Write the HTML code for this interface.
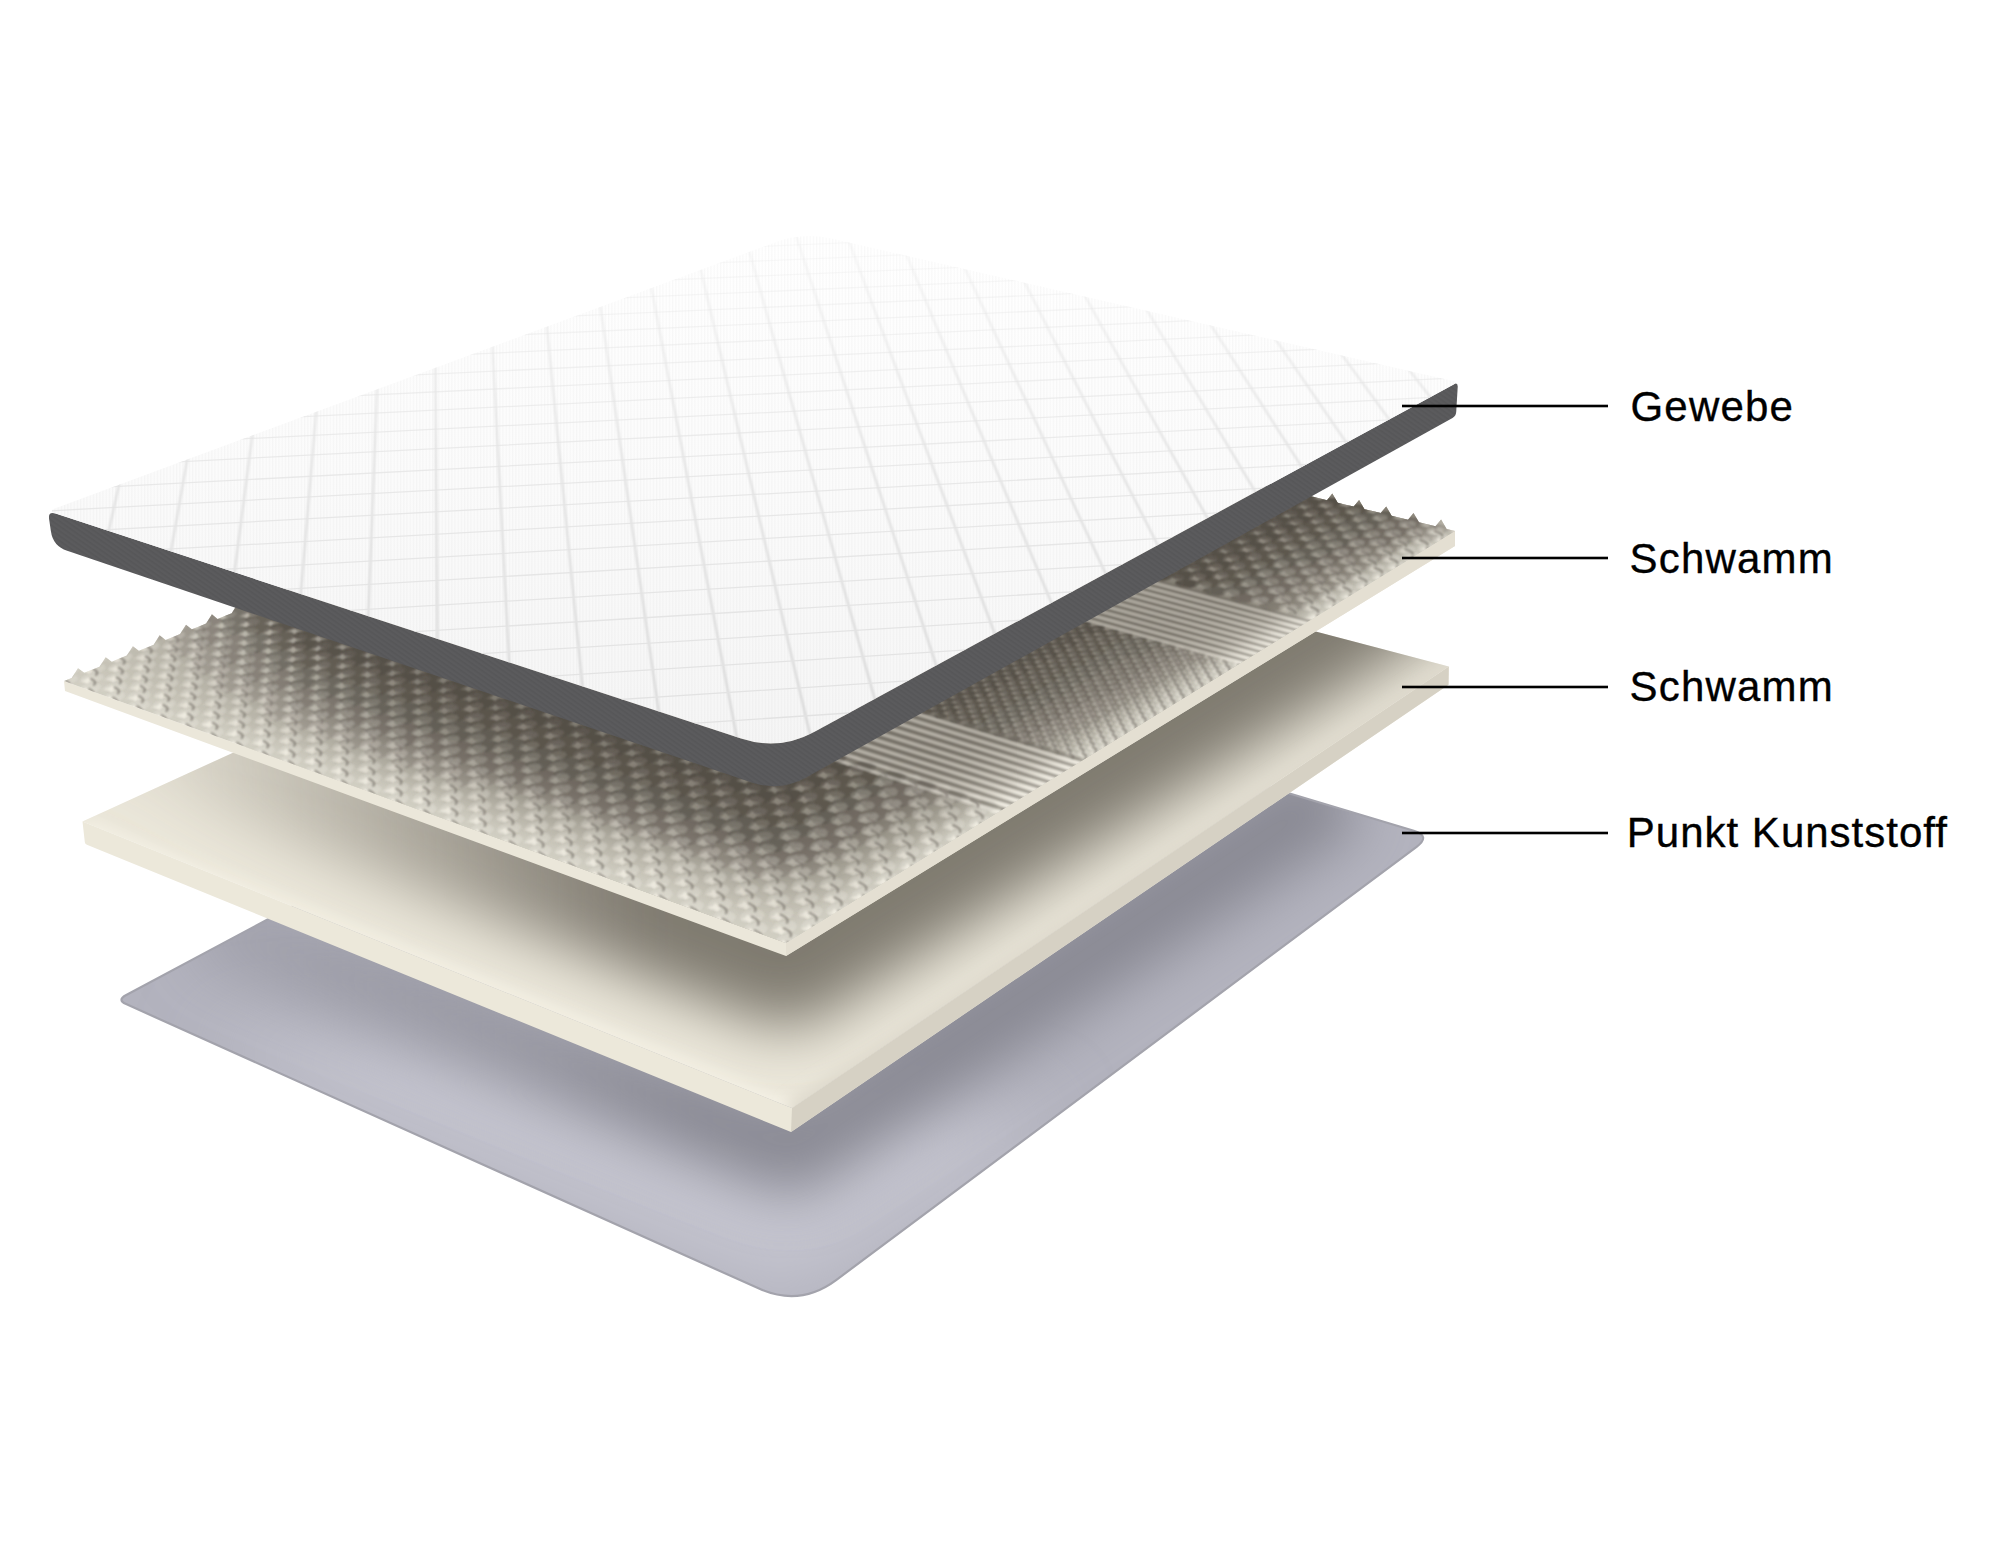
<!DOCTYPE html>
<html><head><meta charset="utf-8"><style>
html,body{margin:0;padding:0;background:#fff;width:2000px;height:1553px;overflow:hidden}
#c{position:absolute;left:0;top:0;width:2000px;height:1553px}
.lb{position:absolute;font-family:"Liberation Sans",sans-serif;font-size:42px;color:#000;white-space:nowrap;line-height:1;letter-spacing:1.2px;-webkit-text-stroke:0.35px #000}
.lb.pk{letter-spacing:1.0px}
</style></head><body>
<svg id="c" width="2000" height="1553" viewBox="0 0 2000 1553" xmlns="http://www.w3.org/2000/svg">
<defs>
<filter id="b1" x="-50%" y="-50%" width="200%" height="200%"><feGaussianBlur stdDeviation="1.1"/></filter>
<filter id="b2" x="-50%" y="-50%" width="200%" height="200%"><feGaussianBlur stdDeviation="2"/></filter>
<filter id="b3" x="-50%" y="-50%" width="200%" height="200%"><feGaussianBlur stdDeviation="3"/></filter>
<filter id="b8" x="-50%" y="-50%" width="200%" height="200%"><feGaussianBlur stdDeviation="8"/></filter>
<filter id="b15" x="-50%" y="-50%" width="200%" height="200%"><feGaussianBlur stdDeviation="15"/></filter>
<filter id="b20" x="-50%" y="-50%" width="200%" height="200%"><feGaussianBlur stdDeviation="20"/></filter>
<filter id="b25" x="-50%" y="-50%" width="200%" height="200%"><feGaussianBlur stdDeviation="25"/></filter>
<filter id="b28" x="-50%" y="-50%" width="200%" height="200%"><feGaussianBlur stdDeviation="28"/></filter>
<filter id="b30" x="-50%" y="-50%" width="200%" height="200%"><feGaussianBlur stdDeviation="30"/></filter>
<filter id="b35" x="-50%" y="-50%" width="200%" height="200%"><feGaussianBlur stdDeviation="35"/></filter>
<filter id="b40" x="-50%" y="-50%" width="200%" height="200%"><feGaussianBlur stdDeviation="40"/></filter>
<filter id="b60" x="-50%" y="-50%" width="200%" height="200%"><feGaussianBlur stdDeviation="60"/></filter>
<clipPath id="c4"><path d="M126.1 1004.1 Q117.0 1000.0 125.8 995.3 L786.0 642.0 L1413.8 830.8 Q1431.0 836.0 1416.6 846.8 L836.1 1280.1 Q800.0 1307.0 759.0 1288.6 Z"/></clipPath>
<linearGradient id="gs4" gradientUnits="userSpaceOnUse" x1="200" y1="0" x2="700" y2="0"><stop offset="0" stop-color="#868690" stop-opacity="0.30"/><stop offset="1" stop-color="#868690" stop-opacity="0.95"/></linearGradient>
<clipPath id="c3"><path d="M82.5 821.5 L797.0 495.0 L1448.8 666.4 L792.0 1108.0 Z"/></clipPath>
<linearGradient id="gs3" gradientUnits="userSpaceOnUse" x1="150" y1="0" x2="650" y2="0"><stop offset="0" stop-color="#7f7a70" stop-opacity="0.10"/><stop offset="1" stop-color="#7f7a70" stop-opacity="1.00"/></linearGradient>
<clipPath id="c2"><path d="M64.0 681.0L71.7 677.9L78.0 668.3L84.3 672.8L91.9 669.7L99.5 666.7L105.7 657.2L111.8 661.7L119.3 658.6L126.8 655.6L132.9 646.2L138.9 650.7L146.3 647.7L153.7 644.8L159.6 635.3L165.6 639.9L172.9 637.0L180.1 634.1L186.0 624.7L191.8 629.3L199.0 626.4L206.1 623.6L211.9 614.2L217.6 618.9L224.7 616.0L231.7 613.2L237.4 603.9L243.0 608.6L250.0 605.8L256.8 603.0L262.4 593.8L268.0 598.5L274.8 595.8L281.6 593.0L287.1 583.8L292.6 588.6L299.3 585.9L306.0 583.2L311.4 574.0L316.9 578.8L323.5 576.1L330.0 573.5L335.4 564.3L340.7 569.1L347.2 566.5L353.7 563.9L358.9 554.8L364.2 559.6L370.6 557.1L377.0 554.5L382.1 545.4L387.3 550.3L393.6 547.8L399.9 545.2L405.0 536.1L410.1 541.1L416.3 538.6L422.5 536.1L427.5 527.0L432.5 532.0L438.6 529.6L444.7 527.1L449.7 518.1L454.6 523.1L460.6 520.7L466.6 518.2L471.5 509.3L476.4 514.3L482.3 511.9L488.2 509.5L493.1 500.6L497.9 505.6L503.7 503.2L509.5 500.9L514.3 492.0L519.0 497.1L524.8 494.7L530.5 492.4L535.2 483.5L539.8 488.6L545.5 486.3L551.2 484.1L555.8 475.2L560.4 480.3L566.0 478.1L571.5 475.8L576.1 467.0L580.6 472.2L586.1 469.9L591.6 467.7L596.1 458.9L600.6 464.1L606.0 461.9L611.4 459.7L615.9 450.9L620.3 456.1L625.6 454.0L631.0 451.8L635.3 443.0L639.7 448.3L644.9 446.1L650.2 444.0L654.5 435.3L658.8 440.6L664.0 438.4L669.2 436.3L673.4 427.6L677.7 432.9L682.8 430.8L687.9 428.8L692.1 420.1L696.3 425.4L701.4 423.3L706.4 421.3L710.5 412.6L714.6 418.0L719.7 415.9L724.6 413.9L728.7 405.3L732.8 410.6L737.7 408.7L742.6 406.7L746.6 398.0L750.6 403.4L755.5 401.5L760.4 399.5L764.3 390.9L768.3 396.3L773.1 394.4L777.9 392.4L781.8 383.8L785.7 389.3L790.4 387.3L795.1 385.4L799.0 376.9L802.8 382.3L807.5 380.4L816.0 377.0L822.5 378.6L826.9 371.6L831.2 380.7L837.8 382.2L844.3 383.8L848.7 376.9L853.1 385.9L859.7 387.5L866.3 389.1L870.8 382.2L875.2 391.3L881.9 392.9L888.6 394.5L893.0 387.6L897.5 396.6L904.2 398.3L911.0 399.9L915.5 393.0L920.0 402.1L926.8 403.7L933.6 405.3L938.2 398.4L942.7 407.5L949.6 409.2L956.5 410.9L961.1 404.0L965.7 413.1L972.6 414.7L979.5 416.4L984.2 409.5L988.8 418.7L995.8 420.3L1002.8 422.0L1007.5 415.2L1012.2 424.3L1019.3 426.0L1026.3 427.7L1031.1 420.8L1035.8 430.0L1042.9 431.7L1050.1 433.4L1054.8 426.6L1059.6 435.7L1066.8 437.4L1074.0 439.2L1078.8 432.3L1083.7 441.5L1090.9 443.3L1098.2 445.0L1103.1 438.2L1108.0 447.4L1115.3 449.1L1122.7 450.9L1127.6 444.1L1132.5 453.3L1139.9 455.1L1147.3 456.8L1152.3 450.0L1157.3 459.2L1164.7 461.0L1172.2 462.9L1177.2 456.1L1182.3 465.3L1189.8 467.1L1197.4 468.9L1202.5 462.1L1207.5 471.4L1215.2 473.2L1222.8 475.0L1227.9 468.3L1233.0 477.5L1240.7 479.4L1248.5 481.2L1253.6 474.5L1258.8 483.7L1266.6 485.6L1274.4 487.5L1279.6 480.7L1284.8 490.0L1292.7 491.9L1300.6 493.8L1305.8 487.1L1311.1 496.3L1319.1 498.2L1327.0 500.2L1332.3 493.4L1337.7 502.7L1345.7 504.7L1353.7 506.6L1359.1 499.9L1364.5 509.2L1372.6 511.1L1380.7 513.1L1386.2 506.4L1391.6 515.7L1399.8 517.7L1408.0 519.7L1413.5 513.0L1419.0 522.3L1427.2 524.3L1435.5 526.3L1441.1 519.6L1446.6 529.0L1455.0 531.0L1455.0 531.0L786.0 943.0Z"/></clipPath>
<linearGradient id="gs2" gradientUnits="userSpaceOnUse" x1="120" y1="0" x2="420" y2="0"><stop offset="0" stop-color="#7a756b" stop-opacity="0.15"/><stop offset="1" stop-color="#7a756b" stop-opacity="1.00"/></linearGradient>
<pattern id="bt" patternUnits="userSpaceOnUse" width="4" height="4" patternTransform="rotate(35)"><rect width="4" height="1.6" fill="#000" fill-opacity="0.05"/></pattern>
<clipPath id="c1"><path d="M55.6 513.5 Q48.0 511.0 55.5 508.2 L774.9 242.4 Q803.0 232.0 832.2 238.7 L1453.1 380.9 Q1458.0 382.0 1453.6 384.4 L814.1 731.9 Q779.0 751.0 741.0 738.5 Z"/></clipPath>
<linearGradient id="g1" gradientUnits="userSpaceOnUse" x1="800" y1="240" x2="780" y2="750"><stop offset="0" stop-color="#ffffff"/><stop offset="0.5" stop-color="#fbfbfb"/><stop offset="1" stop-color="#f5f5f5"/></linearGradient>
<linearGradient id="gq" gradientUnits="userSpaceOnUse" x1="0" y1="250" x2="0" y2="720"><stop offset="0" stop-color="#d8d8d8" stop-opacity="0.25"/><stop offset="0.45" stop-color="#d8d8d8" stop-opacity="0.8"/><stop offset="1" stop-color="#d2d2d2" stop-opacity="1"/></linearGradient>
<linearGradient id="gr" gradientUnits="userSpaceOnUse" x1="0" y1="250" x2="0" y2="720"><stop offset="0" stop-color="#e4e4e4" stop-opacity="0.2"/><stop offset="0.5" stop-color="#e4e4e4" stop-opacity="0.8"/><stop offset="1" stop-color="#e2e2e2" stop-opacity="1"/></linearGradient>
<pattern id="vs" patternUnits="userSpaceOnUse" width="3.2" height="8"><rect width="1.1" height="8" fill="#000" fill-opacity="0.025"/></pattern>
</defs>
<path d="M126.1 1004.1 Q117.0 1000.0 125.8 995.3 L786.0 642.0 L1413.8 830.8 Q1431.0 836.0 1416.6 846.8 L836.1 1280.1 Q800.0 1307.0 759.0 1288.6 Z" fill="#b3b3be"/>
<g clip-path="url(#c4)">
<polygon points="200.0,1040.0 790.0,1290.0 1050.0,1120.0 560.0,1010.0" fill="#c7c7d2" filter="url(#b40)"/>
<polyline points="200.0,920.0 791.0,1150.0 1340.0,786.0" fill="none" stroke="url(#gs4)" stroke-width="90" filter="url(#b28)" stroke-linejoin="round" />
</g>
<path d="M126.1 1004.1 Q117.0 1000.0 125.8 995.3 L786.0 642.0 L1413.8 830.8 Q1431.0 836.0 1416.6 846.8 L836.1 1280.1 Q800.0 1307.0 759.0 1288.6 Z" fill="none" stroke="#a3a3ac" stroke-width="2.2"/>
<path d="M82.5 821.5 L792.0 1108.0 L1448.8 666.4 L1448.5 684.7 L791.0 1132.0 L86.9 844.8 Q85.0 844.0 84.8 842.0 Z" fill="#ece8da"/>
<polygon points="792.0,1108.0 1448.8,666.4 1448.5,684.7 791.0,1132.0" fill="#d6d1c4"/>
<path d="M82.5 821.5 L797.0 495.0 L1448.8 666.4 L792.0 1108.0 Z" fill="#ebe7da"/>
<g clip-path="url(#c3)">
<polyline points="100.0,700.0 786.0,962.0 1460.0,540.0" fill="none" stroke="url(#gs3)" stroke-width="130" filter="url(#b30)" stroke-linejoin="round" />
<polyline points="82.0,828.0 792.0,1112.0" fill="none" stroke="#f6f3e7" stroke-width="16" filter="url(#b8)"/>
<polyline points="792.0,1112.0 1450.0,672.0" fill="none" stroke="#dcd7ca" stroke-width="16" filter="url(#b8)"/>
</g>
<path d="M64.0 681.0 L786.0 943.0 L1455.0 531.0 L1455.0 546.0 L786.0 956.0 L65.0 691.0 Z" fill="#ebe7da"/>
<polygon points="786.0,943.0 1455.0,531.0 1455.0,546.0 786.0,956.0" fill="#e4dfd2"/>
<path d="M64.0 681.0L71.7 677.9L78.0 668.3L84.3 672.8L91.9 669.7L99.5 666.7L105.7 657.2L111.8 661.7L119.3 658.6L126.8 655.6L132.9 646.2L138.9 650.7L146.3 647.7L153.7 644.8L159.6 635.3L165.6 639.9L172.9 637.0L180.1 634.1L186.0 624.7L191.8 629.3L199.0 626.4L206.1 623.6L211.9 614.2L217.6 618.9L224.7 616.0L231.7 613.2L237.4 603.9L243.0 608.6L250.0 605.8L256.8 603.0L262.4 593.8L268.0 598.5L274.8 595.8L281.6 593.0L287.1 583.8L292.6 588.6L299.3 585.9L306.0 583.2L311.4 574.0L316.9 578.8L323.5 576.1L330.0 573.5L335.4 564.3L340.7 569.1L347.2 566.5L353.7 563.9L358.9 554.8L364.2 559.6L370.6 557.1L377.0 554.5L382.1 545.4L387.3 550.3L393.6 547.8L399.9 545.2L405.0 536.1L410.1 541.1L416.3 538.6L422.5 536.1L427.5 527.0L432.5 532.0L438.6 529.6L444.7 527.1L449.7 518.1L454.6 523.1L460.6 520.7L466.6 518.2L471.5 509.3L476.4 514.3L482.3 511.9L488.2 509.5L493.1 500.6L497.9 505.6L503.7 503.2L509.5 500.9L514.3 492.0L519.0 497.1L524.8 494.7L530.5 492.4L535.2 483.5L539.8 488.6L545.5 486.3L551.2 484.1L555.8 475.2L560.4 480.3L566.0 478.1L571.5 475.8L576.1 467.0L580.6 472.2L586.1 469.9L591.6 467.7L596.1 458.9L600.6 464.1L606.0 461.9L611.4 459.7L615.9 450.9L620.3 456.1L625.6 454.0L631.0 451.8L635.3 443.0L639.7 448.3L644.9 446.1L650.2 444.0L654.5 435.3L658.8 440.6L664.0 438.4L669.2 436.3L673.4 427.6L677.7 432.9L682.8 430.8L687.9 428.8L692.1 420.1L696.3 425.4L701.4 423.3L706.4 421.3L710.5 412.6L714.6 418.0L719.7 415.9L724.6 413.9L728.7 405.3L732.8 410.6L737.7 408.7L742.6 406.7L746.6 398.0L750.6 403.4L755.5 401.5L760.4 399.5L764.3 390.9L768.3 396.3L773.1 394.4L777.9 392.4L781.8 383.8L785.7 389.3L790.4 387.3L795.1 385.4L799.0 376.9L802.8 382.3L807.5 380.4L816.0 377.0L822.5 378.6L826.9 371.6L831.2 380.7L837.8 382.2L844.3 383.8L848.7 376.9L853.1 385.9L859.7 387.5L866.3 389.1L870.8 382.2L875.2 391.3L881.9 392.9L888.6 394.5L893.0 387.6L897.5 396.6L904.2 398.3L911.0 399.9L915.5 393.0L920.0 402.1L926.8 403.7L933.6 405.3L938.2 398.4L942.7 407.5L949.6 409.2L956.5 410.9L961.1 404.0L965.7 413.1L972.6 414.7L979.5 416.4L984.2 409.5L988.8 418.7L995.8 420.3L1002.8 422.0L1007.5 415.2L1012.2 424.3L1019.3 426.0L1026.3 427.7L1031.1 420.8L1035.8 430.0L1042.9 431.7L1050.1 433.4L1054.8 426.6L1059.6 435.7L1066.8 437.4L1074.0 439.2L1078.8 432.3L1083.7 441.5L1090.9 443.3L1098.2 445.0L1103.1 438.2L1108.0 447.4L1115.3 449.1L1122.7 450.9L1127.6 444.1L1132.5 453.3L1139.9 455.1L1147.3 456.8L1152.3 450.0L1157.3 459.2L1164.7 461.0L1172.2 462.9L1177.2 456.1L1182.3 465.3L1189.8 467.1L1197.4 468.9L1202.5 462.1L1207.5 471.4L1215.2 473.2L1222.8 475.0L1227.9 468.3L1233.0 477.5L1240.7 479.4L1248.5 481.2L1253.6 474.5L1258.8 483.7L1266.6 485.6L1274.4 487.5L1279.6 480.7L1284.8 490.0L1292.7 491.9L1300.6 493.8L1305.8 487.1L1311.1 496.3L1319.1 498.2L1327.0 500.2L1332.3 493.4L1337.7 502.7L1345.7 504.7L1353.7 506.6L1359.1 499.9L1364.5 509.2L1372.6 511.1L1380.7 513.1L1386.2 506.4L1391.6 515.7L1399.8 517.7L1408.0 519.7L1413.5 513.0L1419.0 522.3L1427.2 524.3L1435.5 526.3L1441.1 519.6L1446.6 529.0L1455.0 531.0L1455.0 531.0L786.0 943.0Z" fill="#ece8dc"/>
<g clip-path="url(#c2)">
<polyline points="40.0,548.0 778.0,791.0 1470.0,410.0" fill="none" stroke="url(#gs2)" stroke-width="170" filter="url(#b28)" stroke-linejoin="round" />
<polyline points="770.0,800.0 1480.0,400.0" fill="none" stroke="#8a857a" stroke-width="190" stroke-opacity="0.55" filter="url(#b35)"/>
<polyline points="64.0,681.0 786.0,946.0 1455.0,534.0" fill="none" stroke="#f2efe4" stroke-width="26" filter="url(#b8)" opacity="0.9"/>
<g filter="url(#b1)">
<path fill="#4d4840" fill-opacity="0.19" d="M60 681L65 677L61 673L52 672L41 674L36 678L39 682L49 683ZM83 690L88 685L85 682L75 680L64 683L59 687L62 691L72 692ZM107 698L112 694L109 690L99 689L88 691L83 696L86 699L96 701ZM131 707L136 703L133 699L123 698L112 700L107 704L110 708L120 709ZM156 716L161 712L157 708L147 707L136 709L131 713L135 717L145 718ZM181 725L185 720L182 717L171 715L161 718L156 722L159 726L170 727ZM206 734L211 730L207 726L196 724L186 727L181 731L184 735L195 736ZM231 743L236 739L232 735L221 734L211 736L206 740L210 745L220 746ZM257 753L262 748L257 744L247 743L236 745L231 750L235 754L246 755ZM283 762L287 757L283 753L273 752L262 755L257 759L261 763L272 765ZM309 772L314 767L310 763L299 761L288 764L283 769L287 773L298 774ZM336 781L340 777L336 772L325 771L314 774L310 778L314 783L325 784ZM363 791L367 786L363 782L352 781L341 783L336 788L341 793L352 794ZM390 801L395 796L390 792L379 791L368 793L364 798L368 802L379 804ZM418 811L422 806L418 802L407 800L396 803L391 808L396 813L407 814ZM446 821L450 816L446 812L434 811L423 813L419 818L424 823L435 824ZM474 832L479 827L474 822L463 821L452 823L447 829L452 833L463 834ZM503 842L508 837L503 832L491 831L480 834L476 839L481 844L492 845ZM532 853L537 848L532 843L520 842L509 844L505 850L510 854L521 856ZM562 864L566 858L561 853L549 852L538 855L534 860L539 865L551 866ZM592 874L596 869L591 864L579 863L568 866L564 871L569 876L581 877ZM622 885L626 880L621 875L609 874L598 877L594 882L599 887L611 888ZM653 897L657 891L651 886L640 885L629 888L625 893L630 898L642 900ZM684 908L688 902L683 897L671 896L659 899L656 905L661 910L673 911ZM716 920L720 914L714 909L702 907L691 910L687 916L693 921L705 923ZM748 931L752 925L746 920L734 919L723 922L719 928L725 933L737 934ZM781 943L784 937L778 932L766 930L755 934L751 939L757 945L770 946ZM814 955L817 949L811 944L799 942L787 945L784 951L790 957L803 958ZM847 967L851 961L844 956L832 954L820 957L817 963L823 969L836 970ZM85 680L90 675L87 672L77 671L67 673L61 677L65 681L75 682ZM109 688L114 684L111 680L101 679L90 681L85 686L88 689L98 690ZM133 697L138 693L135 689L125 688L114 690L109 694L112 698L122 699ZM157 706L162 701L159 697L149 696L138 699L133 703L136 707L147 708ZM182 714L187 710L183 706L173 705L162 707L157 712L161 716L171 717ZM207 723L212 719L208 715L198 714L187 716L182 721L186 725L196 726ZM232 733L237 728L233 724L223 723L212 725L207 730L211 734L221 735ZM258 742L262 737L258 733L248 732L237 734L232 739L236 743L247 744ZM284 751L288 746L284 742L274 741L263 744L258 748L262 752L273 753ZM310 760L314 756L310 752L300 750L289 753L284 758L288 762L299 763ZM336 770L341 765L336 761L326 760L315 762L310 767L315 771L325 773ZM363 780L368 775L363 771L352 769L341 772L337 777L341 781L352 782ZM390 789L395 785L390 780L379 779L368 782L364 787L368 791L379 792ZM418 799L422 794L417 790L407 789L396 791L391 796L396 801L407 802ZM446 809L450 804L445 800L434 799L423 801L419 806L423 811L435 812ZM474 820L478 815L473 810L462 809L451 811L447 817L452 821L463 822ZM502 830L507 825L502 820L490 819L479 822L475 827L480 831L491 833ZM531 840L535 835L530 831L519 829L508 832L504 837L509 842L520 843ZM561 851L565 846L560 841L548 840L537 842L533 848L538 852L550 854ZM590 862L594 856L589 852L578 850L567 853L562 858L568 863L579 865ZM621 873L624 867L619 862L607 861L596 864L592 869L598 874L609 875ZM651 884L655 878L649 873L638 872L627 875L623 880L628 885L640 887ZM682 895L686 889L680 884L668 883L657 886L653 891L659 896L671 898ZM713 906L717 900L711 895L699 894L688 897L684 903L690 908L702 909ZM745 918L749 912L743 907L731 905L720 908L716 914L722 919L734 921ZM777 929L781 923L775 918L763 917L752 920L748 926L754 931L766 932ZM810 941L814 935L807 930L795 928L784 932L780 937L787 943L799 944ZM843 953L847 947L840 942L828 940L817 943L813 949L820 955L832 956ZM877 965L880 959L874 954L861 952L850 955L847 961L853 967L866 968ZM87 670L93 666L89 662L79 661L69 663L64 667L67 671L77 672ZM111 678L116 674L113 670L103 669L92 671L87 676L90 679L100 680ZM135 687L140 682L136 679L126 678L116 680L111 684L114 688L124 689ZM159 695L164 691L160 687L150 686L140 688L135 693L138 697L148 698ZM184 704L188 700L185 696L175 695L164 697L159 701L163 705L173 706ZM208 713L213 709L209 705L199 704L188 706L184 710L187 714L198 715ZM233 722L238 717L234 714L224 712L213 715L208 719L212 723L223 724ZM259 731L263 726L259 723L249 721L238 724L234 728L237 732L248 733ZM284 740L289 736L285 732L274 730L264 733L259 737L263 741L274 743ZM310 749L315 745L311 741L300 740L289 742L285 747L289 751L299 752ZM337 759L341 754L337 750L326 749L315 751L311 756L315 760L326 761ZM363 768L368 764L363 759L353 758L342 761L337 765L342 770L352 771ZM390 778L395 773L390 769L379 768L369 770L364 775L368 779L379 781ZM417 788L422 783L417 779L406 777L396 780L391 785L396 789L407 790ZM445 798L449 793L445 788L434 787L423 790L418 795L423 799L434 800ZM473 808L477 803L473 798L461 797L451 800L446 805L451 809L462 810ZM501 818L506 813L501 808L490 807L479 810L474 815L479 819L490 821ZM530 828L534 823L529 819L518 817L507 820L503 825L508 830L519 831ZM559 839L563 833L558 829L547 828L536 830L532 835L537 840L548 841ZM589 849L593 844L587 839L576 838L565 841L561 846L566 851L578 852ZM619 860L623 855L617 850L606 848L595 851L591 857L596 861L608 863ZM649 871L653 865L647 861L636 859L625 862L621 867L626 872L638 874ZM680 882L683 876L678 871L666 870L655 873L651 878L657 883L669 885ZM711 893L714 887L709 882L697 881L686 884L682 889L688 894L700 896ZM742 904L746 898L740 893L728 892L717 895L713 901L719 906L731 907ZM774 916L778 910L772 905L760 903L749 906L745 912L751 917L763 919ZM807 927L810 921L804 916L792 915L781 918L777 924L783 929L796 930ZM839 939L843 933L836 928L824 926L813 929L810 935L816 941L828 942ZM873 951L876 945L869 940L857 938L846 941L843 947L849 952L862 954ZM113 668L118 664L115 661L105 660L94 662L89 666L93 669L102 671ZM137 677L142 673L138 669L128 668L118 670L113 674L116 678L126 679ZM161 685L166 681L162 677L152 676L141 678L137 683L140 686L150 688ZM185 694L190 690L186 686L176 685L166 687L161 691L164 695L174 696ZM210 703L214 698L211 694L200 693L190 696L185 700L189 704L199 705ZM234 711L239 707L235 703L225 702L214 704L210 709L213 713L224 714ZM260 720L264 716L260 712L250 711L239 713L235 718L239 722L249 723ZM285 729L290 725L286 721L275 720L265 722L260 727L264 731L274 732ZM311 739L315 734L311 730L301 729L290 731L285 736L290 740L300 741ZM337 748L341 743L337 739L327 738L316 740L311 745L316 749L326 750ZM363 757L368 753L363 748L353 747L342 750L338 754L342 759L353 760ZM390 767L395 762L390 758L379 757L369 759L364 764L369 768L379 769ZM417 776L422 772L417 767L406 766L395 769L391 773L396 778L406 779ZM445 786L449 781L444 777L433 776L423 778L418 783L423 787L434 789ZM472 796L477 791L472 787L461 786L450 788L446 793L451 797L462 799ZM501 806L505 801L500 797L489 795L478 798L474 803L479 807L490 809ZM529 816L533 811L528 807L517 805L506 808L502 813L507 818L518 819ZM558 826L562 821L557 817L546 816L535 818L531 823L536 828L547 829ZM587 837L591 832L586 827L575 826L564 828L560 834L565 838L576 840ZM617 847L621 842L615 837L604 836L593 839L589 844L594 849L606 850ZM647 858L651 853L645 848L634 847L623 849L619 855L624 859L636 861ZM677 869L681 863L675 859L664 857L653 860L649 866L655 870L666 872ZM708 880L712 874L706 869L694 868L683 871L680 876L685 881L697 883ZM739 891L743 885L737 880L725 879L714 882L711 887L716 892L728 894ZM771 902L774 897L768 892L757 890L746 893L742 899L748 904L760 905ZM803 914L807 908L800 903L788 901L777 904L774 910L780 915L792 917ZM836 925L839 919L833 914L821 913L810 916L806 922L812 927L825 928ZM869 937L872 931L865 926L853 924L842 927L839 933L845 938L858 940ZM902 949L905 943L899 938L886 936L875 939L872 945L879 950L891 952ZM115 659L120 655L116 651L107 650L96 652L91 656L95 660L104 661ZM138 667L143 663L140 659L130 658L120 660L115 664L118 668L128 669ZM162 675L167 671L164 667L154 666L143 669L138 673L142 676L152 678ZM186 684L191 680L188 676L178 675L167 677L162 681L166 685L176 686ZM211 692L216 688L212 684L202 683L191 686L186 690L190 694L200 695ZM236 701L240 697L236 693L226 692L216 694L211 698L215 702L225 703ZM260 710L265 706L261 702L251 701L240 703L236 707L240 711L250 712ZM500 794L504 789L499 785L488 784L477 786L473 791L478 796L489 797ZM528 804L532 799L527 795L516 794L505 796L501 801L506 806L517 807ZM557 814L561 809L556 805L544 804L534 806L530 811L535 816L546 817ZM586 825L590 820L584 815L573 814L562 816L558 822L563 826L575 827ZM615 835L619 830L614 825L602 824L591 827L587 832L593 836L604 838ZM645 846L649 840L643 836L632 834L621 837L617 842L622 847L634 848ZM675 856L679 851L673 846L662 845L651 848L647 853L652 858L664 859ZM705 867L709 862L703 857L692 855L681 858L677 864L683 868L695 870ZM736 878L740 872L734 868L722 866L712 869L708 875L714 879L726 881ZM768 889L771 883L765 879L754 877L743 880L739 886L745 890L757 892ZM800 900L803 895L797 890L785 888L774 891L771 897L777 902L789 903ZM832 912L835 906L829 901L817 899L806 902L803 908L809 913L821 915ZM865 923L868 917L861 912L849 911L838 914L835 920L841 925L854 926ZM898 935L901 929L894 924L882 922L871 925L868 931L875 936L887 938ZM140 657L145 653L142 650L132 649L122 651L117 655L120 658L130 659ZM164 666L169 661L165 658L155 657L145 659L140 663L144 667L153 668ZM188 674L193 670L189 666L179 665L169 667L164 671L167 675L177 676ZM212 682L217 678L213 675L203 673L193 676L188 680L192 684L202 685ZM796 887L800 882L794 877L782 875L771 878L768 884L774 889L785 890ZM828 898L832 893L825 888L813 886L803 889L799 895L805 900L817 901ZM861 910L864 904L858 899L846 898L835 900L831 906L838 911L850 913ZM894 921L897 915L890 910L878 909L867 912L864 918L870 923L883 924ZM927 933L930 927L923 922L911 920L900 923L897 929L904 934L916 936ZM142 648L147 644L143 640L134 639L123 641L118 645L122 649L132 650ZM165 656L170 652L167 648L157 647L147 649L142 653L145 657L155 658ZM189 664L194 660L190 656L181 655L170 658L165 662L169 665L179 666ZM825 885L828 880L822 875L810 873L799 876L796 882L802 887L814 888ZM857 896L860 891L854 886L842 884L831 887L828 893L834 898L846 899ZM889 908L892 902L886 897L874 896L863 899L860 904L866 909L879 911ZM922 919L925 913L919 908L907 907L896 910L893 916L899 921L912 922ZM167 646L172 642L168 639L159 638L148 640L144 644L147 647L157 648ZM853 883L856 878L850 873L838 872L827 874L824 880L830 885L842 886ZM885 894L888 889L882 884L870 883L859 885L856 891L862 896L875 897ZM918 906L921 900L914 895L902 894L892 897L889 902L895 907L907 909ZM951 917L954 911L947 906L935 905L925 908L922 914L928 919L940 920ZM849 870L852 865L846 860L834 859L824 862L821 867L827 872L839 873ZM881 881L884 876L878 871L866 870L856 873L852 878L859 883L871 884ZM914 892L917 887L910 882L898 881L888 884L885 889L891 894L903 895ZM946 904L949 898L943 893L931 892L920 895L917 900L924 905L936 907ZM877 868L880 863L874 858L862 857L852 860L849 865L855 870L867 871ZM909 879L912 874L906 869L894 868L884 871L881 876L887 881L899 882ZM942 890L945 885L938 880L926 879L916 882L913 887L919 892L931 893ZM975 902L978 896L971 891L959 890L948 893L946 898L952 903L964 905ZM873 856L876 851L870 846L859 845L848 847L845 853L851 857L863 859ZM905 867L908 861L902 857L890 855L880 858L877 863L883 868L895 869ZM937 878L940 872L934 867L922 866L912 869L909 874L915 879L927 880ZM970 889L973 883L966 878L954 877L944 880L941 885L947 890L960 891ZM901 854L904 849L898 844L886 843L876 846L873 851L879 855L891 857ZM933 865L936 859L929 855L918 853L907 856L904 861L911 866L923 868ZM965 876L968 870L962 865L950 864L939 867L937 872L943 877L955 879ZM998 887L1001 881L994 876L982 875L972 878L969 883L976 888L988 890ZM897 842L900 836L894 832L882 831L872 833L869 838L875 843L887 844ZM929 852L931 847L925 842L913 841L903 844L900 849L906 854L918 855ZM961 863L963 858L957 853L945 852L935 854L932 860L938 864L950 866ZM993 874L996 868L989 864L977 862L967 865L964 870L971 875L983 877ZM924 840L927 835L921 830L909 829L899 831L896 837L902 841L914 843ZM956 850L959 845L952 840L941 839L931 842L928 847L934 852L946 853ZM988 861L991 856L984 851L973 850L962 852L960 858L966 863L978 864ZM1021 872L1024 866L1017 862L1005 860L995 863L992 869L999 873L1011 875ZM920 828L923 823L917 818L905 817L895 819L892 825L898 829L910 830ZM952 838L954 833L948 828L936 827L926 830L923 835L930 839L941 841ZM984 849L986 843L980 839L968 837L958 840L955 845L962 850L973 851ZM1016 859L1018 854L1012 849L1000 848L990 851L987 856L994 861L1006 862ZM947 826L950 821L944 816L932 815L922 818L919 823L925 827L937 829ZM979 836L981 831L975 827L964 825L953 828L951 833L957 838L969 839ZM1011 847L1013 842L1007 837L995 836L985 838L983 844L989 848L1001 850ZM1043 857L1046 852L1039 847L1027 846L1017 849L1015 854L1021 859L1033 860ZM943 814L945 809L939 805L928 803L918 806L915 811L921 815L933 817ZM974 824L977 819L971 815L959 813L949 816L946 821L953 826L964 827ZM1006 834L1009 829L1002 825L991 823L981 826L978 831L984 836L996 837ZM1038 845L1041 840L1034 835L1022 834L1012 837L1010 842L1016 846L1028 848ZM970 812L972 807L966 803L955 802L945 804L942 809L948 814L960 815ZM1001 822L1004 817L997 813L986 812L976 814L973 819L980 824L991 825ZM1033 833L1036 828L1029 823L1017 822L1007 824L1005 830L1011 834L1023 835ZM1065 843L1068 838L1061 833L1049 832L1040 835L1037 840L1044 845L1055 846ZM996 810L999 806L993 801L981 800L971 802L969 807L975 812L986 813ZM1028 821L1030 816L1024 811L1013 810L1003 813L1000 818L1007 822L1018 823ZM1060 831L1062 826L1056 821L1044 820L1034 823L1032 828L1038 832L1050 834ZM1052 750L1053 747L1050 745L1044 745L1039 746L1038 748L1041 750L1047 751ZM1067 754L1068 752L1065 750L1059 749L1055 751L1053 753L1057 755L1062 756ZM1082 759L1083 757L1080 755L1075 754L1070 755L1069 758L1072 760L1078 760ZM1098 764L1099 762L1096 759L1090 759L1085 760L1084 762L1087 764L1093 765ZM1113 769L1114 766L1111 764L1106 764L1101 765L1100 767L1103 769L1109 770ZM1064 749L1065 747L1062 745L1057 744L1052 745L1051 748L1054 750L1060 750ZM1080 754L1081 751L1078 749L1072 749L1067 750L1066 752L1069 754L1075 755ZM1095 758L1096 756L1093 754L1087 753L1083 755L1082 757L1085 759L1090 760ZM1111 763L1112 761L1108 759L1103 758L1098 759L1097 762L1100 764L1106 764ZM1126 768L1127 765L1124 763L1118 763L1114 764L1113 766L1116 768L1122 769ZM1062 744L1063 741L1060 739L1054 739L1050 740L1049 742L1052 744L1057 745ZM1077 748L1078 746L1075 744L1070 743L1065 745L1064 747L1067 749L1072 749ZM1092 753L1094 751L1090 749L1085 748L1080 749L1079 751L1082 753L1088 754ZM1108 758L1109 755L1106 753L1100 753L1096 754L1094 756L1098 758L1103 759ZM1123 762L1124 760L1121 758L1116 757L1111 758L1110 761L1113 763L1119 763ZM1075 743L1076 741L1072 739L1067 738L1062 739L1061 741L1064 743L1070 744ZM1090 747L1091 745L1088 743L1082 743L1078 744L1076 746L1080 748L1085 749ZM1105 752L1106 750L1103 748L1098 747L1093 748L1092 751L1095 753L1101 753ZM1121 757L1122 754L1119 752L1113 752L1108 753L1107 755L1110 757L1116 758ZM1136 761L1137 759L1134 757L1128 756L1124 758L1123 760L1126 762L1132 763ZM1072 737L1073 735L1070 733L1064 733L1060 734L1059 736L1062 738L1067 739ZM1087 742L1088 740L1085 738L1080 737L1075 738L1074 741L1077 743L1083 743ZM1103 747L1104 744L1100 742L1095 742L1090 743L1089 745L1092 747L1098 748ZM1118 751L1119 749L1116 747L1110 746L1106 748L1105 750L1108 752L1113 753ZM1133 756L1134 754L1131 752L1126 751L1121 752L1120 755L1123 757L1129 757ZM1085 737L1086 734L1083 732L1077 732L1072 733L1071 735L1075 737L1080 738ZM1100 741L1101 739L1098 737L1092 736L1088 738L1087 740L1090 742L1095 742ZM1115 746L1116 744L1113 742L1108 741L1103 742L1102 744L1105 746L1111 747ZM1131 751L1132 748L1128 746L1123 746L1118 747L1117 749L1121 751L1126 752ZM1146 755L1147 753L1144 751L1138 750L1134 751L1133 754L1136 756L1142 756ZM1097 736L1098 734L1095 732L1090 731L1085 732L1084 735L1087 737L1093 737ZM1113 740L1114 738L1110 736L1105 736L1100 737L1099 739L1102 741L1108 742ZM1128 745L1129 743L1126 741L1120 740L1116 741L1115 744L1118 746L1123 746ZM1143 750L1144 747L1141 745L1136 745L1131 746L1130 748L1133 750L1139 751ZM1095 731L1096 728L1093 726L1087 726L1083 727L1081 729L1085 731L1090 732ZM1110 735L1111 733L1108 731L1102 730L1098 732L1097 734L1100 736L1105 736ZM1125 740L1126 737L1123 735L1118 735L1113 736L1112 738L1115 740L1121 741ZM1141 744L1142 742L1138 740L1133 739L1128 741L1127 743L1130 745L1136 746ZM1156 749L1157 747L1154 745L1148 744L1144 745L1143 748L1146 750L1152 750ZM1107 730L1108 728L1105 726L1100 725L1095 726L1094 728L1097 730L1103 731ZM1122 734L1123 732L1120 730L1115 730L1110 731L1109 733L1112 735L1118 736ZM1138 739L1139 737L1136 735L1130 734L1126 735L1125 738L1128 740L1133 740ZM1153 744L1154 741L1151 739L1145 739L1141 740L1140 742L1143 744L1149 745ZM1105 725L1106 722L1102 720L1097 720L1092 721L1091 723L1095 725L1100 726ZM1120 729L1121 727L1118 725L1112 724L1108 725L1107 728L1110 730L1115 730ZM1135 734L1136 731L1133 729L1127 729L1123 730L1122 732L1125 734L1130 735ZM1150 738L1151 736L1148 734L1143 733L1138 735L1137 737L1140 739L1146 739ZM1166 743L1167 740L1164 738L1158 738L1154 739L1153 741L1156 743L1161 744ZM1117 724L1118 722L1115 720L1110 719L1105 720L1104 722L1107 724L1113 725ZM1132 728L1133 726L1130 724L1125 724L1120 725L1119 727L1122 729L1128 730ZM1148 733L1149 731L1145 729L1140 728L1135 729L1134 731L1138 733L1143 734ZM1163 737L1164 735L1161 733L1155 733L1151 734L1150 736L1153 738L1158 739ZM1114 719L1115 716L1112 714L1107 714L1102 715L1101 717L1104 719L1110 720ZM1130 723L1131 721L1127 719L1122 718L1117 720L1116 722L1120 724L1125 724ZM1145 728L1146 725L1143 723L1137 723L1133 724L1132 726L1135 728L1140 729ZM1160 732L1161 730L1158 728L1152 727L1148 728L1147 731L1150 733L1156 733ZM1176 737L1177 734L1173 732L1168 732L1163 733L1162 735L1166 737L1171 738ZM1127 718L1128 716L1125 714L1119 713L1115 714L1114 717L1117 718L1122 719ZM1142 722L1143 720L1140 718L1134 718L1130 719L1129 721L1132 723L1138 723ZM1157 727L1158 725L1155 723L1150 722L1145 723L1144 725L1147 727L1153 728ZM1173 731L1174 729L1170 727L1165 727L1160 728L1159 730L1163 732L1168 733ZM1124 713L1125 711L1122 709L1117 708L1112 709L1111 711L1114 713L1120 714ZM1139 717L1140 715L1137 713L1132 712L1127 714L1126 716L1129 718L1135 718ZM1155 722L1155 719L1152 717L1147 717L1142 718L1141 720L1145 722L1150 723ZM1170 726L1171 724L1168 722L1162 721L1158 722L1157 725L1160 727L1165 727ZM1185 731L1186 728L1183 726L1177 726L1173 727L1172 729L1175 731L1181 732ZM1137 712L1138 710L1134 708L1129 707L1125 708L1124 711L1127 713L1132 713ZM1152 716L1153 714L1150 712L1144 712L1140 713L1139 715L1142 717L1147 718ZM1167 721L1168 719L1165 717L1159 716L1155 717L1154 719L1157 721L1162 722ZM1182 725L1183 723L1180 721L1175 721L1170 722L1169 724L1172 726L1178 726ZM1134 707L1135 705L1132 703L1126 702L1122 703L1121 705L1124 707L1129 708ZM1149 711L1150 709L1147 707L1141 707L1137 708L1136 710L1139 712L1144 712ZM1164 716L1165 713L1162 712L1156 711L1152 712L1151 714L1154 716L1160 717ZM1179 720L1180 718L1177 716L1172 715L1167 717L1166 719L1169 721L1175 721ZM1195 725L1196 722L1192 720L1187 720L1182 721L1182 723L1185 725L1190 726ZM1146 706L1147 704L1144 702L1139 701L1134 703L1133 705L1136 707L1142 707ZM1161 710L1162 708L1159 706L1154 706L1149 707L1148 709L1151 711L1157 712ZM1177 715L1177 713L1174 711L1169 710L1164 711L1163 714L1167 715L1172 716ZM1192 719L1193 717L1189 715L1184 715L1180 716L1179 718L1182 720L1187 720ZM1143 701L1144 699L1141 697L1136 696L1132 698L1131 700L1134 702L1139 702ZM1159 705L1159 703L1156 701L1151 701L1146 702L1146 704L1149 706L1154 707ZM1174 710L1175 708L1171 706L1166 705L1162 706L1161 708L1164 710L1169 711ZM1189 714L1190 712L1187 710L1181 709L1177 711L1176 713L1179 715L1184 715ZM1204 719L1205 716L1202 714L1196 714L1192 715L1191 717L1194 719L1200 720ZM1156 700L1157 698L1154 696L1148 696L1144 697L1143 699L1146 701L1151 701ZM1171 705L1172 702L1169 701L1163 700L1159 701L1158 703L1161 705L1166 706ZM1186 709L1187 707L1184 705L1178 704L1174 706L1173 708L1176 710L1182 710ZM1201 713L1202 711L1199 709L1193 709L1189 710L1188 712L1191 714L1197 715ZM1153 695L1154 693L1151 691L1145 691L1141 692L1140 694L1143 696L1149 696ZM1168 700L1169 697L1166 696L1160 695L1156 696L1155 698L1158 700L1164 701ZM1183 704L1184 702L1181 700L1175 699L1171 700L1170 703L1173 704L1179 705ZM1198 708L1199 706L1196 704L1191 704L1186 705L1185 707L1188 709L1194 709ZM1214 713L1214 710L1211 709L1206 708L1201 709L1201 711L1204 713L1209 714ZM1165 695L1166 692L1163 691L1158 690L1153 691L1152 693L1155 695L1161 696ZM1180 699L1181 697L1178 695L1173 694L1168 695L1167 698L1170 699L1176 700ZM1195 703L1196 701L1193 699L1188 699L1183 700L1182 702L1186 704L1191 704ZM1211 708L1211 705L1208 703L1203 703L1198 704L1198 706L1201 708L1206 709ZM1162 690L1163 687L1160 686L1155 685L1151 686L1150 688L1153 690L1158 691ZM1177 694L1178 692L1175 690L1170 689L1165 690L1165 692L1168 694L1173 695ZM1192 698L1193 696L1190 694L1185 694L1180 695L1180 697L1183 699L1188 699ZM1208 702L1208 700L1205 698L1200 698L1196 699L1195 701L1198 703L1203 704ZM1223 707L1224 705L1220 703L1215 702L1211 703L1210 705L1213 707L1218 708ZM1175 689L1175 687L1172 685L1167 684L1163 685L1162 687L1165 689L1170 690ZM1190 693L1190 691L1187 689L1182 689L1178 690L1177 692L1180 694L1185 694ZM1205 697L1206 695L1202 693L1197 693L1193 694L1192 696L1195 698L1200 699ZM1220 702L1221 700L1217 698L1212 697L1208 698L1207 700L1210 702L1215 703ZM1172 684L1173 682L1170 680L1164 679L1160 680L1159 683L1162 684L1167 685ZM1187 688L1188 686L1184 684L1179 684L1175 685L1174 687L1177 689L1182 689ZM1202 692L1203 690L1199 688L1194 688L1190 689L1189 691L1192 693L1197 693ZM1217 697L1218 695L1215 693L1209 692L1205 693L1204 695L1207 697L1213 698ZM1232 701L1233 699L1230 697L1224 696L1220 698L1219 700L1222 702L1228 702ZM1184 683L1185 681L1182 679L1176 679L1172 680L1171 682L1174 684L1180 684ZM1199 687L1200 685L1197 683L1191 683L1187 684L1186 686L1189 688L1195 688ZM1214 692L1215 690L1212 688L1206 687L1202 688L1201 690L1204 692L1210 693ZM1229 696L1230 694L1227 692L1221 691L1217 693L1216 695L1219 697L1225 697ZM1181 678L1182 676L1179 674L1174 674L1169 675L1168 677L1171 679L1177 679ZM1196 682L1197 680L1194 678L1188 678L1184 679L1183 681L1186 683L1192 684ZM1211 687L1212 685L1209 683L1203 682L1199 683L1198 685L1201 687L1207 688ZM1226 691L1227 689L1224 687L1218 686L1214 688L1213 690L1216 692L1222 692ZM1241 695L1242 693L1239 691L1233 691L1229 692L1228 694L1232 696L1237 696ZM1193 678L1194 675L1191 674L1186 673L1181 674L1180 676L1184 678L1189 679ZM1208 682L1209 680L1206 678L1200 677L1196 678L1195 680L1198 682L1204 683ZM1223 686L1224 684L1221 682L1215 681L1211 683L1210 685L1213 687L1219 687ZM1238 690L1239 688L1236 686L1230 686L1226 687L1225 689L1229 691L1234 691ZM1190 673L1191 671L1188 669L1183 668L1178 669L1178 671L1181 673L1186 674ZM1205 677L1206 675L1203 673L1198 672L1193 673L1192 676L1196 677L1201 678ZM1220 681L1221 679L1218 677L1212 677L1208 678L1207 680L1210 682L1216 682ZM1235 685L1236 683L1233 681L1227 681L1223 682L1222 684L1226 686L1231 686ZM1250 690L1251 687L1248 686L1243 685L1238 686L1237 688L1241 690L1246 691ZM1202 672L1203 670L1200 668L1195 668L1190 669L1190 671L1193 672L1198 673ZM1217 676L1218 674L1215 672L1210 672L1205 673L1204 675L1208 677L1213 677ZM1232 680L1233 678L1230 676L1224 676L1220 677L1219 679L1223 681L1228 681ZM1247 685L1248 682L1245 681L1239 680L1235 681L1234 683L1238 685L1243 686ZM1199 667L1200 665L1197 663L1192 663L1188 664L1187 666L1190 668L1195 668ZM1214 671L1215 669L1212 667L1207 667L1202 668L1202 670L1205 672L1210 672ZM1229 675L1230 673L1227 672L1222 671L1217 672L1216 674L1220 676L1225 677ZM1244 680L1245 678L1242 676L1236 675L1232 676L1231 678L1235 680L1240 681ZM1259 684L1260 682L1257 680L1252 679L1247 680L1246 683L1250 684L1255 685ZM1211 666L1212 664L1209 663L1204 662L1200 663L1199 665L1202 667L1207 667ZM1226 671L1227 669L1224 667L1219 666L1214 667L1214 669L1217 671L1222 672ZM1241 675L1242 673L1239 671L1234 670L1229 671L1228 673L1232 675L1237 676ZM1256 679L1257 677L1254 675L1248 674L1244 676L1243 678L1247 679L1252 680ZM1223 666L1224 664L1221 662L1216 661L1211 662L1211 664L1214 666L1219 667ZM1238 670L1239 668L1236 666L1231 665L1226 667L1225 669L1229 670L1234 671ZM1253 674L1254 672L1251 670L1245 670L1241 671L1240 673L1244 675L1249 675ZM1268 678L1269 676L1266 674L1260 674L1256 675L1255 677L1259 679L1264 679ZM1220 661L1221 659L1218 657L1213 657L1209 658L1208 660L1211 661L1216 662ZM1235 665L1236 663L1233 661L1228 661L1223 662L1223 664L1226 666L1231 666ZM1250 669L1251 667L1248 665L1242 665L1238 666L1237 668L1241 670L1246 670ZM1265 673L1266 671L1263 669L1257 669L1253 670L1252 672L1256 674L1261 674ZM1312 616L1313 613L1307 609L1297 608L1289 610L1288 614L1294 617L1304 618ZM1341 624L1343 620L1336 617L1326 616L1318 618L1317 622L1323 625L1333 626ZM1371 632L1372 628L1366 625L1355 624L1347 626L1346 630L1353 633L1363 634ZM1335 615L1336 611L1330 608L1320 607L1312 609L1310 613L1317 616L1327 617ZM1364 623L1365 619L1359 616L1349 615L1341 617L1340 620L1346 624L1356 625ZM1394 631L1395 627L1389 623L1378 622L1370 624L1369 628L1376 632L1386 633ZM1329 606L1330 603L1324 599L1314 598L1306 600L1304 604L1310 607L1321 608ZM1358 614L1359 610L1353 607L1342 606L1334 608L1333 612L1340 615L1350 616ZM1387 622L1388 618L1382 614L1372 613L1364 615L1362 619L1369 623L1379 624ZM1351 605L1352 601L1346 598L1336 597L1328 599L1327 603L1333 606L1343 607ZM1380 613L1382 609L1375 606L1365 605L1357 607L1356 610L1362 614L1372 615ZM1410 620L1411 617L1404 613L1394 612L1386 614L1385 618L1392 621L1402 622ZM1345 596L1346 593L1340 589L1330 588L1322 590L1321 594L1327 597L1337 598ZM1374 604L1375 600L1369 597L1358 596L1351 598L1349 602L1356 605L1366 606ZM1403 611L1404 608L1398 604L1388 603L1380 605L1379 609L1385 612L1395 613ZM1367 595L1368 591L1362 588L1352 587L1344 589L1343 593L1349 596L1359 597ZM1396 603L1397 599L1391 596L1381 595L1373 597L1372 600L1378 604L1388 605ZM1426 610L1427 606L1420 603L1410 602L1402 604L1401 608L1408 611L1418 612ZM1361 587L1362 583L1356 580L1346 579L1338 581L1337 584L1343 587L1353 588ZM1390 594L1391 590L1384 587L1374 586L1367 588L1365 592L1372 595L1382 596ZM1419 601L1420 598L1413 594L1403 593L1395 595L1394 599L1401 602L1411 603ZM1383 585L1384 582L1378 579L1368 578L1360 579L1359 583L1365 586L1375 587ZM1412 593L1413 589L1407 586L1397 585L1389 587L1388 590L1394 594L1404 595ZM1441 600L1442 596L1436 593L1426 592L1418 594L1417 598L1423 601L1433 602ZM1376 577L1378 573L1371 570L1362 569L1354 571L1353 575L1359 578L1369 579ZM1405 584L1406 581L1400 577L1390 576L1382 578L1381 582L1387 585L1397 586ZM1434 591L1435 588L1429 585L1419 584L1411 586L1410 589L1416 592L1426 593ZM1399 576L1400 572L1393 569L1383 568L1376 570L1375 573L1381 577L1391 578ZM1427 583L1428 579L1422 576L1412 575L1404 577L1403 581L1410 584L1420 585ZM1456 590L1457 587L1451 583L1441 583L1433 584L1432 588L1439 591L1449 592ZM1392 567L1393 564L1387 561L1377 560L1369 562L1368 565L1374 568L1384 569ZM1421 575L1421 571L1415 568L1405 567L1398 569L1397 572L1403 575L1413 576ZM1449 582L1450 578L1444 575L1434 574L1426 576L1425 580L1432 583L1442 584ZM1414 566L1415 563L1409 560L1399 559L1391 561L1390 564L1396 567L1406 568ZM1442 573L1443 570L1437 567L1427 566L1420 568L1419 571L1425 574L1435 575ZM1471 581L1472 577L1466 574L1456 573L1448 575L1447 578L1454 582L1464 582ZM1407 558L1408 555L1402 552L1392 551L1385 552L1384 556L1390 559L1400 560ZM1436 565L1437 562L1430 558L1420 558L1413 559L1412 563L1418 566L1428 567ZM1464 572L1465 569L1459 566L1449 565L1441 566L1440 570L1447 573L1457 574ZM1429 557L1430 553L1424 550L1414 549L1406 551L1405 555L1412 558L1421 559ZM1457 564L1458 560L1452 557L1442 556L1435 558L1434 562L1440 565L1450 566ZM1486 571L1487 568L1480 564L1471 563L1463 565L1462 569L1469 572L1479 573ZM1422 549L1423 545L1417 542L1407 541L1400 543L1399 547L1405 550L1415 551ZM1450 556L1451 552L1445 549L1435 548L1428 550L1427 554L1433 557L1443 558ZM1479 563L1480 559L1473 556L1464 555L1456 557L1455 561L1462 564L1472 565ZM1444 548L1445 544L1438 541L1429 540L1421 542L1420 546L1427 549L1436 549ZM1472 555L1473 551L1467 548L1457 547L1449 549L1449 552L1455 555L1465 556ZM1501 562L1501 558L1495 555L1485 554L1478 556L1477 559L1483 563L1493 563ZM1465 547L1466 543L1460 540L1450 539L1443 541L1442 544L1448 547L1458 548ZM1494 553L1494 550L1488 547L1478 546L1471 548L1470 551L1476 554L1486 555ZM1458 539L1459 535L1453 532L1443 531L1436 533L1435 536L1441 539L1451 540ZM1487 545L1487 542L1481 539L1471 538L1464 540L1463 543L1469 546L1479 547ZM1515 552L1516 549L1509 546L1500 545L1492 547L1491 550L1498 553L1508 554ZM1480 537L1480 534L1474 531L1464 530L1457 532L1456 535L1463 538L1472 539ZM1508 544L1509 541L1502 538L1493 537L1485 539L1484 542L1491 545L1501 546Z"/>
<path fill="#4d4840" fill-opacity="0.32" d="M286 719L290 714L286 711L276 709L266 712L261 716L265 720L275 721ZM311 728L316 723L312 719L301 718L291 721L286 725L290 729L301 730ZM337 737L342 733L338 729L327 727L317 730L312 734L316 738L327 739ZM364 746L368 742L364 738L353 737L343 739L338 743L342 748L353 749ZM390 756L394 751L390 747L379 746L369 748L364 753L369 757L379 758ZM417 765L421 760L417 756L406 755L395 758L391 762L395 766L406 768ZM444 775L448 770L444 766L433 765L422 767L418 772L423 776L433 777ZM472 784L476 780L471 775L460 774L450 777L445 782L450 786L461 787ZM237 691L241 687L237 683L227 682L217 684L212 688L216 692L226 693ZM261 700L266 695L262 692L252 690L242 693L237 697L241 701L251 702ZM287 708L291 704L287 700L277 699L266 701L262 706L266 710L276 711ZM312 717L316 713L312 709L302 708L292 710L287 715L291 719L301 720ZM338 726L342 722L338 718L328 717L317 719L313 724L317 728L327 729ZM364 736L368 731L364 727L353 726L343 728L338 733L343 737L353 738ZM390 745L394 740L390 736L379 735L369 737L364 742L369 746L379 747ZM417 754L421 749L417 745L406 744L395 747L391 751L395 755L406 757ZM444 764L448 759L443 755L433 754L422 756L418 761L422 765L433 766ZM471 773L475 768L471 764L460 763L449 765L445 770L450 774L460 776ZM499 783L503 778L498 774L487 773L477 775L472 780L477 784L488 785ZM527 793L531 788L526 783L515 782L504 785L500 790L505 794L516 795ZM555 803L559 798L554 793L543 792L533 795L528 800L533 804L545 805ZM584 813L588 808L583 803L572 802L561 805L557 810L562 814L573 815ZM613 823L617 818L612 813L601 812L590 815L586 820L591 824L602 826ZM643 833L646 828L641 824L630 822L619 825L615 830L621 835L632 836ZM673 844L676 838L671 834L659 833L649 835L645 841L650 845L662 846ZM703 854L707 849L701 844L689 843L679 846L675 851L681 856L692 857ZM734 865L737 860L731 855L720 854L709 856L705 862L711 867L723 868ZM765 876L768 871L762 866L751 864L740 867L736 873L742 877L754 879ZM213 673L218 668L214 665L204 664L194 666L189 670L193 674L203 675ZM238 681L242 677L239 673L229 672L218 674L213 678L217 682L227 683ZM262 690L267 685L263 682L253 680L243 683L238 687L242 691L252 692ZM287 698L292 694L288 690L278 689L267 691L263 696L267 699L277 701ZM731 852L734 847L729 843L717 841L706 844L703 849L709 854L720 855ZM762 863L765 858L759 853L748 852L737 855L733 860L739 865L751 866ZM793 874L796 869L790 864L779 863L768 865L765 871L770 876L782 877ZM191 655L195 650L192 647L182 646L172 648L167 652L171 656L180 657ZM215 663L219 659L216 655L206 654L195 656L191 660L194 664L204 665ZM239 671L243 667L240 663L230 662L219 664L215 669L218 672L228 673ZM821 872L824 867L818 862L807 861L796 864L793 869L799 874L810 875ZM169 637L173 633L170 630L160 629L150 631L145 635L149 638L158 639ZM192 645L197 641L193 638L183 637L173 639L168 643L172 646L182 647ZM216 653L220 649L217 646L207 645L197 647L192 651L196 654L206 655ZM193 636L198 632L194 628L185 627L175 629L170 633L174 637L183 638ZM845 858L849 852L843 848L831 846L820 849L817 854L823 859L835 860ZM195 626L199 623L196 619L186 618L176 620L171 624L175 627L185 628ZM869 843L872 838L866 834L855 832L844 835L841 840L847 845L859 846ZM893 829L896 824L890 820L878 819L868 821L865 826L871 831L883 832ZM916 816L919 811L913 806L901 805L891 808L888 813L894 817L906 818ZM938 802L941 797L935 793L924 792L914 794L911 799L917 804L929 805ZM965 800L968 796L962 791L950 790L940 793L938 797L944 802L955 803ZM1036 745L1037 743L1034 741L1029 740L1024 741L1023 744L1026 746L1032 746ZM1034 740L1035 737L1032 735L1027 735L1022 736L1021 738L1024 740L1029 741ZM1049 744L1050 742L1047 740L1042 739L1037 741L1036 743L1039 745L1044 746ZM1047 739L1048 737L1045 735L1039 734L1035 735L1033 738L1036 740L1042 740ZM1044 734L1045 731L1042 729L1037 729L1032 730L1031 732L1034 734L1040 735ZM1059 738L1060 736L1057 734L1052 733L1047 735L1046 737L1049 739L1055 739ZM1057 733L1058 731L1055 729L1049 728L1045 729L1044 732L1047 734L1052 734ZM1054 728L1055 725L1052 723L1047 723L1042 724L1041 726L1044 728L1050 729ZM1069 732L1071 730L1067 728L1062 727L1057 729L1056 731L1059 733L1065 733ZM1067 727L1068 725L1065 723L1060 722L1055 723L1054 725L1057 727L1062 728ZM1082 731L1083 729L1080 727L1075 727L1070 728L1069 730L1072 732L1077 733ZM1064 722L1066 719L1062 717L1057 717L1052 718L1051 720L1054 722L1060 723ZM1080 726L1081 724L1077 722L1072 721L1067 723L1066 725L1069 727L1075 727ZM1077 721L1078 719L1075 717L1070 716L1065 717L1064 720L1067 721L1072 722ZM1092 725L1093 723L1090 721L1085 721L1080 722L1079 724L1082 726L1087 727ZM1074 716L1076 713L1072 712L1067 711L1063 712L1061 714L1064 716L1070 717ZM1089 720L1091 718L1087 716L1082 715L1077 717L1076 719L1079 721L1085 721ZM1087 715L1088 713L1085 711L1080 710L1075 711L1074 714L1077 716L1082 716ZM1102 719L1103 717L1100 715L1094 715L1090 716L1089 718L1092 720L1097 721ZM1084 710L1085 708L1082 706L1077 705L1072 706L1071 708L1074 710L1080 711ZM1099 714L1100 712L1097 710L1092 710L1087 711L1086 713L1089 715L1095 715ZM1097 709L1098 707L1095 705L1089 704L1085 706L1084 708L1087 710L1092 710ZM1112 713L1113 711L1110 709L1104 709L1100 710L1099 712L1102 714L1107 715ZM1094 704L1095 702L1092 700L1087 699L1082 700L1081 703L1084 705L1090 705ZM1109 708L1110 706L1107 704L1102 704L1097 705L1096 707L1099 709L1105 709ZM1107 703L1108 701L1104 699L1099 699L1095 700L1094 702L1097 704L1102 704ZM1122 708L1123 705L1119 703L1114 703L1110 704L1109 706L1112 708L1117 709ZM1119 702L1120 700L1117 698L1111 698L1107 699L1106 701L1109 703L1114 704ZM1116 697L1117 695L1114 693L1109 693L1104 694L1103 696L1106 698L1112 699ZM1131 702L1132 700L1129 698L1124 697L1119 698L1118 700L1121 702L1127 703ZM1129 697L1129 695L1126 693L1121 692L1117 693L1116 695L1119 697L1124 698ZM1126 692L1127 690L1124 688L1118 687L1114 688L1113 690L1116 692L1121 693ZM1141 696L1142 694L1139 692L1133 691L1129 693L1128 695L1131 697L1136 697ZM1138 691L1139 689L1136 687L1131 686L1126 688L1125 690L1128 692L1134 692ZM1135 686L1136 684L1133 682L1128 681L1124 683L1123 685L1126 687L1131 687ZM1150 690L1151 688L1148 686L1143 686L1138 687L1137 689L1141 691L1146 691ZM1148 685L1148 683L1145 681L1140 681L1136 682L1135 684L1138 686L1143 686ZM1145 680L1146 678L1143 676L1137 676L1133 677L1132 679L1135 681L1140 681ZM1160 685L1161 682L1157 681L1152 680L1148 681L1147 683L1150 685L1155 686ZM1157 680L1158 678L1155 676L1150 675L1145 676L1144 678L1147 680L1153 681ZM1154 675L1155 673L1152 671L1147 670L1142 671L1142 673L1145 675L1150 676ZM1169 679L1170 677L1167 675L1162 674L1157 676L1156 678L1159 679L1165 680ZM1166 674L1167 672L1164 670L1159 670L1154 671L1154 673L1157 675L1162 675ZM1164 669L1164 667L1161 665L1156 665L1152 666L1151 668L1154 670L1159 670ZM1178 673L1179 671L1176 669L1171 669L1166 670L1166 672L1169 674L1174 674ZM1176 668L1176 666L1173 665L1168 664L1164 665L1163 667L1166 669L1171 670ZM1173 664L1174 662L1171 660L1165 659L1161 660L1160 662L1163 664L1168 665ZM1187 668L1188 666L1185 664L1180 663L1176 664L1175 667L1178 668L1183 669ZM1185 663L1186 661L1182 659L1177 659L1173 660L1172 662L1175 664L1180 664ZM1182 658L1183 656L1180 654L1174 654L1170 655L1169 657L1172 659L1178 659ZM1197 662L1197 660L1194 658L1189 658L1185 659L1184 661L1187 663L1192 663ZM1194 658L1195 656L1192 654L1186 653L1182 654L1181 656L1184 658L1189 659ZM1208 662L1209 660L1206 658L1201 657L1197 658L1196 660L1199 662L1204 663ZM1191 653L1192 651L1189 649L1184 648L1179 650L1178 652L1182 653L1187 654ZM1206 657L1206 655L1203 653L1198 653L1194 654L1193 656L1196 657L1201 658ZM1283 609L1285 605L1278 602L1268 601L1260 603L1259 606L1265 610L1275 611ZM1306 608L1307 604L1301 601L1291 600L1283 602L1282 605L1288 609L1298 609ZM1300 599L1301 595L1295 592L1285 591L1277 593L1276 596L1282 600L1292 601ZM1322 598L1324 594L1317 591L1307 590L1299 592L1298 595L1304 599L1314 599ZM1316 589L1317 585L1311 582L1301 581L1293 583L1292 587L1298 590L1308 591ZM1338 588L1340 584L1333 581L1324 580L1316 582L1314 585L1321 589L1331 590ZM1332 579L1333 576L1327 573L1317 572L1310 573L1308 577L1315 580L1324 581ZM1354 578L1356 574L1349 571L1340 570L1332 572L1331 576L1337 579L1347 580ZM1348 570L1349 566L1343 563L1333 562L1326 564L1324 567L1331 571L1340 572ZM1370 569L1371 565L1365 562L1355 561L1348 563L1346 566L1352 569L1362 570ZM1364 560L1365 557L1359 554L1349 553L1341 555L1340 558L1346 561L1356 562ZM1385 559L1387 556L1380 553L1371 552L1363 554L1362 557L1368 560L1378 561ZM1379 551L1380 548L1374 545L1364 544L1357 545L1356 549L1362 552L1371 553ZM1401 550L1402 546L1396 543L1386 543L1378 544L1377 548L1383 551L1393 552ZM1416 541L1417 537L1410 534L1401 534L1393 535L1392 539L1399 542L1408 543ZM1437 540L1438 536L1432 533L1422 533L1415 534L1414 538L1420 541L1430 541ZM1430 532L1431 529L1425 526L1416 525L1408 526L1407 530L1413 533L1423 534ZM1452 531L1452 527L1446 525L1437 524L1429 525L1428 529L1435 532L1444 532Z"/>
<path fill="#4d4840" fill-opacity="0.45" d="M312 707L317 703L313 699L303 698L292 700L288 704L292 708L302 709ZM338 716L342 711L338 708L328 706L318 709L313 713L317 717L328 718ZM364 725L368 720L364 716L354 715L343 718L339 722L343 726L353 727ZM390 734L394 729L390 725L380 724L369 727L365 731L369 735L379 736ZM417 743L421 739L416 735L406 733L395 736L391 740L395 744L406 746ZM443 753L448 748L443 744L432 743L422 745L418 750L422 754L433 755ZM470 762L475 757L470 753L459 752L449 754L444 759L449 763L460 764ZM498 772L502 767L497 763L486 761L476 764L472 769L476 773L487 774ZM526 781L530 776L525 772L514 771L503 773L499 778L504 783L515 784ZM554 791L558 786L553 782L542 781L531 783L527 788L532 792L543 794ZM583 801L586 796L581 792L570 790L560 793L556 798L561 802L572 804ZM611 811L615 806L610 802L599 800L588 803L584 808L590 812L601 814ZM641 821L644 816L639 812L628 810L617 813L613 818L619 823L630 824ZM670 831L674 826L669 822L657 821L647 823L643 828L648 833L660 834ZM700 842L704 837L698 832L687 831L676 834L673 839L678 843L690 845ZM263 680L268 675L264 672L254 671L244 673L239 677L243 681L253 682ZM288 688L292 684L289 680L278 679L268 681L264 686L267 689L278 690ZM313 697L317 692L313 689L303 688L293 690L288 694L292 698L303 699ZM338 706L343 701L339 697L328 696L318 699L314 703L318 707L328 708ZM364 714L368 710L364 706L354 705L343 707L339 712L343 716L354 717ZM390 723L394 719L390 715L380 714L369 716L365 721L369 725L380 726ZM416 732L421 728L416 724L406 723L395 725L391 730L395 734L406 735ZM443 742L447 737L443 733L432 732L422 734L417 739L422 743L432 744ZM470 751L474 746L469 742L459 741L448 743L444 748L449 752L459 753ZM497 760L501 756L496 752L486 750L475 753L471 757L476 762L487 763ZM525 770L529 765L524 761L513 760L503 762L499 767L503 771L514 772ZM553 780L557 775L552 770L541 769L530 772L526 777L531 781L542 782ZM581 789L585 784L580 780L569 779L558 781L554 786L559 791L570 792ZM610 799L613 794L608 790L597 789L587 791L583 796L588 801L599 802ZM639 809L642 804L637 800L626 799L615 801L612 806L617 811L628 812ZM668 819L672 814L666 810L655 809L645 811L641 816L646 821L658 822ZM698 830L702 825L696 820L685 819L674 821L670 827L676 831L687 832ZM728 840L732 835L726 830L715 829L704 832L700 837L706 842L717 843ZM759 851L762 845L756 841L745 839L734 842L731 847L736 852L748 853ZM790 861L793 856L787 851L776 850L765 853L761 858L767 863L779 864ZM240 661L244 657L241 654L231 653L221 655L216 659L220 663L230 664ZM264 670L269 666L265 662L255 661L245 663L240 667L244 671L254 672ZM289 678L293 674L289 670L279 669L269 671L264 676L268 679L278 680ZM818 860L821 854L815 850L803 848L793 851L789 856L795 861L807 862ZM217 644L222 640L218 636L208 635L198 637L193 641L197 645L207 646ZM241 652L245 648L242 644L232 643L222 645L217 649L221 653L231 654ZM265 660L269 656L266 652L256 651L246 653L241 658L245 661L255 662ZM814 847L817 842L812 837L800 836L789 839L786 844L792 848L804 850ZM218 634L223 630L219 627L209 626L199 628L195 632L198 635L208 636ZM242 642L246 638L243 635L233 634L223 636L218 640L222 643L232 644ZM842 845L845 840L839 835L827 834L817 837L814 842L820 847L831 848ZM219 625L224 621L220 618L211 617L201 619L196 623L200 626L209 627ZM838 833L841 828L835 823L824 822L814 825L810 830L816 834L828 836ZM220 616L225 612L221 609L212 608L202 610L197 614L201 617L210 618ZM866 831L869 826L863 822L851 820L841 823L838 828L844 833L855 834ZM862 819L865 814L859 810L848 808L837 811L834 816L840 821L852 822ZM889 817L892 812L886 808L874 807L864 809L861 814L867 819L879 820ZM885 806L888 801L882 796L871 795L861 798L858 803L864 807L875 808ZM912 804L915 799L909 795L897 793L887 796L884 801L890 805L902 807ZM908 792L911 787L905 783L893 782L883 784L881 789L886 794L898 795ZM934 791L937 786L931 781L920 780L910 783L907 788L913 792L924 793ZM1006 736L1007 734L1004 732L999 731L994 732L993 735L996 737L1001 737ZM1021 741L1022 738L1019 736L1014 736L1009 737L1008 739L1011 741L1017 742ZM1019 735L1020 733L1017 731L1012 730L1007 732L1006 734L1009 736L1014 736ZM1017 730L1018 728L1015 726L1009 725L1005 726L1003 729L1006 730L1012 731ZM1032 734L1033 732L1030 730L1024 730L1020 731L1018 733L1021 735L1027 736ZM1029 729L1030 727L1027 725L1022 724L1017 726L1016 728L1019 730L1025 730ZM1027 724L1028 722L1025 720L1020 719L1015 720L1014 723L1017 724L1022 725ZM1042 728L1043 726L1040 724L1034 724L1030 725L1029 727L1032 729L1037 730ZM1039 723L1041 721L1037 719L1032 718L1027 720L1026 722L1029 724L1035 724ZM1037 718L1038 716L1035 714L1030 713L1025 714L1024 717L1027 718L1032 719ZM1052 722L1053 720L1050 718L1045 718L1040 719L1039 721L1042 723L1047 724ZM1050 717L1051 715L1048 713L1042 712L1038 714L1036 716L1040 718L1045 718ZM1047 712L1048 710L1045 708L1040 707L1035 708L1034 711L1037 713L1043 713ZM1062 716L1063 714L1060 712L1055 712L1050 713L1049 715L1052 717L1057 718ZM1060 711L1061 709L1058 707L1052 707L1048 708L1047 710L1050 712L1055 712ZM1057 706L1058 704L1055 702L1050 701L1045 703L1044 705L1047 707L1053 707ZM1072 711L1073 708L1070 706L1065 706L1060 707L1059 709L1062 711L1067 712ZM1070 705L1071 703L1068 701L1062 701L1058 702L1057 704L1060 706L1065 707ZM1067 700L1068 698L1065 696L1060 696L1055 697L1054 699L1057 701L1063 701ZM1082 705L1083 702L1080 701L1075 700L1070 701L1069 703L1072 705L1077 706ZM1079 700L1080 697L1077 696L1072 695L1068 696L1066 698L1070 700L1075 701ZM1077 695L1078 692L1075 691L1070 690L1065 691L1064 693L1067 695L1072 696ZM1092 699L1093 697L1090 695L1084 694L1080 695L1079 698L1082 699L1087 700ZM1089 694L1090 692L1087 690L1082 689L1077 690L1076 692L1079 694L1085 695ZM1104 698L1105 696L1102 694L1097 694L1092 695L1091 697L1094 699L1099 699ZM1087 689L1088 687L1085 685L1079 684L1075 685L1074 688L1077 689L1082 690ZM1101 693L1102 691L1099 689L1094 689L1090 690L1089 692L1092 694L1097 694ZM1099 688L1100 686L1097 684L1092 684L1087 685L1086 687L1089 689L1094 689ZM1114 692L1115 690L1112 688L1106 688L1102 689L1101 691L1104 693L1109 693ZM1096 683L1097 681L1094 679L1089 679L1085 680L1084 682L1087 684L1092 684ZM1111 687L1112 685L1109 683L1104 683L1099 684L1098 686L1101 688L1107 688ZM1108 682L1109 680L1106 678L1101 678L1097 679L1096 681L1099 683L1104 684ZM1123 687L1124 685L1121 683L1116 682L1111 683L1110 685L1113 687L1119 688ZM1106 678L1107 675L1104 674L1099 673L1094 674L1093 676L1096 678L1102 679ZM1121 682L1122 680L1119 678L1113 677L1109 678L1108 680L1111 682L1116 683ZM1118 677L1119 675L1116 673L1111 672L1106 673L1105 676L1108 677L1114 678ZM1133 681L1134 679L1131 677L1125 677L1121 678L1120 680L1123 682L1128 682ZM1115 672L1116 670L1113 668L1108 668L1104 669L1103 671L1106 672L1111 673ZM1130 676L1131 674L1128 672L1123 672L1118 673L1117 675L1120 677L1126 677ZM1127 671L1128 669L1125 667L1120 667L1116 668L1115 670L1118 672L1123 672ZM1142 675L1143 673L1140 672L1135 671L1130 672L1129 674L1133 676L1138 677ZM1125 666L1126 664L1123 663L1118 662L1113 663L1112 665L1115 667L1121 667ZM1140 671L1140 668L1137 667L1132 666L1128 667L1127 669L1130 671L1135 672ZM1137 666L1138 664L1135 662L1130 661L1125 662L1124 664L1127 666L1133 667ZM1152 670L1152 668L1149 666L1144 665L1140 667L1139 669L1142 670L1147 671ZM1134 661L1135 659L1132 657L1127 657L1123 658L1122 660L1125 661L1130 662ZM1149 665L1150 663L1147 661L1142 661L1137 662L1136 664L1139 666L1145 666ZM1146 660L1147 658L1144 656L1139 656L1135 657L1134 659L1137 661L1142 661ZM1161 664L1162 662L1159 661L1153 660L1149 661L1148 663L1151 665L1156 665ZM1158 660L1159 658L1156 656L1151 655L1146 656L1146 658L1149 660L1154 661ZM1155 655L1156 653L1153 651L1148 650L1144 652L1143 654L1146 655L1151 656ZM1170 659L1171 657L1168 655L1163 655L1158 656L1157 658L1160 659L1166 660ZM1167 654L1168 652L1165 650L1160 650L1156 651L1155 653L1158 655L1163 655ZM1165 649L1165 647L1162 646L1157 645L1153 646L1152 648L1155 650L1160 650ZM1179 653L1180 651L1177 650L1172 649L1167 650L1167 652L1170 654L1175 654ZM1176 649L1177 647L1174 645L1169 644L1165 646L1164 647L1167 649L1172 650ZM1255 601L1256 598L1250 594L1240 593L1232 595L1230 599L1236 602L1246 603ZM1277 600L1279 596L1273 593L1263 592L1255 594L1253 598L1259 601L1269 602ZM1271 591L1273 588L1267 584L1257 584L1249 585L1247 589L1253 592L1263 593ZM1294 590L1295 587L1289 583L1279 582L1271 584L1270 588L1276 591L1286 592ZM1288 582L1289 578L1283 575L1273 574L1265 576L1264 579L1270 583L1280 583ZM1310 580L1311 577L1305 574L1295 573L1288 575L1286 578L1292 581L1302 582ZM1304 572L1305 568L1299 565L1290 564L1282 566L1280 570L1286 573L1296 574ZM1326 571L1327 567L1321 564L1311 563L1304 565L1302 569L1308 572L1318 573ZM1342 561L1343 558L1337 555L1327 554L1320 556L1318 559L1324 562L1334 563ZM1357 552L1359 549L1352 546L1343 545L1335 547L1334 550L1340 553L1350 554ZM1373 543L1374 540L1368 537L1358 536L1351 538L1350 541L1356 544L1365 545ZM1394 542L1395 539L1389 536L1380 535L1372 536L1371 540L1377 543L1387 544ZM1388 534L1389 531L1383 528L1373 527L1366 529L1365 532L1371 535L1380 536ZM1409 533L1410 530L1404 527L1394 526L1387 528L1386 531L1392 534L1402 535ZM1403 525L1404 522L1398 519L1388 518L1381 520L1380 523L1386 526L1395 527ZM1424 524L1425 521L1419 518L1409 517L1402 519L1401 522L1407 525L1416 526Z"/>
<path fill="#4d4840" fill-opacity="0.59" d="M314 687L318 682L314 679L304 678L294 680L289 684L293 688L303 689ZM339 695L343 691L339 687L329 686L319 688L314 693L318 696L328 698ZM364 704L369 700L364 696L354 695L344 697L339 701L344 705L354 706ZM390 713L394 709L390 705L380 704L369 706L365 710L369 714L380 715ZM416 722L420 717L416 713L406 712L395 715L391 719L395 723L406 724ZM442 731L447 726L442 722L432 721L421 724L417 728L422 732L432 733ZM469 740L473 736L469 731L458 730L448 733L444 737L448 741L459 742ZM496 749L500 745L496 741L485 740L475 742L470 747L475 751L486 752ZM524 759L528 754L523 750L512 749L502 751L498 756L502 760L513 761ZM551 768L555 764L550 759L540 758L529 761L525 765L530 770L541 771ZM580 778L583 773L578 769L567 768L557 770L553 775L558 779L569 780ZM608 788L612 783L607 779L596 777L585 780L581 785L586 789L597 790ZM637 798L640 793L635 788L624 787L614 790L610 794L615 799L626 800ZM666 808L670 803L664 798L653 797L643 800L639 804L644 809L655 810ZM696 818L699 813L694 808L682 807L672 810L668 815L674 819L685 820ZM725 828L729 823L723 818L712 817L701 820L698 825L703 829L715 831ZM756 838L759 833L753 829L742 827L731 830L728 835L734 840L745 841ZM787 849L790 844L784 839L772 838L762 840L758 846L764 850L776 852ZM289 668L294 664L290 661L280 660L270 662L265 666L269 669L279 671ZM314 677L318 673L314 669L304 668L294 670L290 674L294 678L304 679ZM339 685L343 681L339 677L329 676L319 678L315 683L319 686L329 688ZM364 694L369 690L364 686L354 685L344 687L340 691L344 695L354 696ZM390 703L394 698L390 694L380 693L369 696L365 700L369 704L380 705ZM416 711L420 707L416 703L405 702L395 704L391 709L395 713L406 714ZM442 720L446 716L442 712L431 711L421 713L417 718L421 722L432 723ZM469 729L473 725L468 721L458 720L447 722L443 727L448 731L458 732ZM495 739L499 734L495 730L484 729L474 731L470 736L474 740L485 741ZM523 748L527 743L522 739L511 738L501 740L497 745L502 749L512 750ZM550 757L554 752L549 748L538 747L528 750L524 754L529 758L540 760ZM578 767L582 762L577 758L566 757L556 759L552 764L557 768L568 769ZM606 776L610 771L605 767L594 766L584 769L580 773L585 778L596 779ZM635 786L639 781L633 777L622 776L612 778L608 783L613 787L624 789ZM664 796L667 791L662 787L651 785L641 788L637 793L642 797L653 798ZM693 806L697 801L691 796L680 795L670 798L666 803L671 807L683 808ZM723 816L726 811L721 806L709 805L699 808L695 813L701 817L712 819ZM753 826L756 821L751 817L739 815L729 818L725 823L731 828L742 829ZM783 837L787 831L781 827L769 826L759 828L756 833L761 838L773 839ZM266 650L270 646L266 643L257 642L247 644L242 648L246 652L256 653ZM290 659L294 655L291 651L281 650L271 652L266 656L270 660L280 661ZM811 835L814 830L808 825L797 824L786 826L783 832L789 836L800 837ZM243 633L247 629L244 626L234 625L224 627L219 631L223 634L233 635ZM267 641L271 637L267 634L258 633L248 635L243 639L247 642L257 643ZM244 624L248 620L245 617L235 616L225 618L221 621L224 625L234 626ZM835 821L838 816L832 811L821 810L810 813L807 818L813 822L824 824ZM245 615L249 611L246 608L236 607L226 609L222 612L225 616L235 617ZM246 606L250 602L247 599L237 598L227 600L223 603L226 607L236 608ZM858 807L861 802L855 798L844 797L834 799L831 804L837 809L848 810ZM881 794L884 789L878 785L867 784L857 786L854 791L860 795L871 797ZM904 781L907 776L901 772L890 771L880 773L877 778L883 782L894 783ZM976 727L978 725L975 723L969 722L965 723L963 726L966 727L972 728ZM991 731L992 729L989 727L984 727L979 728L978 730L981 732L987 733ZM989 726L990 724L987 722L982 721L977 723L976 725L979 727L984 727ZM1004 731L1005 728L1002 726L997 726L992 727L991 729L994 731L999 732ZM1002 725L1003 723L1000 721L994 721L990 722L989 724L992 726L997 727ZM999 720L1001 718L998 716L992 715L988 717L986 719L989 721L995 721ZM1014 725L1015 722L1012 720L1007 720L1002 721L1001 723L1004 725L1010 726ZM1012 719L1013 717L1010 715L1005 715L1000 716L999 718L1002 720L1007 721ZM1010 714L1011 712L1008 710L1003 710L998 711L997 713L1000 715L1005 715ZM1024 719L1026 716L1023 714L1017 714L1013 715L1011 717L1014 719L1020 720ZM1022 713L1023 711L1020 709L1015 709L1010 710L1009 712L1012 714L1018 715ZM1020 708L1021 706L1018 704L1013 704L1008 705L1007 707L1010 709L1015 709ZM1035 713L1036 711L1033 709L1027 708L1023 709L1022 711L1025 713L1030 714ZM1032 708L1033 705L1030 703L1025 703L1021 704L1019 706L1022 708L1028 709ZM1030 702L1031 700L1028 698L1023 698L1018 699L1017 701L1020 703L1025 704ZM1045 707L1046 705L1043 703L1037 702L1033 703L1032 706L1035 707L1040 708ZM1042 702L1043 700L1040 698L1035 697L1031 698L1029 700L1032 702L1038 703ZM1040 697L1041 695L1038 693L1033 692L1028 693L1027 695L1030 697L1035 698ZM1055 701L1056 699L1053 697L1047 696L1043 698L1042 700L1045 702L1050 702ZM1052 696L1053 694L1050 692L1045 691L1041 693L1039 695L1042 697L1048 697ZM1050 691L1051 689L1048 687L1043 686L1038 688L1037 690L1040 692L1045 692ZM1065 695L1066 693L1063 691L1057 691L1053 692L1052 694L1055 696L1060 696ZM1062 690L1063 688L1060 686L1055 686L1050 687L1049 689L1052 691L1058 691ZM1060 685L1061 683L1058 681L1053 681L1048 682L1047 684L1050 686L1055 686ZM1074 690L1075 687L1072 686L1067 685L1063 686L1062 688L1065 690L1070 691ZM1072 685L1073 682L1070 681L1065 680L1060 681L1059 683L1062 685L1068 686ZM1070 680L1071 678L1068 676L1062 675L1058 676L1057 678L1060 680L1065 681ZM1084 684L1085 682L1082 680L1077 679L1072 680L1071 683L1074 684L1080 685ZM1082 679L1083 677L1080 675L1074 674L1070 676L1069 678L1072 679L1077 680ZM1079 674L1080 672L1077 670L1072 670L1068 671L1067 673L1070 675L1075 675ZM1094 678L1095 676L1092 674L1087 674L1082 675L1081 677L1084 679L1089 679ZM1091 673L1092 671L1089 669L1084 669L1080 670L1079 672L1082 674L1087 674ZM1089 668L1090 666L1087 665L1082 664L1077 665L1076 667L1079 669L1084 670ZM1103 673L1104 671L1101 669L1096 668L1092 669L1091 671L1094 673L1099 674ZM1101 668L1102 666L1099 664L1094 663L1089 664L1088 667L1091 668L1096 669ZM1098 663L1099 661L1096 659L1091 659L1087 660L1086 662L1089 664L1094 664ZM1113 667L1114 665L1111 663L1106 663L1101 664L1100 666L1103 668L1109 668ZM1110 662L1111 660L1108 658L1103 658L1099 659L1098 661L1101 663L1106 663ZM1108 657L1109 655L1106 654L1101 653L1096 654L1095 656L1098 658L1103 659ZM1122 662L1123 660L1120 658L1115 657L1111 658L1110 660L1113 662L1118 663ZM1120 657L1121 655L1118 653L1113 653L1108 654L1107 656L1110 657L1115 658ZM1117 652L1118 650L1115 648L1110 648L1106 649L1105 651L1108 653L1113 653ZM1132 656L1133 654L1130 652L1124 652L1120 653L1119 655L1122 657L1127 657ZM1129 651L1130 649L1127 648L1122 647L1118 648L1117 650L1120 652L1125 652ZM1144 655L1144 653L1141 652L1136 651L1132 652L1131 654L1134 656L1139 657ZM1127 647L1127 645L1124 643L1119 642L1115 643L1114 645L1117 647L1122 648ZM1141 651L1142 649L1139 647L1134 646L1129 648L1128 649L1131 651L1137 652ZM1138 646L1139 644L1136 642L1131 642L1127 643L1126 645L1129 647L1134 647ZM1153 650L1154 648L1151 646L1145 646L1141 647L1140 649L1143 651L1148 651ZM1136 641L1137 639L1134 638L1129 637L1124 638L1123 640L1126 642L1131 642ZM1150 645L1151 643L1148 642L1143 641L1139 642L1138 644L1141 646L1146 646ZM1147 641L1148 639L1145 637L1140 637L1136 638L1135 639L1138 641L1143 642ZM1162 645L1163 643L1160 641L1155 640L1150 642L1149 643L1152 645L1158 646ZM1226 594L1228 590L1222 587L1212 586L1204 588L1202 591L1208 595L1218 596ZM1249 593L1250 589L1244 586L1234 585L1226 587L1225 590L1231 594L1241 594ZM1266 583L1267 579L1261 576L1251 575L1243 577L1242 581L1248 584L1258 585ZM1282 573L1283 570L1277 567L1268 566L1260 567L1258 571L1264 574L1274 575ZM1298 564L1299 560L1293 557L1284 556L1276 558L1275 562L1281 565L1290 566ZM1320 563L1321 559L1315 556L1306 555L1298 557L1296 560L1302 563L1312 564ZM1314 554L1315 551L1309 548L1300 547L1292 549L1291 552L1297 555L1306 556ZM1336 553L1337 550L1331 547L1321 546L1314 548L1312 551L1318 554L1328 555ZM1330 545L1331 542L1325 539L1315 538L1308 540L1306 543L1312 546L1322 547ZM1351 544L1352 541L1346 538L1337 537L1329 539L1328 542L1334 545L1344 546ZM1345 536L1346 533L1340 530L1331 529L1323 531L1322 534L1328 537L1338 538ZM1367 535L1368 532L1362 529L1352 528L1345 530L1343 533L1349 536L1359 537ZM1360 527L1361 524L1355 521L1346 520L1339 522L1337 525L1343 528L1353 529ZM1382 526L1383 523L1377 520L1367 519L1360 521L1359 524L1365 527L1374 528ZM1375 518L1376 515L1370 512L1361 512L1354 513L1353 516L1359 519L1368 520ZM1396 517L1397 514L1391 511L1382 511L1375 512L1374 515L1380 518L1389 519Z"/>
<path fill="#4d4840" fill-opacity="0.72" d="M315 667L319 663L315 659L305 658L295 660L291 664L294 668L304 669ZM339 675L344 671L340 668L330 666L320 669L315 673L319 676L329 678ZM365 684L369 680L365 676L355 675L344 677L340 681L344 685L354 686ZM390 692L394 688L390 684L380 683L370 686L365 690L369 694L380 695ZM416 701L420 697L415 693L405 692L395 694L391 698L395 702L405 703ZM442 710L446 706L441 702L431 701L421 703L417 707L421 711L431 712ZM468 719L472 714L468 711L457 709L447 712L443 716L447 720L458 721ZM495 728L499 723L494 719L484 718L473 721L469 725L474 729L484 730ZM522 737L526 732L521 728L510 727L500 730L496 734L501 738L511 739ZM549 746L553 742L548 738L537 736L527 739L523 743L528 747L539 749ZM577 756L580 751L575 747L565 746L554 748L551 753L555 757L566 758ZM605 765L608 760L603 756L593 755L582 757L578 762L583 766L594 768ZM633 775L637 770L631 766L621 764L610 767L607 772L612 776L623 777ZM662 784L665 779L660 775L649 774L639 777L635 781L640 786L651 787ZM691 794L694 789L689 785L678 784L667 786L664 791L669 795L680 797ZM720 804L724 799L718 795L707 794L697 796L693 801L699 805L710 807ZM750 814L753 809L748 805L737 803L726 806L723 811L728 816L740 817ZM780 824L784 819L778 815L766 814L756 816L753 821L758 826L770 827ZM291 649L295 645L291 642L281 641L271 643L267 647L271 650L281 651ZM315 657L319 653L315 650L306 649L296 651L291 655L295 658L305 659ZM340 666L344 661L340 658L330 657L320 659L316 663L320 667L330 668ZM365 674L369 670L365 666L355 665L345 667L340 671L344 675L355 676ZM390 682L394 678L390 675L380 673L370 676L365 680L370 684L380 685ZM415 691L420 687L415 683L405 682L395 684L391 688L395 692L405 693ZM441 700L445 695L441 692L431 690L421 693L416 697L421 701L431 702ZM467 708L471 704L467 700L457 699L446 701L442 706L447 710L457 711ZM494 717L498 713L493 709L483 708L473 710L469 715L473 719L484 720ZM521 726L525 722L520 718L509 717L499 719L495 724L500 728L510 729ZM548 735L552 731L547 727L536 726L526 728L522 733L527 737L538 738ZM575 745L579 740L574 736L563 735L553 737L549 742L554 746L565 747ZM603 754L607 749L602 745L591 744L581 746L577 751L582 755L593 756ZM631 763L635 759L630 755L619 753L609 756L605 761L610 765L621 766ZM660 773L663 768L658 764L647 763L637 765L633 770L638 774L649 775ZM688 783L692 778L687 774L676 772L665 775L662 780L667 784L678 785ZM718 792L721 788L716 783L705 782L694 785L691 789L696 794L707 795ZM747 802L751 797L745 793L734 792L724 794L720 799L726 804L737 805ZM777 812L780 807L775 803L763 802L753 804L750 809L755 814L767 815ZM808 823L811 818L805 813L794 812L783 814L780 820L786 824L797 825ZM267 632L272 628L268 624L258 623L249 625L244 629L248 633L257 634ZM291 640L296 636L292 632L282 631L272 633L268 637L272 641L281 642ZM804 811L807 806L802 801L790 800L780 803L777 808L783 812L794 813ZM268 623L273 619L269 615L259 614L249 616L245 620L249 624L258 625ZM831 809L834 804L828 800L817 798L807 801L804 806L810 810L821 812ZM269 614L273 610L270 606L260 605L250 607L246 611L250 615L259 616ZM828 797L831 792L825 788L814 787L804 789L801 794L806 799L818 800ZM855 796L857 791L852 786L840 785L830 788L827 793L833 797L844 798ZM851 784L854 779L848 775L837 774L827 776L824 781L830 785L841 787ZM877 782L880 778L874 773L863 772L853 775L850 780L856 784L867 785ZM874 771L877 766L871 762L860 761L850 764L847 768L853 772L864 774ZM962 722L963 720L960 718L955 718L950 719L949 721L952 723L957 724ZM960 717L961 715L958 713L953 712L948 714L947 716L950 718L955 718ZM974 722L975 719L973 717L967 717L962 718L961 720L964 722L970 723ZM972 716L973 714L970 712L965 712L960 713L959 715L962 717L967 718ZM987 721L988 719L985 717L980 716L975 717L974 720L977 721L982 722ZM970 711L971 709L968 707L963 707L958 708L957 710L960 712L965 712ZM985 716L986 713L983 712L978 711L973 712L972 714L975 716L980 717ZM982 711L984 708L981 706L975 706L971 707L970 709L972 711L978 712ZM997 715L998 713L995 711L990 710L985 711L984 714L987 716L993 716ZM980 705L982 703L979 701L973 701L969 702L967 704L970 706L976 707ZM995 710L996 708L993 706L988 705L983 706L982 708L985 710L990 711ZM993 705L994 703L991 701L986 700L981 701L980 703L983 705L988 706ZM1007 709L1009 707L1006 705L1000 704L996 706L995 708L997 710L1003 710ZM991 700L992 697L989 696L984 695L979 696L978 698L981 700L986 701ZM1005 704L1006 702L1003 700L998 699L994 700L992 703L995 705L1001 705ZM1003 699L1004 697L1001 695L996 694L991 695L990 698L993 699L998 700ZM1018 703L1019 701L1016 699L1010 699L1006 700L1005 702L1008 704L1013 704ZM1001 694L1002 692L999 690L994 689L989 690L988 693L991 694L996 695ZM1015 698L1016 696L1014 694L1008 694L1004 695L1003 697L1005 699L1011 699ZM1013 693L1014 691L1011 689L1006 689L1001 690L1000 692L1003 694L1009 694ZM1028 697L1029 695L1026 693L1021 693L1016 694L1015 696L1018 698L1023 699ZM1011 688L1012 686L1009 684L1004 684L999 685L998 687L1001 689L1006 689ZM1025 692L1026 690L1024 688L1018 688L1014 689L1013 691L1016 693L1021 693ZM1023 687L1024 685L1021 683L1016 683L1012 684L1010 686L1013 688L1019 688ZM1038 692L1039 690L1036 688L1031 687L1026 688L1025 690L1028 692L1033 693ZM1021 682L1022 680L1019 678L1014 678L1009 679L1008 681L1011 683L1016 684ZM1035 687L1036 685L1033 683L1028 682L1024 683L1023 685L1026 687L1031 688ZM1033 682L1034 680L1031 678L1026 677L1021 678L1020 680L1023 682L1029 683ZM1048 686L1049 684L1046 682L1040 681L1036 683L1035 685L1038 687L1043 687ZM1031 677L1032 675L1029 673L1024 672L1019 673L1018 676L1021 677L1026 678ZM1045 681L1046 679L1043 677L1038 677L1034 678L1033 680L1035 682L1041 682ZM1043 676L1044 674L1041 672L1036 672L1031 673L1030 675L1033 677L1038 677ZM1057 680L1058 678L1056 676L1050 676L1046 677L1045 679L1048 681L1053 681ZM1041 671L1042 669L1039 667L1034 667L1029 668L1028 670L1031 672L1036 672ZM1055 675L1056 673L1053 672L1048 671L1043 672L1042 674L1045 676L1051 676ZM1053 671L1054 668L1051 667L1046 666L1041 667L1040 669L1043 671L1048 672ZM1067 675L1068 673L1065 671L1060 670L1056 671L1055 673L1057 675L1063 676ZM1050 666L1051 664L1048 662L1043 661L1039 662L1038 664L1041 666L1046 667ZM1065 670L1066 668L1063 666L1058 665L1053 667L1052 669L1055 670L1060 671ZM1062 665L1063 663L1060 661L1055 661L1051 662L1050 664L1053 666L1058 666ZM1077 669L1078 667L1075 665L1070 665L1065 666L1064 668L1067 670L1072 670ZM1060 660L1061 658L1058 656L1053 656L1049 657L1048 659L1050 661L1056 661ZM1074 664L1075 662L1072 660L1067 660L1063 661L1062 663L1065 665L1070 665ZM1072 660L1073 658L1070 656L1065 655L1061 656L1059 658L1062 660L1068 661ZM1086 664L1087 662L1084 660L1079 659L1075 660L1074 662L1077 664L1082 665ZM1070 655L1071 653L1068 651L1063 650L1058 652L1057 654L1060 655L1065 656ZM1084 659L1085 657L1082 655L1077 655L1072 656L1071 658L1074 659L1080 660ZM1082 654L1083 652L1080 650L1074 650L1070 651L1069 653L1072 655L1077 655ZM1096 658L1097 656L1094 654L1089 654L1084 655L1083 657L1086 659L1092 659ZM1079 649L1080 647L1077 646L1072 645L1068 646L1067 648L1070 650L1075 650ZM1093 653L1094 651L1091 650L1086 649L1082 650L1081 652L1084 654L1089 654ZM1091 649L1092 647L1089 645L1084 644L1080 645L1079 647L1081 649L1087 650ZM1105 653L1106 651L1103 649L1098 648L1094 650L1093 652L1096 653L1101 654ZM1089 644L1090 642L1087 640L1082 640L1077 641L1076 643L1079 645L1084 645ZM1103 648L1104 646L1101 644L1096 644L1091 645L1090 647L1093 649L1099 649ZM1100 643L1101 641L1098 640L1093 639L1089 640L1088 642L1091 644L1096 644ZM1115 647L1116 645L1113 644L1108 643L1103 644L1102 646L1105 648L1110 648ZM1098 639L1099 637L1096 635L1091 635L1087 636L1086 637L1088 639L1094 640ZM1112 643L1113 641L1110 639L1105 638L1101 640L1100 641L1103 643L1108 644ZM1110 638L1111 636L1108 634L1103 634L1098 635L1097 637L1100 639L1105 639ZM1124 642L1125 640L1122 638L1117 638L1113 639L1112 641L1115 643L1120 643ZM1121 637L1122 635L1119 634L1114 633L1110 634L1109 636L1112 638L1117 638ZM1119 633L1120 631L1117 629L1112 629L1108 630L1107 632L1110 633L1115 634ZM1133 637L1134 635L1131 633L1126 633L1122 634L1121 636L1124 637L1129 638ZM1221 585L1222 582L1216 578L1207 577L1199 579L1197 583L1203 586L1213 587ZM1243 584L1245 580L1239 577L1229 576L1221 578L1219 582L1225 585L1235 586ZM1238 576L1239 572L1233 569L1223 568L1215 570L1214 573L1220 576L1230 577ZM1260 574L1261 571L1255 568L1245 567L1238 569L1236 572L1242 575L1252 576ZM1254 566L1256 563L1250 559L1240 559L1232 560L1231 564L1236 567L1246 568ZM1276 565L1277 561L1272 558L1262 557L1254 559L1253 563L1259 566L1268 567ZM1270 557L1272 553L1266 550L1256 549L1248 551L1247 555L1253 558L1263 558ZM1292 556L1294 552L1288 549L1278 548L1270 550L1269 553L1275 556L1284 557ZM1286 547L1288 544L1282 541L1272 540L1265 542L1263 545L1269 548L1279 549ZM1308 546L1309 543L1303 540L1294 539L1286 541L1285 544L1291 547L1300 548ZM1302 538L1303 535L1298 532L1288 531L1280 533L1279 536L1285 539L1295 540ZM1324 537L1325 534L1319 531L1309 530L1302 532L1301 535L1307 538L1316 539ZM1318 529L1319 526L1313 523L1304 522L1296 524L1295 527L1301 530L1310 531ZM1339 528L1340 525L1334 522L1325 521L1317 523L1316 526L1322 529L1332 530ZM1333 521L1334 517L1328 514L1319 514L1312 515L1310 519L1316 521L1326 522ZM1354 520L1355 516L1349 513L1340 513L1333 514L1332 518L1337 520L1347 521ZM1348 512L1349 509L1344 506L1334 505L1327 507L1326 510L1331 513L1341 514ZM1369 511L1370 508L1364 505L1355 504L1348 506L1347 509L1352 512L1362 513Z"/>
<path fill="#4d4840" fill-opacity="0.85" d="M316 648L320 644L316 640L306 639L296 641L292 645L296 649L306 650ZM340 656L344 652L340 648L330 647L320 649L316 653L320 657L330 658ZM365 664L369 660L365 656L355 655L345 658L341 662L345 665L355 666ZM390 673L394 668L390 665L380 664L370 666L366 670L370 674L380 675ZM415 681L419 677L415 673L405 672L395 674L391 678L395 682L405 683ZM441 690L445 685L441 682L430 680L420 683L416 687L421 691L431 692ZM467 698L471 694L466 690L456 689L446 691L442 696L446 699L457 700ZM493 707L497 703L492 699L482 698L472 700L468 704L473 708L483 709ZM520 716L524 711L519 708L509 706L498 709L494 713L499 717L510 718ZM547 725L550 720L546 716L535 715L525 718L521 722L526 726L536 727ZM574 734L578 729L573 725L562 724L552 727L548 731L553 735L564 736ZM601 743L605 739L600 734L589 733L579 736L576 740L580 744L591 745ZM629 752L633 748L628 744L617 743L607 745L603 750L608 754L619 755ZM658 762L661 757L656 753L645 752L635 754L631 759L636 763L647 764ZM686 771L690 767L684 762L673 761L663 764L660 768L665 773L676 774ZM715 781L719 776L713 772L702 771L692 773L688 778L694 782L705 784ZM744 791L748 786L742 782L731 780L721 783L718 788L723 792L734 793ZM774 801L777 796L772 791L761 790L750 793L747 798L753 802L764 803ZM292 630L296 627L293 623L283 622L273 624L269 628L272 631L282 632ZM316 638L320 634L316 631L307 630L297 632L293 636L296 639L306 640ZM340 646L345 642L341 639L331 638L321 640L317 644L321 648L330 649ZM365 655L369 651L365 647L355 646L345 648L341 652L345 656L355 657ZM390 663L394 659L390 655L380 654L370 656L366 660L370 664L380 665ZM415 671L419 667L415 663L405 662L395 664L391 669L395 672L405 673ZM440 680L445 675L440 672L430 671L420 673L416 677L420 681L430 682ZM466 688L470 684L466 680L456 679L446 681L442 686L446 689L456 690ZM492 697L496 692L492 689L481 688L471 690L467 694L472 698L482 699ZM519 705L523 701L518 697L508 696L498 698L494 703L498 707L509 708ZM545 714L549 710L544 706L534 705L524 707L520 712L525 716L535 717ZM572 723L576 719L571 715L561 714L551 716L547 721L552 725L562 726ZM600 732L603 728L599 724L588 723L578 725L574 730L579 734L590 735ZM627 742L631 737L626 733L615 732L605 734L602 739L607 743L617 744ZM656 751L659 746L654 742L643 741L633 743L629 748L635 752L645 753ZM684 760L687 756L682 751L671 750L661 753L658 757L663 761L674 763ZM713 770L716 765L711 761L700 760L690 762L686 767L691 771L702 772ZM742 779L745 775L740 770L729 769L718 772L715 776L720 781L732 782ZM771 789L774 784L769 780L758 779L748 781L744 786L750 790L761 792ZM801 799L804 794L798 790L787 789L777 791L774 796L780 800L791 802ZM293 621L297 617L293 614L284 613L274 615L269 619L273 622L283 623ZM317 629L321 625L317 622L307 621L297 623L293 627L297 630L307 631ZM341 637L345 633L341 630L331 629L321 631L317 635L321 638L331 639ZM365 645L369 641L365 638L355 637L346 639L341 643L345 646L355 647ZM390 653L394 649L390 646L380 645L370 647L366 651L370 654L380 655ZM415 661L419 657L415 654L405 653L395 655L391 659L395 663L405 664ZM440 670L444 666L440 662L430 661L420 663L416 667L420 671L430 672ZM466 678L470 674L465 670L455 669L445 671L441 676L446 679L456 680ZM492 687L495 682L491 679L481 678L471 680L467 684L471 688L482 689ZM518 695L522 691L517 687L507 686L497 688L493 693L497 696L508 698ZM544 704L548 700L543 696L533 695L523 697L519 701L524 705L534 706ZM571 713L575 708L570 705L560 703L550 706L546 710L551 714L561 715ZM598 722L602 717L597 713L587 712L576 715L573 719L578 723L588 724ZM626 731L629 726L624 722L614 721L604 724L600 728L605 732L616 733ZM654 740L657 735L652 731L641 730L631 733L628 737L633 741L643 742ZM682 749L685 745L680 741L669 739L659 742L656 746L661 750L672 752ZM710 759L714 754L708 750L697 749L687 751L684 756L689 760L700 761ZM739 768L742 763L737 759L726 758L716 760L713 765L718 769L729 771ZM768 778L771 773L766 769L755 768L745 770L742 775L747 779L758 780ZM798 787L801 783L795 778L784 777L774 780L771 784L777 789L788 790ZM824 786L827 781L822 777L811 775L801 778L797 783L803 787L814 788ZM821 774L824 770L818 765L807 764L798 767L794 772L800 776L811 777ZM847 773L850 768L845 764L834 763L824 765L821 770L826 774L837 775ZM844 762L847 757L841 753L830 752L820 754L817 759L823 763L834 764ZM918 709L919 707L916 705L911 704L906 706L905 708L908 710L913 710ZM932 713L934 711L931 709L925 709L921 710L920 712L922 714L928 715ZM947 718L948 716L945 714L940 713L935 714L934 717L937 719L942 719ZM930 708L932 706L929 704L924 704L919 705L918 707L920 709L926 709ZM945 713L946 711L943 709L938 708L933 709L932 711L935 713L940 714ZM928 703L930 701L927 699L922 699L917 700L916 702L918 704L924 704ZM943 708L944 705L941 704L936 703L931 704L930 706L933 708L938 709ZM957 712L959 710L956 708L950 707L946 708L945 711L947 713L953 713ZM941 702L942 700L939 698L934 698L929 699L928 701L931 703L936 704ZM955 707L957 705L954 703L948 702L944 703L943 706L945 707L951 708ZM939 697L940 695L937 693L932 693L927 694L926 696L929 698L934 699ZM953 702L955 700L952 698L946 697L942 698L941 700L943 702L949 703ZM968 706L969 704L966 702L961 702L956 703L955 705L958 707L963 707ZM951 697L953 695L950 693L944 692L940 693L939 695L941 697L947 698ZM966 701L967 699L964 697L959 696L954 698L953 700L956 702L961 702ZM949 692L951 690L948 688L942 687L938 688L937 690L939 692L945 693ZM964 696L965 694L962 692L957 691L952 693L951 695L954 697L959 697ZM978 700L979 698L976 696L971 696L967 697L965 699L968 701L974 701ZM962 691L963 689L960 687L955 686L950 688L949 690L952 692L957 692ZM976 695L977 693L974 691L969 691L965 692L963 694L966 696L971 696ZM960 686L961 684L958 682L953 681L948 683L947 685L950 687L955 687ZM974 690L975 688L972 686L967 686L962 687L961 689L964 691L969 691ZM988 695L990 692L987 691L981 690L977 691L976 693L979 695L984 696ZM972 685L973 683L970 681L965 681L960 682L959 684L962 686L967 686ZM986 690L987 687L985 686L979 685L975 686L974 688L976 690L982 691ZM970 680L971 678L968 676L963 676L958 677L957 679L960 681L965 681ZM984 685L985 682L982 681L977 680L973 681L971 683L974 685L980 686ZM999 689L1000 687L997 685L992 684L987 685L986 688L989 689L994 690ZM982 680L983 678L980 676L975 675L971 676L969 678L972 680L977 681ZM996 684L998 682L995 680L989 679L985 680L984 683L987 684L992 685ZM980 675L981 673L978 671L973 670L969 671L967 673L970 675L975 676ZM994 679L995 677L993 675L987 674L983 676L982 678L984 679L990 680ZM1009 683L1010 681L1007 679L1002 679L997 680L996 682L999 684L1004 684ZM992 674L993 672L990 670L985 670L981 671L979 673L982 675L988 675ZM1006 678L1008 676L1005 674L999 674L995 675L994 677L997 679L1002 679ZM990 669L991 667L988 665L983 665L979 666L977 668L980 670L985 670ZM1004 673L1005 671L1002 669L997 669L993 670L992 672L995 674L1000 674ZM1019 678L1020 675L1017 674L1012 673L1007 674L1006 676L1009 678L1014 679ZM1002 668L1003 666L1000 665L995 664L991 665L990 667L992 669L998 670ZM1016 673L1017 671L1015 669L1009 668L1005 669L1004 671L1007 673L1012 674ZM1000 664L1001 662L998 660L993 659L989 660L987 662L990 664L995 665ZM1014 668L1015 666L1012 664L1007 663L1003 664L1002 666L1004 668L1010 669ZM1028 672L1030 670L1027 668L1021 668L1017 669L1016 671L1019 672L1024 673ZM1012 663L1013 661L1010 659L1005 659L1001 660L999 662L1002 663L1007 664ZM1026 667L1027 665L1024 663L1019 663L1015 664L1014 666L1017 668L1022 668ZM1010 658L1011 656L1008 654L1003 654L998 655L997 657L1000 659L1005 659ZM1024 662L1025 660L1022 658L1017 658L1013 659L1011 661L1014 663L1020 663ZM1038 666L1039 664L1036 663L1031 662L1027 663L1026 665L1029 667L1034 667ZM1022 657L1023 655L1020 654L1015 653L1010 654L1009 656L1012 658L1017 659ZM1036 662L1037 660L1034 658L1029 657L1025 658L1024 660L1026 662L1032 663ZM1020 653L1021 651L1018 649L1013 648L1008 649L1007 651L1010 653L1015 654ZM1034 657L1035 655L1032 653L1027 652L1022 654L1021 656L1024 657L1029 658ZM1048 661L1049 659L1046 657L1041 657L1037 658L1036 660L1038 661L1044 662ZM1031 652L1033 650L1030 648L1025 648L1020 649L1019 651L1022 653L1027 653ZM1046 656L1047 654L1044 652L1039 652L1034 653L1033 655L1036 657L1041 657ZM1029 647L1030 645L1027 644L1022 643L1018 644L1017 646L1020 648L1025 648ZM1043 651L1044 649L1042 648L1036 647L1032 648L1031 650L1034 652L1039 652ZM1058 655L1059 653L1056 652L1051 651L1046 652L1045 654L1048 656L1053 657ZM1041 647L1042 645L1039 643L1034 642L1030 643L1029 645L1032 647L1037 648ZM1055 651L1056 649L1053 647L1048 646L1044 647L1043 649L1046 651L1051 652ZM1039 642L1040 640L1037 638L1032 638L1028 639L1027 641L1029 643L1035 643ZM1053 646L1054 644L1051 642L1046 642L1042 643L1041 645L1044 647L1049 647ZM1067 650L1068 648L1065 646L1060 646L1056 647L1055 649L1058 651L1063 651ZM1051 641L1052 639L1049 638L1044 637L1039 638L1038 640L1041 642L1046 642ZM1065 645L1066 643L1063 642L1058 641L1054 642L1053 644L1055 646L1061 646ZM1048 637L1049 635L1047 633L1042 633L1037 634L1036 635L1039 637L1044 638ZM1063 641L1064 639L1061 637L1056 636L1051 637L1050 639L1053 641L1058 642ZM1077 645L1078 643L1075 641L1070 640L1065 641L1064 643L1067 645L1072 646ZM1060 636L1061 634L1058 632L1053 632L1049 633L1048 635L1051 637L1056 637ZM1074 640L1075 638L1072 636L1067 636L1063 637L1062 639L1065 641L1070 641ZM1058 631L1059 630L1056 628L1051 627L1047 628L1046 630L1049 632L1054 632ZM1072 635L1073 633L1070 632L1065 631L1061 632L1060 634L1063 636L1068 636ZM1086 639L1087 637L1084 636L1079 635L1075 636L1074 638L1077 640L1082 640ZM1070 631L1071 629L1068 627L1063 627L1058 628L1057 630L1060 631L1065 632ZM1084 635L1085 633L1082 631L1077 631L1072 632L1071 634L1074 635L1079 636ZM1067 626L1068 624L1065 623L1060 622L1056 623L1055 625L1058 627L1063 627ZM1081 630L1082 628L1079 627L1074 626L1070 627L1069 629L1072 631L1077 631ZM1095 634L1096 632L1094 630L1088 630L1084 631L1083 633L1086 635L1091 635ZM1079 626L1080 624L1077 622L1072 621L1068 622L1067 624L1070 626L1075 627ZM1093 630L1094 628L1091 626L1086 625L1082 626L1081 628L1084 630L1089 631ZM1107 633L1108 631L1105 630L1100 629L1096 630L1095 632L1098 634L1103 634ZM1077 621L1078 619L1075 617L1070 617L1065 618L1064 620L1067 622L1072 622ZM1091 625L1092 623L1089 621L1084 621L1079 622L1078 624L1081 625L1086 626ZM1105 629L1106 627L1103 625L1098 625L1093 626L1092 628L1095 629L1100 630ZM1171 579L1172 576L1167 572L1157 571L1149 573L1147 577L1153 580L1163 581ZM1198 586L1200 583L1194 580L1184 579L1176 581L1175 584L1180 587L1190 588ZM1193 578L1195 574L1189 571L1179 570L1171 572L1169 576L1175 579L1185 580ZM1188 570L1189 566L1184 563L1174 562L1166 564L1164 567L1170 570L1180 571ZM1215 577L1217 573L1211 570L1201 569L1193 571L1192 574L1197 578L1207 579ZM1210 568L1211 565L1206 562L1196 561L1188 563L1186 566L1192 569L1202 570ZM1205 560L1206 557L1200 554L1191 553L1183 554L1181 558L1187 561L1197 562ZM1232 567L1234 564L1228 561L1218 560L1210 562L1209 565L1214 568L1224 569ZM1227 559L1228 555L1222 552L1213 552L1205 553L1203 557L1209 560L1219 561ZM1221 551L1223 547L1217 544L1207 544L1200 545L1198 549L1204 552L1213 553ZM1249 558L1250 554L1244 551L1234 550L1227 552L1225 556L1231 559L1241 560ZM1243 550L1244 546L1239 543L1229 542L1221 544L1220 548L1226 551L1235 551ZM1238 542L1239 538L1233 535L1224 534L1216 536L1215 540L1220 543L1230 543ZM1265 549L1266 545L1260 542L1251 541L1243 543L1242 546L1247 549L1257 550ZM1259 541L1261 537L1255 534L1245 533L1238 535L1236 538L1242 541L1251 542ZM1254 533L1255 529L1249 526L1240 526L1232 527L1231 531L1236 534L1246 534ZM1281 539L1282 536L1276 533L1267 532L1259 534L1258 537L1263 540L1273 541ZM1275 532L1276 528L1271 525L1261 525L1254 526L1252 530L1258 532L1267 533ZM1270 524L1271 521L1265 518L1256 517L1248 519L1247 522L1252 525L1262 526ZM1296 531L1298 527L1292 524L1282 523L1275 525L1274 528L1279 531L1289 532ZM1291 523L1292 519L1286 517L1277 516L1269 517L1268 521L1274 524L1283 524ZM1285 515L1286 512L1281 509L1271 508L1264 510L1263 513L1268 516L1278 517ZM1312 522L1313 518L1307 516L1298 515L1290 516L1289 520L1295 523L1304 523ZM1306 514L1307 511L1302 508L1292 507L1285 509L1284 512L1289 515L1299 516ZM1301 506L1302 503L1296 500L1287 500L1279 501L1278 504L1284 507L1293 508ZM1327 513L1328 510L1323 507L1313 506L1306 508L1305 511L1310 514L1320 515ZM1321 505L1323 502L1317 499L1308 499L1300 500L1299 503L1305 506L1314 507ZM1316 498L1317 495L1311 492L1302 491L1295 493L1293 496L1299 499L1308 500ZM1342 504L1343 501L1338 498L1328 498L1321 499L1320 502L1326 505L1335 506Z"/>
<path fill="#f1eee4" fill-opacity="0.29" d="M49 673L53 670L52 668L45 667L37 669L33 672L34 675L41 675ZM72 682L77 679L75 676L68 676L60 677L56 681L58 683L64 684ZM96 691L100 687L99 685L92 684L84 686L79 689L81 692L88 692ZM120 699L124 696L123 693L116 693L108 695L103 698L105 701L112 701ZM144 708L149 705L147 702L140 702L132 703L127 707L129 709L136 710ZM169 717L173 714L171 711L164 710L156 712L152 716L154 718L161 719ZM194 726L198 723L196 720L189 719L181 721L177 725L179 727L186 728ZM219 735L223 732L221 729L214 728L206 730L202 734L204 736L211 737ZM245 744L249 741L246 738L239 737L231 739L227 743L229 746L237 746ZM270 754L274 750L272 747L265 747L257 749L253 752L255 755L262 756ZM297 763L301 760L298 757L291 756L283 758L279 762L281 765L288 765ZM323 773L327 769L325 766L317 766L309 768L305 771L307 774L315 775ZM350 782L354 779L351 776L344 775L336 777L332 781L334 784L342 785ZM377 792L381 789L378 786L371 785L363 787L359 791L361 794L369 794ZM404 802L408 798L406 795L398 795L390 797L386 801L389 804L396 804ZM432 812L436 809L433 805L426 805L418 807L414 811L416 814L424 814ZM460 822L464 819L461 816L454 815L446 817L442 821L445 824L452 825ZM489 833L493 829L490 826L482 825L474 827L470 831L473 834L481 835ZM518 843L522 839L519 836L511 836L503 838L499 842L502 845L510 846ZM547 854L551 850L548 847L540 846L532 848L528 852L531 856L539 856ZM577 865L581 861L577 857L570 857L561 859L558 863L561 866L569 867ZM607 876L611 872L607 868L599 868L591 870L588 874L591 877L599 878ZM638 887L641 883L638 879L630 878L622 881L618 885L621 888L629 889ZM668 898L672 894L669 890L660 890L652 892L649 896L652 900L660 900ZM700 909L703 905L700 902L692 901L683 903L680 908L683 911L692 912ZM732 921L735 916L731 913L723 912L715 915L712 919L715 923L723 923ZM764 932L767 928L763 924L755 924L747 926L744 931L747 934L756 935ZM796 944L800 940L796 936L788 935L779 938L776 942L780 946L788 947ZM830 956L833 952L829 948L821 947L812 950L809 954L813 958L821 959ZM75 672L79 669L77 666L70 666L63 668L58 671L60 673L67 674ZM98 680L103 677L101 675L94 674L86 676L82 679L83 682L90 682ZM122 689L126 686L124 683L118 683L110 685L105 688L107 690L114 691ZM146 698L150 695L148 692L142 691L134 693L129 696L131 699L138 700ZM171 707L175 703L173 701L166 700L158 702L154 705L156 708L163 708ZM195 715L199 712L197 709L190 709L182 711L178 714L180 717L187 717ZM220 724L224 721L222 718L215 718L207 720L203 723L205 726L212 726ZM246 733L250 730L248 727L240 727L232 729L228 732L230 735L238 735ZM271 743L275 739L273 736L266 736L258 738L254 741L256 744L263 745ZM297 752L301 749L299 746L292 745L284 747L280 751L282 753L289 754ZM323 761L327 758L325 755L318 755L310 757L306 760L308 763L315 764ZM350 771L354 767L352 765L344 764L336 766L332 770L335 773L342 773ZM377 781L381 777L378 774L371 774L363 776L359 779L361 782L369 783ZM404 791L408 787L406 784L398 783L390 785L386 789L389 792L396 793ZM432 800L436 797L433 794L425 793L417 795L414 799L416 802L424 803ZM460 811L464 807L461 804L453 803L445 805L441 809L444 812L452 813ZM488 821L492 817L489 814L481 813L473 815L470 819L472 822L480 823ZM517 831L521 827L518 824L510 823L502 826L498 829L501 833L509 833ZM546 841L550 838L547 834L539 834L531 836L527 840L530 843L538 844ZM575 852L579 848L576 845L568 844L560 847L556 851L559 854L567 854ZM605 863L609 859L606 856L598 855L590 857L586 861L589 865L597 865ZM635 874L639 870L636 866L628 866L620 868L616 872L619 875L627 876ZM666 885L670 881L666 877L658 877L650 879L647 883L650 886L658 887ZM697 896L701 892L697 888L689 888L681 890L678 894L681 898L689 898ZM729 907L732 903L729 900L720 899L712 901L709 906L712 909L721 910ZM761 919L764 914L760 911L752 910L744 913L741 917L744 921L753 921ZM793 930L796 926L793 922L784 922L776 924L773 929L777 932L785 933ZM826 942L829 938L825 934L817 933L809 936L806 940L809 944L818 945ZM859 954L862 950L858 946L850 945L842 948L839 952L843 956L851 957ZM77 662L81 659L79 657L73 656L65 658L61 661L62 664L69 664ZM100 671L105 668L103 665L96 664L88 666L84 669L86 672L92 672ZM124 679L128 676L126 673L119 673L112 675L107 678L109 680L116 681ZM148 688L152 684L150 682L143 681L135 683L131 686L133 689L140 689ZM172 696L176 693L174 690L167 690L160 692L155 695L157 698L164 698ZM197 705L201 702L199 699L192 699L184 700L180 704L182 706L189 707ZM222 714L226 711L224 708L216 707L209 709L204 713L207 715L214 716ZM247 723L251 720L249 717L241 716L234 718L229 722L232 724L239 725ZM272 732L276 729L274 726L267 725L259 727L255 731L257 733L264 734ZM298 741L302 738L300 735L292 734L284 736L280 740L283 743L290 743ZM324 750L328 747L326 744L318 744L310 746L306 749L309 752L316 752ZM350 760L354 756L352 754L344 753L337 755L333 758L335 761L342 762ZM377 769L381 766L378 763L371 762L363 764L359 768L362 771L369 772ZM404 779L408 775L405 773L398 772L390 774L386 778L389 781L396 781ZM431 789L435 785L433 782L425 782L417 784L413 787L416 790L423 791ZM459 799L463 795L460 792L453 791L445 794L441 797L444 800L451 801ZM487 809L491 805L488 802L481 801L473 804L469 807L472 810L479 811ZM516 819L519 815L517 812L509 811L501 814L497 817L500 821L508 821ZM545 829L548 825L545 822L538 822L530 824L526 828L529 831L537 832ZM574 840L577 836L574 833L567 832L559 834L555 838L558 841L566 842ZM603 850L607 846L604 843L596 842L588 845L585 849L588 852L595 853ZM633 861L637 857L634 854L626 853L618 855L614 859L617 863L625 863ZM664 872L667 868L664 864L656 864L648 866L645 870L648 874L656 874ZM695 883L698 879L695 875L687 875L679 877L675 881L679 885L687 885ZM726 894L729 890L726 886L718 886L710 888L706 892L710 896L718 896ZM758 905L761 901L757 898L749 897L741 899L738 904L741 907L749 908ZM790 917L793 912L789 909L781 908L773 911L770 915L773 919L782 919ZM822 928L825 924L822 920L813 920L805 922L802 927L806 930L814 931ZM855 940L858 936L854 932L846 931L838 934L835 938L839 942L847 943ZM102 661L107 658L105 655L98 655L90 657L86 660L88 662L95 663ZM126 669L130 666L128 664L121 663L114 665L109 668L111 671L118 671ZM150 678L154 675L152 672L145 671L137 673L133 676L135 679L142 679ZM174 686L178 683L176 680L169 680L161 682L157 685L159 688L166 688ZM198 695L202 692L200 689L193 688L185 690L181 694L183 696L190 697ZM223 704L227 700L225 698L218 697L210 699L206 702L208 705L215 705ZM248 712L252 709L250 706L243 706L235 708L231 711L233 714L240 714ZM273 721L277 718L275 715L268 715L260 717L256 720L258 723L265 723ZM299 730L302 727L300 724L293 724L285 726L281 729L283 732L291 732ZM324 740L328 736L326 733L319 733L311 735L307 738L309 741L316 742ZM351 749L354 745L352 743L345 742L337 744L333 747L335 750L343 751ZM377 758L381 755L378 752L371 751L363 753L359 757L362 760L369 760ZM404 768L408 764L405 761L398 761L390 763L386 766L389 769L396 770ZM431 777L435 774L432 771L425 770L417 772L413 776L416 779L423 780ZM459 787L462 784L460 781L452 780L444 782L441 786L443 789L451 789ZM487 797L490 793L487 790L480 790L472 792L468 796L471 799L479 799ZM515 807L518 803L516 800L508 800L500 802L496 806L499 809L507 809ZM543 817L547 813L544 810L536 810L529 812L525 816L528 819L535 819ZM572 827L576 824L573 821L565 820L557 822L554 826L557 829L564 830ZM602 838L605 834L602 831L594 830L586 832L583 836L586 840L594 840ZM632 848L635 845L632 841L624 841L616 843L613 847L616 850L624 851ZM662 859L665 855L662 852L654 851L646 854L643 858L646 861L654 861ZM692 870L696 866L692 863L684 862L676 864L673 868L676 872L684 872ZM723 881L726 877L723 873L715 873L707 875L704 879L707 883L715 883ZM755 892L758 888L754 885L746 884L738 886L735 890L738 894L747 894ZM786 903L789 899L786 896L778 895L770 897L767 902L770 905L778 906ZM819 915L822 910L818 907L810 906L802 909L799 913L802 917L811 917ZM851 926L854 922L850 918L842 918L834 920L831 925L835 928L843 929ZM884 938L887 934L883 930L875 929L867 932L864 936L868 940L876 941ZM104 651L108 648L107 646L100 645L92 647L88 650L90 653L97 653ZM128 660L132 656L130 654L123 653L115 655L111 658L113 661L120 661ZM151 668L155 665L154 662L147 662L139 663L135 667L137 669L144 670ZM175 676L179 673L177 671L171 670L163 672L159 675L161 678L167 678ZM199 685L203 682L201 679L195 678L187 680L183 683L185 686L192 687ZM224 693L228 690L226 688L219 687L211 689L207 692L209 695L216 695ZM249 702L253 699L251 696L244 696L236 698L232 701L234 703L241 704ZM486 786L489 782L487 779L479 778L471 780L468 784L470 787L478 788ZM514 795L517 792L515 789L507 788L499 790L496 794L498 797L506 798ZM542 805L546 802L543 799L535 798L527 800L524 804L527 807L534 808ZM571 815L574 812L572 809L564 808L556 810L552 814L555 817L563 818ZM600 826L604 822L601 819L593 818L585 820L581 824L584 827L592 828ZM630 836L633 832L630 829L622 828L614 831L611 835L614 838L622 838ZM659 847L663 843L660 840L652 839L644 841L640 845L644 848L652 849ZM690 857L693 853L690 850L682 849L674 852L671 856L674 859L682 860ZM720 868L724 864L720 861L712 860L704 862L701 866L704 870L712 870ZM752 879L755 875L751 872L743 871L735 873L732 877L736 881L744 881ZM783 890L786 886L783 883L775 882L767 884L763 888L767 892L775 893ZM815 901L818 897L814 894L806 893L798 895L795 900L799 903L807 904ZM847 913L850 909L847 905L838 904L830 907L827 911L831 915L839 915ZM880 924L883 920L879 916L871 916L863 918L860 923L864 926L872 927ZM129 650L134 647L132 644L125 644L117 646L113 649L115 651L122 652ZM153 658L157 655L155 653L148 652L141 654L137 657L138 659L145 660ZM177 666L181 663L179 661L172 660L164 662L160 665L162 668L169 668ZM201 675L205 672L203 669L196 669L188 670L184 674L186 676L193 677ZM780 877L783 873L779 870L771 869L764 871L760 875L764 879L772 880ZM812 888L815 884L811 881L803 880L795 882L792 887L795 890L804 891ZM844 899L847 895L843 892L835 891L827 894L824 898L827 901L836 902ZM876 911L879 907L875 903L867 902L859 905L856 909L860 913L868 913ZM909 922L912 918L908 914L900 914L892 916L889 921L893 924L901 925ZM131 641L135 638L134 635L127 635L119 636L115 639L117 642L124 642ZM155 649L159 646L157 643L150 643L142 644L138 647L140 650L147 650ZM178 657L182 654L180 651L174 651L166 653L162 656L164 658L171 659ZM808 875L811 871L808 868L800 867L792 870L789 874L792 877L800 878ZM840 886L843 882L839 879L831 878L823 881L820 885L824 888L832 889ZM872 897L875 893L871 890L863 889L855 892L852 896L856 899L864 900ZM905 909L908 905L904 901L896 900L888 903L885 907L889 911L897 911ZM156 639L160 636L158 634L152 633L144 635L140 638L142 640L149 641ZM836 873L839 869L836 866L828 865L820 868L817 872L820 875L828 876ZM868 884L871 880L867 877L859 876L851 879L849 883L852 886L860 887ZM901 896L903 891L900 888L891 887L884 890L881 894L885 897L893 898ZM933 907L936 903L932 899L924 898L916 901L913 905L917 909L926 909ZM833 861L836 857L832 853L824 853L816 855L813 859L817 862L825 863ZM864 871L867 867L863 864L855 863L848 866L845 870L848 873L857 874ZM896 882L899 878L895 875L887 874L880 877L877 881L880 884L889 885ZM929 894L932 889L928 886L920 885L912 888L909 892L913 895L921 896ZM860 859L863 855L860 852L852 851L844 853L841 857L845 860L853 861ZM892 870L895 866L891 862L883 862L876 864L873 868L876 871L885 872ZM924 881L927 876L923 873L915 872L908 875L905 879L909 882L917 883ZM957 892L960 888L956 884L948 883L940 886L937 890L941 893L949 894ZM857 846L859 842L856 839L848 839L840 841L838 845L841 848L849 849ZM888 857L891 853L887 850L879 849L872 851L869 855L873 859L881 859ZM920 868L923 864L919 860L911 860L903 862L901 866L904 869L913 870ZM953 879L955 875L951 871L943 871L936 873L933 877L937 880L945 881ZM884 845L887 841L883 837L875 837L868 839L865 843L869 846L877 847ZM916 855L919 851L915 848L907 847L899 850L897 854L900 857L908 857ZM948 866L951 862L947 859L939 858L931 860L929 864L932 868L940 868ZM980 877L983 873L979 869L971 869L964 871L961 875L965 878L973 879ZM880 832L883 828L879 825L872 825L864 827L861 831L865 834L873 835ZM912 843L914 839L911 836L903 835L895 837L893 841L896 844L904 845ZM943 853L946 849L942 846L934 845L927 848L924 852L928 855L936 856ZM976 864L978 860L974 857L966 856L959 858L956 862L960 866L968 866ZM908 831L910 827L907 824L899 823L891 825L889 829L892 832L900 833ZM939 841L942 837L938 834L930 833L923 835L920 839L924 843L932 843ZM971 851L974 848L970 844L962 844L954 846L952 850L956 853L964 854ZM1003 862L1006 858L1002 855L994 854L986 857L984 861L988 864L996 865ZM903 818L906 815L903 812L895 811L887 813L885 817L888 820L896 821ZM935 829L937 825L934 822L926 821L918 823L916 827L919 830L927 831ZM966 839L969 835L965 832L957 831L950 834L947 838L951 841L959 841ZM998 850L1001 846L997 843L989 842L982 844L979 848L983 851L991 852ZM930 817L933 813L929 810L922 809L914 811L912 815L915 818L923 819ZM962 827L964 823L961 820L953 819L945 822L943 825L947 829L954 829ZM994 837L996 833L992 830L984 830L977 832L975 836L978 839L986 840ZM1026 848L1028 844L1024 841L1016 840L1009 842L1007 846L1010 849L1018 850ZM926 805L929 801L925 798L917 798L910 800L908 803L911 806L919 807ZM957 815L960 811L956 808L948 808L941 810L939 813L942 817L950 817ZM989 825L991 821L988 818L980 818L972 820L970 824L974 827L982 827ZM1021 836L1023 832L1019 829L1011 828L1004 830L1002 834L1006 837L1013 838ZM953 803L955 800L952 797L944 796L937 798L934 802L938 805L946 805ZM984 813L987 810L983 806L975 806L968 808L965 812L969 815L977 815ZM1016 823L1018 820L1014 817L1007 816L999 818L997 822L1001 825L1009 826ZM1048 834L1050 830L1046 827L1038 826L1031 828L1029 832L1033 835L1041 836ZM980 802L982 798L978 795L971 794L963 796L961 800L965 803L972 804ZM1011 812L1013 808L1010 805L1002 804L995 806L992 810L996 813L1004 814ZM1043 822L1045 818L1041 815L1033 814L1026 816L1024 820L1028 823L1035 824ZM1043 746L1044 744L1043 743L1039 742L1035 743L1034 745L1036 746L1040 747ZM1059 750L1060 749L1058 747L1054 747L1051 748L1050 750L1051 751L1055 751ZM1074 755L1075 753L1073 752L1069 751L1066 753L1065 754L1067 756L1070 756ZM1089 760L1090 758L1088 756L1085 756L1081 757L1080 759L1082 760L1086 761ZM1105 764L1106 763L1104 761L1100 761L1097 762L1096 764L1098 765L1101 765ZM1056 745L1057 743L1055 742L1052 741L1048 742L1047 744L1049 746L1053 746ZM1071 749L1072 748L1070 746L1067 746L1063 747L1062 749L1064 750L1068 750ZM1087 754L1088 752L1086 751L1082 751L1079 752L1078 753L1080 755L1083 755ZM1102 759L1103 757L1101 756L1097 755L1094 756L1093 758L1095 760L1099 760ZM1118 764L1119 762L1117 760L1113 760L1110 761L1109 763L1110 764L1114 765ZM1054 739L1055 738L1053 736L1049 736L1046 737L1045 739L1046 740L1050 740ZM1069 744L1070 742L1068 741L1064 741L1061 742L1060 743L1062 745L1065 745ZM1084 749L1085 747L1083 746L1079 745L1076 746L1075 748L1077 749L1081 750ZM1099 753L1100 752L1099 750L1095 750L1091 751L1090 753L1092 754L1096 754ZM1115 758L1116 756L1114 755L1110 755L1107 756L1106 757L1108 759L1112 759ZM1066 739L1067 737L1065 736L1062 735L1058 736L1057 738L1059 739L1063 740ZM1081 743L1083 742L1081 740L1077 740L1074 741L1072 743L1074 744L1078 744ZM1097 748L1098 746L1096 745L1092 745L1089 746L1088 747L1090 749L1093 749ZM1112 753L1113 751L1111 749L1108 749L1104 750L1103 752L1105 753L1109 754ZM1128 757L1129 756L1127 754L1123 754L1120 755L1119 757L1121 758L1124 758ZM1064 733L1065 732L1063 730L1059 730L1056 731L1055 733L1057 734L1060 734ZM1079 738L1080 736L1078 735L1074 735L1071 736L1070 737L1072 739L1076 739ZM1094 743L1095 741L1093 739L1090 739L1086 740L1085 742L1087 743L1091 744ZM1110 747L1111 745L1109 744L1105 744L1102 745L1100 746L1102 748L1106 748ZM1125 752L1126 750L1124 749L1120 748L1117 749L1116 751L1118 753L1122 753ZM1076 733L1077 731L1076 730L1072 729L1069 730L1067 732L1069 733L1073 734ZM1092 737L1093 735L1091 734L1087 734L1084 735L1083 736L1084 738L1088 738ZM1107 742L1108 740L1106 739L1102 738L1099 739L1098 741L1100 742L1103 743ZM1122 746L1123 745L1121 743L1118 743L1114 744L1113 746L1115 747L1119 747ZM1138 751L1139 749L1137 748L1133 748L1130 749L1129 750L1131 752L1134 752ZM1089 732L1090 730L1088 729L1084 729L1081 729L1080 731L1082 733L1086 733ZM1104 736L1105 735L1103 733L1100 733L1096 734L1095 736L1097 737L1101 737ZM1120 741L1121 739L1119 738L1115 738L1112 739L1111 740L1112 742L1116 742ZM1135 746L1136 744L1134 742L1130 742L1127 743L1126 745L1128 746L1132 747ZM1086 727L1087 725L1086 724L1082 723L1079 724L1078 726L1079 727L1083 728ZM1102 731L1103 729L1101 728L1097 728L1094 729L1093 730L1095 732L1098 732ZM1117 736L1118 734L1116 733L1112 732L1109 733L1108 735L1110 736L1113 737ZM1132 740L1133 739L1131 737L1128 737L1124 738L1123 740L1125 741L1129 741ZM1148 745L1149 743L1147 742L1143 741L1140 742L1139 744L1141 746L1144 746ZM1099 726L1100 724L1098 723L1094 723L1091 723L1090 725L1092 727L1096 727ZM1114 730L1115 729L1113 727L1110 727L1106 728L1105 730L1107 731L1111 731ZM1129 735L1130 733L1128 732L1125 732L1121 733L1120 734L1122 736L1126 736ZM1145 739L1146 738L1144 736L1140 736L1137 737L1136 739L1138 740L1141 740ZM1096 721L1097 719L1095 718L1092 717L1089 718L1087 720L1089 721L1093 722ZM1111 725L1112 723L1111 722L1107 722L1104 723L1103 724L1104 726L1108 726ZM1127 730L1128 728L1126 727L1122 726L1119 727L1118 729L1120 730L1123 731ZM1142 734L1143 732L1141 731L1137 731L1134 732L1133 733L1135 735L1139 735ZM1157 739L1158 737L1156 736L1153 735L1149 736L1148 738L1150 739L1154 740ZM1109 720L1110 718L1108 717L1104 717L1101 718L1100 719L1102 721L1106 721ZM1124 724L1125 723L1123 721L1119 721L1116 722L1115 724L1117 725L1121 725ZM1139 729L1140 727L1138 726L1135 725L1131 726L1130 728L1132 730L1136 730ZM1155 733L1156 732L1154 730L1150 730L1147 731L1146 733L1148 734L1151 734ZM1106 715L1107 713L1105 712L1102 711L1098 712L1097 714L1099 715L1103 716ZM1121 719L1122 717L1120 716L1117 716L1113 717L1112 718L1114 720L1118 720ZM1136 724L1137 722L1136 721L1132 720L1129 721L1128 723L1129 724L1133 725ZM1152 728L1153 726L1151 725L1147 725L1144 726L1143 727L1145 729L1148 729ZM1167 733L1168 731L1166 730L1162 729L1159 730L1158 732L1160 733L1164 734ZM1119 714L1120 712L1118 711L1114 711L1111 712L1110 713L1112 715L1115 715ZM1134 718L1135 717L1133 715L1129 715L1126 716L1125 718L1127 719L1130 719ZM1149 723L1150 721L1148 720L1144 720L1141 720L1140 722L1142 723L1146 724ZM1164 727L1165 726L1163 724L1160 724L1156 725L1155 727L1157 728L1161 728ZM1116 709L1117 707L1115 706L1111 706L1108 706L1107 708L1109 709L1113 710ZM1131 713L1132 712L1130 710L1126 710L1123 711L1122 712L1124 714L1128 714ZM1146 718L1147 716L1145 715L1142 714L1138 715L1137 717L1139 718L1143 719ZM1161 722L1162 720L1160 719L1157 719L1153 720L1153 721L1154 723L1158 723ZM1177 727L1178 725L1176 724L1172 723L1169 724L1168 726L1170 727L1173 728ZM1128 708L1129 706L1127 705L1124 705L1121 706L1120 707L1121 709L1125 709ZM1143 712L1144 711L1142 709L1139 709L1136 710L1135 712L1136 713L1140 713ZM1159 717L1160 715L1158 714L1154 714L1151 715L1150 716L1152 718L1155 718ZM1174 721L1175 720L1173 718L1169 718L1166 719L1165 721L1167 722L1171 722ZM1126 703L1127 701L1125 700L1121 700L1118 701L1117 702L1119 704L1122 704ZM1141 707L1142 706L1140 704L1136 704L1133 705L1132 707L1134 708L1137 708ZM1156 712L1157 710L1155 709L1151 708L1148 709L1147 711L1149 712L1153 713ZM1171 716L1172 714L1170 713L1166 713L1163 714L1162 715L1164 717L1168 717ZM1186 721L1187 719L1185 718L1182 717L1178 718L1177 720L1179 721L1183 722ZM1138 702L1139 701L1137 699L1133 699L1130 700L1129 702L1131 703L1135 703ZM1153 707L1154 705L1152 704L1148 703L1145 704L1144 706L1146 707L1150 708ZM1168 711L1169 709L1167 708L1164 708L1160 709L1159 710L1161 712L1165 712ZM1183 715L1184 714L1182 712L1179 712L1175 713L1175 715L1176 716L1180 716ZM1135 697L1136 696L1134 694L1131 694L1128 695L1127 696L1128 698L1132 698ZM1150 701L1151 700L1149 699L1146 698L1142 699L1142 701L1143 702L1147 702ZM1165 706L1166 704L1164 703L1161 703L1157 704L1157 705L1158 707L1162 707ZM1180 710L1181 709L1179 707L1176 707L1173 708L1172 710L1174 711L1177 711ZM1196 715L1197 713L1195 712L1191 711L1188 712L1187 714L1189 715L1193 716ZM1148 696L1148 695L1147 694L1143 693L1140 694L1139 696L1141 697L1144 697ZM1163 701L1163 699L1162 698L1158 698L1155 698L1154 700L1156 701L1159 702ZM1178 705L1179 703L1177 702L1173 702L1170 703L1169 704L1171 706L1174 706ZM1193 709L1194 708L1192 707L1188 706L1185 707L1184 709L1186 710L1190 710ZM1145 691L1146 690L1144 689L1140 688L1137 689L1136 691L1138 692L1142 692ZM1160 696L1161 694L1159 693L1155 693L1152 693L1151 695L1153 696L1157 697ZM1175 700L1176 698L1174 697L1170 697L1167 698L1166 699L1168 701L1172 701ZM1190 704L1191 703L1189 701L1185 701L1182 702L1181 704L1183 705L1187 705ZM1205 709L1206 707L1204 706L1200 706L1197 706L1196 708L1198 709L1202 710ZM1157 691L1158 689L1156 688L1152 688L1149 688L1148 690L1150 691L1154 692ZM1172 695L1173 693L1171 692L1167 692L1164 693L1163 694L1165 696L1169 696ZM1187 699L1188 698L1186 696L1182 696L1179 697L1178 699L1180 700L1184 700ZM1202 704L1203 702L1201 701L1197 700L1194 701L1193 703L1195 704L1199 705ZM1154 686L1155 684L1153 683L1150 683L1147 684L1146 685L1147 686L1151 687ZM1169 690L1170 688L1168 687L1165 687L1161 688L1160 689L1162 691L1166 691ZM1184 694L1185 693L1183 691L1180 691L1176 692L1175 694L1177 695L1181 695ZM1199 699L1200 697L1198 696L1195 695L1191 696L1191 698L1192 699L1196 700ZM1214 703L1215 701L1213 700L1210 700L1207 701L1206 702L1208 704L1211 704ZM1166 685L1167 683L1165 682L1162 682L1159 683L1158 684L1160 686L1163 686ZM1181 689L1182 688L1180 686L1177 686L1174 687L1173 689L1175 690L1178 690ZM1196 694L1197 692L1195 691L1192 690L1189 691L1188 693L1190 694L1193 694ZM1211 698L1212 696L1210 695L1207 695L1204 696L1203 697L1205 699L1208 699ZM1164 680L1165 679L1163 677L1159 677L1156 678L1155 679L1157 681L1160 681ZM1179 684L1179 683L1178 681L1174 681L1171 682L1170 684L1172 685L1175 685ZM1193 689L1194 687L1192 686L1189 685L1186 686L1185 688L1187 689L1190 689ZM1209 693L1209 691L1207 690L1204 690L1201 691L1200 692L1202 693L1205 694ZM1224 697L1225 696L1223 694L1219 694L1216 695L1215 696L1217 698L1221 698ZM1176 679L1177 678L1175 677L1171 676L1168 677L1167 679L1169 680L1173 680ZM1191 684L1191 682L1190 681L1186 680L1183 681L1182 683L1184 684L1187 685ZM1206 688L1206 686L1205 685L1201 685L1198 686L1197 687L1199 688L1202 689ZM1221 692L1222 691L1220 689L1216 689L1213 690L1212 691L1214 693L1218 693ZM1173 674L1174 673L1172 672L1168 671L1165 672L1164 674L1166 675L1170 675ZM1188 679L1189 677L1187 676L1183 676L1180 676L1179 678L1181 679L1185 680ZM1203 683L1204 681L1202 680L1198 680L1195 681L1194 682L1196 684L1200 684ZM1218 687L1219 686L1217 684L1213 684L1210 685L1209 686L1211 688L1215 688ZM1233 691L1234 690L1232 689L1228 688L1225 689L1224 691L1226 692L1230 692ZM1185 674L1186 672L1184 671L1180 671L1177 672L1176 673L1178 674L1182 675ZM1200 678L1201 676L1199 675L1195 675L1192 676L1191 677L1193 679L1197 679ZM1215 682L1216 681L1214 679L1210 679L1207 680L1206 682L1208 683L1212 683ZM1230 686L1231 685L1229 684L1225 683L1222 684L1221 686L1223 687L1227 687ZM1182 669L1183 667L1181 666L1178 666L1174 667L1174 668L1175 670L1179 670ZM1197 673L1198 672L1196 670L1192 670L1189 671L1188 672L1190 674L1194 674ZM1212 677L1213 676L1211 674L1207 674L1204 675L1203 677L1205 678L1209 678ZM1227 681L1228 680L1226 679L1222 678L1219 679L1218 681L1220 682L1224 682ZM1242 686L1243 684L1241 683L1237 683L1234 683L1233 685L1235 686L1239 687ZM1194 668L1195 667L1193 665L1190 665L1186 666L1186 668L1187 669L1191 669ZM1209 672L1210 671L1208 670L1204 669L1201 670L1200 672L1202 673L1206 673ZM1224 677L1225 675L1223 674L1219 673L1216 674L1215 676L1217 677L1221 677ZM1239 681L1240 679L1238 678L1234 678L1231 679L1230 680L1232 681L1236 682ZM1191 663L1192 662L1190 661L1187 660L1184 661L1183 663L1185 664L1188 664ZM1206 668L1207 666L1205 665L1201 664L1198 665L1197 667L1199 668L1203 668ZM1221 672L1222 670L1220 669L1216 669L1213 670L1212 671L1214 672L1218 673ZM1236 676L1237 674L1235 673L1231 673L1228 674L1227 675L1229 677L1233 677ZM1251 680L1252 679L1250 677L1246 677L1243 678L1242 679L1244 681L1248 681ZM1203 663L1204 661L1202 660L1199 660L1196 661L1195 662L1197 663L1200 664ZM1218 667L1219 665L1217 664L1213 664L1210 665L1209 666L1211 667L1215 668ZM1233 671L1234 669L1232 668L1228 668L1225 669L1224 670L1226 672L1230 672ZM1248 675L1249 674L1247 672L1243 672L1240 673L1239 675L1241 676L1245 676ZM1215 662L1216 661L1214 659L1211 659L1207 660L1207 661L1208 663L1212 663ZM1230 666L1231 665L1229 663L1225 663L1222 664L1221 666L1223 667L1227 667ZM1245 670L1246 669L1244 668L1240 667L1237 668L1236 670L1238 671L1242 671ZM1260 674L1261 673L1259 672L1255 671L1252 672L1251 674L1253 675L1257 675ZM1212 657L1213 656L1211 655L1208 654L1205 655L1204 657L1206 658L1209 658ZM1227 661L1228 660L1226 659L1222 658L1219 659L1218 661L1220 662L1224 662ZM1242 665L1243 664L1241 663L1237 662L1234 663L1233 665L1235 666L1239 666ZM1257 670L1258 668L1256 667L1252 667L1249 667L1248 669L1250 670L1254 671ZM1296 610L1297 607L1294 605L1287 604L1281 606L1279 608L1283 611L1290 611ZM1325 617L1326 614L1322 612L1316 612L1310 613L1308 616L1312 618L1319 619ZM1354 625L1356 622L1352 620L1345 619L1339 621L1338 624L1342 626L1348 627ZM1319 608L1320 606L1316 603L1309 603L1304 604L1302 607L1306 610L1313 610ZM1348 616L1349 613L1345 611L1338 610L1333 612L1331 615L1335 617L1342 618ZM1377 624L1378 621L1375 618L1368 618L1362 620L1361 623L1364 625L1371 625ZM1312 600L1314 597L1310 595L1303 594L1298 596L1296 598L1300 601L1307 601ZM1341 607L1343 604L1339 602L1332 602L1326 603L1325 606L1329 608L1336 609ZM1371 615L1372 612L1368 610L1361 609L1355 611L1354 614L1358 616L1365 616ZM1335 598L1336 596L1333 593L1326 593L1320 594L1319 597L1322 599L1329 600ZM1364 606L1365 603L1361 601L1355 600L1349 602L1347 605L1351 607L1358 607ZM1393 613L1394 611L1391 608L1384 608L1378 610L1377 612L1381 615L1387 615ZM1329 590L1330 587L1326 585L1320 584L1314 586L1312 589L1316 591L1323 591ZM1357 597L1359 594L1355 592L1348 592L1342 593L1341 596L1345 598L1352 599ZM1386 605L1388 602L1384 600L1377 599L1371 601L1370 603L1374 606L1381 606ZM1351 589L1352 586L1349 584L1342 583L1336 585L1335 587L1339 590L1345 590ZM1380 596L1381 593L1377 591L1370 590L1365 592L1364 595L1367 597L1374 598ZM1409 603L1410 601L1406 598L1399 598L1394 599L1393 602L1397 605L1403 605ZM1345 580L1346 577L1342 575L1336 575L1330 576L1329 579L1332 581L1339 582ZM1373 587L1375 585L1371 582L1364 582L1358 584L1357 586L1361 588L1368 589ZM1402 595L1403 592L1400 590L1393 589L1387 591L1386 594L1390 596L1397 596ZM1367 579L1368 576L1364 574L1358 574L1352 575L1351 578L1355 580L1361 580ZM1396 586L1397 583L1393 581L1386 581L1381 582L1379 585L1383 587L1390 588ZM1425 593L1426 591L1422 589L1415 588L1409 590L1408 592L1412 595L1419 595ZM1360 570L1362 568L1358 566L1351 565L1346 567L1344 569L1348 572L1355 572ZM1389 578L1390 575L1386 573L1380 572L1374 574L1373 577L1377 579L1383 579ZM1418 585L1419 582L1415 580L1408 580L1403 581L1402 584L1405 586L1412 586ZM1382 569L1384 567L1380 565L1373 564L1368 566L1366 568L1370 570L1377 571ZM1411 576L1412 574L1408 572L1402 571L1396 573L1395 575L1399 578L1405 578ZM1440 584L1441 581L1437 579L1430 578L1425 580L1424 583L1428 585L1434 585ZM1376 561L1377 558L1373 556L1367 556L1361 557L1360 560L1364 562L1370 563ZM1404 568L1405 566L1402 563L1395 563L1390 564L1388 567L1392 569L1399 570ZM1433 575L1434 573L1430 570L1424 570L1418 572L1417 574L1421 576L1427 577ZM1398 560L1399 557L1395 555L1389 555L1383 556L1382 559L1386 561L1392 561ZM1426 567L1427 564L1423 562L1417 562L1411 563L1410 566L1414 568L1421 568ZM1455 574L1456 571L1452 569L1445 569L1440 570L1439 573L1443 575L1449 576ZM1391 552L1392 549L1389 547L1382 547L1377 548L1376 551L1379 553L1386 553ZM1419 559L1421 556L1417 554L1410 554L1405 555L1404 558L1407 560L1414 560ZM1448 566L1449 563L1445 561L1439 561L1433 562L1432 565L1436 567L1443 567ZM1413 551L1414 548L1410 546L1404 546L1398 547L1397 550L1401 552L1407 552ZM1441 558L1442 555L1438 553L1432 552L1426 554L1425 557L1429 559L1436 559ZM1470 565L1471 562L1467 560L1460 559L1455 561L1454 564L1458 566L1464 566ZM1406 543L1407 540L1404 538L1397 538L1392 539L1391 542L1394 544L1401 544ZM1434 550L1435 547L1432 545L1425 544L1420 546L1419 548L1422 551L1429 551ZM1463 556L1464 554L1460 552L1453 551L1448 553L1447 555L1451 558L1457 558ZM1428 542L1429 539L1425 537L1419 537L1413 538L1412 540L1416 543L1422 543ZM1456 548L1457 546L1453 544L1447 543L1441 545L1440 547L1444 549L1451 550ZM1484 555L1485 553L1481 551L1475 550L1469 552L1468 554L1472 556L1479 557ZM1449 540L1450 538L1446 536L1440 535L1435 537L1433 539L1437 541L1444 542ZM1477 547L1478 545L1474 543L1468 542L1463 544L1462 546L1465 548L1472 549ZM1442 533L1443 530L1440 528L1433 528L1428 529L1427 532L1431 534L1437 534ZM1470 539L1471 537L1468 535L1461 534L1456 536L1455 538L1459 540L1465 541ZM1499 546L1500 544L1496 542L1489 541L1484 543L1483 545L1487 547L1493 548ZM1464 531L1465 529L1461 527L1454 527L1449 528L1448 530L1452 532L1458 533ZM1492 538L1493 536L1489 534L1482 533L1477 535L1476 537L1480 539L1486 540Z"/>
<path fill="#f1eee4" fill-opacity="0.24" d="M274 711L278 708L276 705L268 704L261 706L257 710L259 712L266 713ZM299 720L303 717L301 714L294 713L286 715L282 718L284 721L291 722ZM325 729L329 726L326 723L319 722L311 724L308 728L310 730L317 731ZM351 738L355 735L352 732L345 731L337 733L333 737L336 739L343 740ZM377 747L381 744L379 741L371 740L363 742L360 746L362 749L369 749ZM404 757L408 753L405 750L398 750L390 752L386 755L389 758L396 759ZM431 766L435 763L432 760L425 759L417 761L413 765L416 768L423 768ZM458 776L462 772L459 769L452 769L444 771L440 774L443 777L450 778ZM225 683L229 680L227 678L220 677L212 679L208 682L210 685L217 685ZM250 692L254 689L252 686L245 686L237 687L233 691L235 693L242 694ZM275 701L279 697L276 695L269 694L262 696L258 699L260 702L267 703ZM300 709L304 706L301 703L294 703L287 705L283 708L285 711L292 711ZM325 718L329 715L327 712L320 712L312 714L308 717L310 720L318 720ZM351 727L355 724L353 721L345 721L338 723L334 726L336 729L343 729ZM377 736L381 733L379 730L371 730L364 732L360 735L362 738L369 738ZM404 746L407 742L405 739L398 739L390 741L386 744L389 747L396 748ZM430 755L434 752L432 749L424 748L417 750L413 754L415 757L423 757ZM458 765L461 761L459 758L451 758L443 760L440 763L442 766L450 767ZM485 774L489 771L486 768L479 767L471 769L467 773L470 776L477 776ZM513 784L516 780L514 777L506 777L498 779L495 782L497 785L505 786ZM541 794L545 790L542 787L534 786L526 789L523 792L526 795L533 796ZM570 804L573 800L570 797L562 796L555 798L551 802L554 805L562 806ZM598 814L602 810L599 807L591 806L583 808L580 812L583 815L591 816ZM628 824L631 820L628 817L620 816L612 819L609 822L612 826L620 826ZM657 834L661 830L657 827L650 827L642 829L638 833L642 836L649 837ZM687 845L691 841L687 838L680 837L672 839L668 843L672 846L679 847ZM718 855L721 851L718 848L710 848L702 850L699 854L702 857L710 858ZM749 866L752 862L748 859L740 858L733 861L729 865L733 868L741 869ZM202 665L206 662L204 659L197 659L190 661L186 664L188 666L194 667ZM226 673L230 670L228 668L221 667L214 669L210 672L212 675L219 675ZM251 682L255 679L252 676L246 676L238 677L234 681L236 683L243 684ZM275 690L279 687L277 685L270 684L263 686L259 689L261 692L268 692ZM715 843L718 839L715 836L707 835L699 838L696 841L699 845L707 845ZM746 854L749 850L745 846L738 846L730 848L727 852L730 855L738 856ZM777 864L780 860L776 857L768 856L761 859L757 863L761 866L769 867ZM180 647L184 644L182 642L175 641L167 643L163 646L165 648L172 649ZM203 655L207 652L205 650L199 649L191 651L187 654L189 657L196 657ZM227 664L231 661L229 658L222 658L215 659L211 662L213 665L220 665ZM805 862L808 859L804 855L796 855L788 857L785 861L789 864L797 865ZM158 630L162 627L160 625L153 624L146 626L142 629L144 631L150 632ZM181 638L185 635L183 632L176 632L169 634L165 637L167 639L174 640ZM205 646L209 643L207 640L200 640L192 642L188 645L190 647L197 648ZM183 629L186 626L185 623L178 623L170 624L166 627L168 630L175 630ZM829 848L832 844L828 841L821 840L813 843L810 847L813 850L821 850ZM184 619L188 617L186 614L179 614L172 615L168 618L170 621L176 621ZM853 834L856 830L852 827L844 826L837 829L834 832L838 836L845 836ZM876 820L879 816L876 813L868 813L860 815L858 819L861 822L869 822ZM899 807L902 803L899 800L891 799L884 801L881 805L884 808L892 809ZM922 793L925 790L921 787L913 786L906 788L904 792L907 795L915 795ZM949 792L951 788L947 785L940 784L933 787L930 790L934 793L941 794ZM1028 741L1029 739L1027 738L1024 738L1020 739L1019 740L1021 742L1025 742ZM1026 736L1027 734L1025 733L1021 732L1018 733L1017 735L1019 736L1022 737ZM1041 740L1042 739L1040 737L1036 737L1033 738L1032 740L1034 741L1037 741ZM1038 735L1040 733L1038 732L1034 732L1031 733L1030 734L1031 736L1035 736ZM1036 730L1037 728L1035 727L1032 726L1028 727L1027 729L1029 730L1033 731ZM1051 734L1052 732L1050 731L1047 731L1043 732L1042 733L1044 735L1048 735ZM1049 729L1050 727L1048 726L1044 726L1041 727L1040 728L1042 730L1045 730ZM1046 724L1047 722L1046 721L1042 720L1038 721L1037 723L1039 724L1043 725ZM1061 728L1062 726L1060 725L1057 725L1053 726L1052 727L1054 729L1058 729ZM1059 723L1060 721L1058 720L1054 720L1051 721L1050 722L1052 724L1055 724ZM1074 727L1075 726L1073 724L1069 724L1066 725L1065 727L1067 728L1070 728ZM1056 718L1057 716L1056 715L1052 714L1049 715L1048 717L1049 718L1053 719ZM1071 722L1072 720L1071 719L1067 719L1064 720L1062 721L1064 723L1068 723ZM1069 717L1070 715L1068 714L1064 714L1061 715L1060 716L1062 718L1066 718ZM1084 721L1085 720L1083 718L1079 718L1076 719L1075 721L1077 722L1081 722ZM1066 712L1067 710L1066 709L1062 708L1059 709L1058 711L1059 712L1063 713ZM1081 716L1082 715L1080 713L1077 713L1074 714L1072 715L1074 717L1078 717ZM1079 711L1080 709L1078 708L1074 708L1071 709L1070 710L1072 712L1075 712ZM1094 715L1095 714L1093 712L1089 712L1086 713L1085 715L1087 716L1090 716ZM1076 706L1077 704L1075 703L1072 703L1069 704L1068 705L1069 707L1073 707ZM1091 710L1092 709L1090 707L1087 707L1083 708L1082 710L1084 711L1088 711ZM1089 705L1090 704L1088 702L1084 702L1081 703L1080 704L1082 706L1085 706ZM1104 709L1105 708L1103 707L1099 706L1096 707L1095 709L1097 710L1100 710ZM1086 700L1087 698L1085 697L1082 697L1078 698L1077 699L1079 701L1083 701ZM1101 704L1102 703L1100 701L1097 701L1093 702L1092 704L1094 705L1098 705ZM1098 699L1099 698L1098 696L1094 696L1091 697L1090 699L1092 700L1095 700ZM1113 704L1114 702L1112 701L1109 700L1106 701L1105 703L1106 704L1110 705ZM1111 699L1112 697L1110 696L1106 695L1103 696L1102 698L1104 699L1107 700ZM1108 694L1109 692L1107 691L1104 690L1100 691L1099 693L1101 694L1105 694ZM1123 698L1124 696L1122 695L1119 695L1115 696L1114 697L1116 699L1120 699ZM1120 693L1121 691L1119 690L1116 690L1113 691L1112 692L1114 693L1117 694ZM1118 688L1119 686L1117 685L1113 685L1110 686L1109 687L1111 688L1115 689ZM1133 692L1134 691L1132 689L1128 689L1125 690L1124 691L1126 693L1129 693ZM1130 687L1131 686L1129 684L1125 684L1122 685L1121 686L1123 688L1127 688ZM1127 682L1128 681L1126 679L1123 679L1120 680L1119 682L1121 683L1124 683ZM1142 686L1143 685L1141 684L1138 683L1134 684L1133 686L1135 687L1139 687ZM1139 681L1140 680L1139 679L1135 678L1132 679L1131 681L1133 682L1136 682ZM1137 677L1138 675L1136 674L1132 673L1129 674L1128 676L1130 677L1134 677ZM1152 681L1152 679L1151 678L1147 678L1144 679L1143 680L1145 681L1148 682ZM1149 676L1150 674L1148 673L1144 673L1141 674L1140 675L1142 677L1146 677ZM1146 671L1147 669L1145 668L1142 668L1139 669L1138 670L1139 672L1143 672ZM1161 675L1162 674L1160 672L1156 672L1153 673L1152 675L1154 676L1158 676ZM1158 670L1159 669L1157 668L1154 667L1151 668L1150 670L1151 671L1155 671ZM1155 665L1156 664L1155 663L1151 662L1148 663L1147 665L1149 666L1152 666ZM1170 670L1171 668L1169 667L1166 667L1163 667L1162 669L1163 670L1167 671ZM1167 665L1168 663L1166 662L1163 662L1160 663L1159 664L1161 665L1164 666ZM1165 660L1166 658L1164 657L1160 657L1157 658L1156 659L1158 661L1162 661ZM1179 664L1180 663L1178 661L1175 661L1172 662L1171 663L1173 665L1176 665ZM1177 659L1177 658L1176 657L1172 656L1169 657L1168 659L1170 660L1173 660ZM1174 655L1175 653L1173 652L1169 652L1166 652L1165 654L1167 655L1171 655ZM1188 659L1189 657L1187 656L1184 656L1181 657L1180 658L1182 659L1185 660ZM1186 654L1187 652L1185 651L1181 651L1178 652L1177 653L1179 654L1183 655ZM1200 658L1201 656L1199 655L1196 655L1193 656L1192 657L1194 659L1197 659ZM1183 649L1184 648L1182 646L1178 646L1175 647L1174 649L1176 650L1180 650ZM1198 653L1198 652L1197 650L1193 650L1190 651L1189 653L1191 654L1194 654ZM1267 602L1269 599L1265 597L1258 597L1252 598L1251 601L1255 603L1261 604ZM1290 601L1291 598L1288 596L1281 595L1275 597L1274 600L1277 602L1284 602ZM1284 592L1285 589L1282 587L1275 587L1269 588L1268 591L1271 593L1278 594ZM1306 591L1308 588L1304 586L1297 586L1292 587L1290 590L1294 592L1301 593ZM1300 582L1302 580L1298 578L1291 577L1286 579L1284 581L1288 583L1295 584ZM1323 581L1324 579L1320 576L1313 576L1308 577L1306 580L1310 582L1317 583ZM1316 573L1318 570L1314 568L1307 568L1302 569L1300 572L1304 574L1311 574ZM1338 572L1340 569L1336 567L1329 566L1324 568L1322 571L1326 573L1333 573ZM1332 563L1334 561L1330 559L1323 558L1318 560L1316 562L1320 564L1327 565ZM1354 562L1355 560L1352 557L1345 557L1340 559L1338 561L1342 563L1349 564ZM1348 554L1349 551L1346 549L1339 549L1333 550L1332 553L1336 555L1342 556ZM1370 553L1371 550L1367 548L1361 548L1355 549L1354 552L1358 554L1364 554ZM1363 545L1365 542L1361 540L1354 540L1349 541L1348 544L1351 546L1358 546ZM1385 544L1386 541L1382 539L1376 539L1370 540L1369 543L1373 545L1379 545ZM1400 535L1401 532L1397 530L1391 530L1386 531L1384 534L1388 536L1394 536ZM1421 534L1422 531L1419 529L1412 529L1407 530L1406 533L1409 535L1416 535ZM1415 526L1416 523L1412 521L1406 521L1400 522L1399 525L1403 527L1409 527ZM1436 525L1437 522L1433 520L1427 520L1421 521L1420 524L1424 526L1430 526Z"/>
<path fill="#f1eee4" fill-opacity="0.20" d="M300 699L304 696L302 693L295 693L287 695L283 698L286 701L293 701ZM326 708L330 705L327 702L320 701L313 703L309 707L311 709L318 710ZM351 717L355 714L353 711L346 710L338 712L334 715L337 718L344 719ZM377 726L381 723L379 720L372 719L364 721L360 724L362 727L370 728ZM404 735L407 732L405 729L398 728L390 730L386 734L389 736L396 737ZM430 744L434 741L431 738L424 737L416 739L413 743L415 746L422 746ZM457 753L461 750L458 747L451 747L443 749L439 752L442 755L449 756ZM484 763L488 759L485 757L478 756L470 758L466 762L469 764L477 765ZM512 773L515 769L513 766L505 765L498 768L494 771L497 774L504 775ZM540 782L543 779L541 776L533 775L525 777L522 781L525 784L532 784ZM568 792L572 788L569 785L561 785L553 787L550 791L553 794L560 794ZM597 802L600 798L597 795L590 795L582 797L578 800L581 804L589 804ZM626 812L629 808L626 805L618 805L611 807L607 811L610 814L618 814ZM655 822L658 818L655 815L648 815L640 817L637 821L640 824L647 824ZM685 833L688 829L685 826L677 825L669 827L666 831L669 834L677 835ZM252 672L256 669L253 666L247 666L239 668L235 671L237 673L244 674ZM276 680L280 677L278 675L271 674L263 676L259 679L262 682L269 682ZM301 689L305 686L303 683L296 683L288 685L284 688L286 690L293 691ZM326 698L330 695L328 692L321 691L313 693L309 696L311 699L319 700ZM352 706L355 703L353 701L346 700L338 702L335 705L337 708L344 708ZM377 715L381 712L379 709L372 709L364 711L360 714L363 717L370 717ZM403 724L407 721L405 718L398 718L390 720L386 723L389 726L396 726ZM430 733L433 730L431 727L424 727L416 729L412 732L415 735L422 735ZM457 743L460 739L458 736L450 736L443 738L439 741L442 744L449 745ZM484 752L487 748L484 746L477 745L469 747L466 751L469 753L476 754ZM511 761L514 758L512 755L504 754L497 756L493 760L496 763L503 763ZM539 771L542 767L539 764L532 764L524 766L521 769L523 772L531 773ZM567 781L570 777L567 774L560 773L552 776L549 779L551 782L559 783ZM595 790L599 787L596 784L588 783L580 785L577 789L580 792L587 792ZM624 800L627 797L624 794L617 793L609 795L606 799L609 802L616 802ZM653 810L656 807L653 804L646 803L638 805L635 809L638 812L645 813ZM683 820L686 817L683 814L675 813L667 815L664 819L667 822L675 823ZM713 831L716 827L712 824L705 823L697 825L694 829L697 832L705 833ZM743 841L746 837L743 834L735 833L727 836L724 840L727 843L735 844ZM774 852L777 848L773 845L765 844L758 846L754 850L758 853L766 854ZM228 654L232 651L230 649L224 648L216 650L212 653L214 655L221 656ZM253 662L256 659L254 657L248 656L240 658L236 661L238 664L245 664ZM277 671L281 668L279 665L272 664L264 666L260 669L263 672L269 672ZM801 850L804 846L801 843L793 842L785 844L782 848L786 852L794 852ZM206 637L210 634L208 631L201 631L194 632L190 635L192 638L198 638ZM230 645L233 642L231 639L225 639L217 640L213 643L215 646L222 646ZM254 653L257 650L255 647L249 647L241 648L237 651L239 654L246 654ZM798 838L801 834L798 831L790 830L782 832L779 836L783 839L790 840ZM207 627L211 624L209 622L202 622L195 623L191 626L193 628L200 629ZM231 635L235 632L233 630L226 629L218 631L215 634L217 636L223 637ZM826 836L828 832L825 829L817 828L810 830L807 834L810 837L818 838ZM208 618L212 615L210 613L204 612L196 614L192 617L194 619L201 620ZM822 824L825 820L822 817L814 816L806 818L803 822L807 825L815 826ZM210 609L213 606L211 604L205 604L198 605L194 608L196 610L202 611ZM849 822L852 818L849 815L841 814L833 817L830 820L834 824L842 824ZM846 810L848 806L845 803L837 803L830 805L827 809L830 812L838 812ZM873 808L875 805L872 802L864 801L857 803L854 807L857 810L865 811ZM869 797L872 793L868 790L860 789L853 792L850 795L854 798L862 799ZM896 795L898 791L895 788L887 788L880 790L877 794L881 797L888 797ZM892 784L894 780L891 777L883 776L876 778L873 782L877 785L884 786ZM918 782L921 778L917 775L909 775L902 777L900 780L903 783L911 784ZM998 732L999 730L997 729L994 729L990 730L989 731L991 733L995 733ZM1013 736L1014 735L1012 733L1009 733L1005 734L1004 736L1006 737L1010 737ZM1011 731L1012 729L1010 728L1006 728L1003 729L1002 730L1004 732L1007 732ZM1009 726L1010 724L1008 723L1004 723L1001 724L1000 725L1001 727L1005 727ZM1023 730L1025 729L1023 727L1019 727L1016 728L1015 730L1016 731L1020 731ZM1021 725L1022 723L1020 722L1017 722L1013 723L1012 724L1014 726L1018 726ZM1019 720L1020 718L1018 717L1014 717L1011 718L1010 719L1012 721L1015 721ZM1034 724L1035 723L1033 721L1029 721L1026 722L1025 724L1027 725L1030 725ZM1031 719L1032 717L1031 716L1027 716L1024 717L1022 718L1024 720L1028 720ZM1029 714L1030 712L1028 711L1025 711L1021 712L1020 713L1022 715L1026 715ZM1044 718L1045 717L1043 715L1039 715L1036 716L1035 718L1037 719L1040 719ZM1041 713L1043 712L1041 710L1037 710L1034 711L1033 713L1034 714L1038 714ZM1039 708L1040 706L1038 705L1035 705L1031 706L1030 707L1032 709L1036 709ZM1054 712L1055 711L1053 709L1050 709L1046 710L1045 712L1047 713L1051 713ZM1052 707L1053 706L1051 704L1047 704L1044 705L1043 707L1045 708L1048 708ZM1049 702L1050 701L1048 699L1045 699L1041 700L1040 702L1042 703L1046 703ZM1064 707L1065 705L1063 704L1060 703L1056 704L1055 706L1057 707L1061 708ZM1061 701L1063 700L1061 699L1057 698L1054 699L1053 701L1055 702L1058 702ZM1059 696L1060 695L1058 694L1055 693L1051 694L1050 696L1052 697L1056 697ZM1074 701L1075 699L1073 698L1069 698L1066 699L1065 700L1067 701L1071 702ZM1071 696L1072 694L1071 693L1067 693L1064 693L1063 695L1064 696L1068 697ZM1069 691L1070 689L1068 688L1065 688L1061 688L1060 690L1062 691L1066 692ZM1084 695L1085 693L1083 692L1079 692L1076 693L1075 694L1077 696L1080 696ZM1081 690L1082 688L1080 687L1077 687L1074 688L1072 689L1074 691L1078 691ZM1096 694L1097 693L1095 691L1091 691L1088 692L1087 694L1089 695L1093 695ZM1079 685L1080 683L1078 682L1074 682L1071 683L1070 684L1072 686L1075 686ZM1093 689L1094 688L1093 686L1089 686L1086 687L1085 689L1087 690L1090 690ZM1091 684L1092 683L1090 681L1086 681L1083 682L1082 684L1084 685L1088 685ZM1106 689L1107 687L1105 686L1101 685L1098 686L1097 688L1099 689L1102 689ZM1088 679L1089 678L1088 677L1084 676L1081 677L1080 679L1082 680L1085 680ZM1103 684L1104 682L1102 681L1099 680L1095 681L1094 683L1096 684L1100 685ZM1100 679L1101 677L1100 676L1096 676L1093 676L1092 678L1094 679L1097 680ZM1115 683L1116 681L1114 680L1111 680L1108 681L1107 682L1108 684L1112 684ZM1098 674L1099 672L1097 671L1094 671L1090 672L1089 673L1091 674L1095 675ZM1113 678L1114 676L1112 675L1108 675L1105 676L1104 677L1106 679L1109 679ZM1110 673L1111 672L1109 670L1106 670L1102 671L1101 672L1103 674L1107 674ZM1125 677L1126 676L1124 674L1120 674L1117 675L1116 677L1118 678L1121 678ZM1107 668L1108 667L1107 665L1103 665L1100 666L1099 668L1101 669L1104 669ZM1122 672L1123 671L1121 670L1118 669L1114 670L1114 672L1115 673L1119 673ZM1120 668L1120 666L1119 665L1115 664L1112 665L1111 667L1113 668L1116 668ZM1134 672L1135 670L1133 669L1130 669L1127 670L1126 671L1127 672L1131 673ZM1117 663L1118 661L1116 660L1113 660L1109 661L1108 662L1110 663L1114 664ZM1132 667L1132 665L1131 664L1127 664L1124 665L1123 666L1125 667L1128 668ZM1129 662L1130 661L1128 659L1125 659L1121 660L1120 661L1122 663L1126 663ZM1143 666L1144 665L1143 663L1139 663L1136 664L1135 666L1137 667L1140 667ZM1126 657L1127 656L1125 655L1122 654L1119 655L1118 657L1120 658L1123 658ZM1141 661L1142 660L1140 659L1136 658L1133 659L1132 661L1134 662L1138 662ZM1138 657L1139 655L1137 654L1134 654L1131 654L1130 656L1132 657L1135 657ZM1153 661L1154 659L1152 658L1148 658L1145 659L1144 660L1146 661L1150 662ZM1150 656L1151 654L1149 653L1146 653L1143 654L1142 655L1143 657L1147 657ZM1147 651L1148 650L1147 648L1143 648L1140 649L1139 651L1141 652L1144 652ZM1162 655L1163 654L1161 652L1158 652L1154 653L1154 655L1155 656L1159 656ZM1159 650L1160 649L1158 648L1155 648L1152 648L1151 650L1153 651L1156 651ZM1157 646L1158 644L1156 643L1152 643L1149 644L1148 645L1150 646L1154 647ZM1171 650L1172 648L1170 647L1167 647L1164 648L1163 649L1165 650L1168 651ZM1168 645L1169 644L1167 642L1164 642L1161 643L1160 645L1162 646L1165 646ZM1239 595L1240 592L1237 590L1230 589L1224 591L1223 593L1226 596L1233 596ZM1261 593L1263 591L1259 588L1253 588L1247 590L1245 592L1249 594L1256 595ZM1256 585L1257 582L1254 580L1247 579L1241 581L1240 584L1243 586L1250 586ZM1278 584L1279 581L1276 579L1269 578L1263 580L1262 582L1266 585L1272 585ZM1272 575L1274 572L1270 570L1263 570L1258 571L1256 574L1260 576L1266 577ZM1294 574L1296 571L1292 569L1285 569L1280 570L1278 573L1282 575L1289 576ZM1288 566L1290 563L1286 561L1280 560L1274 562L1273 565L1276 567L1283 567ZM1310 564L1312 562L1308 560L1302 559L1296 561L1295 563L1298 566L1305 566ZM1326 555L1328 553L1324 550L1317 550L1312 552L1310 554L1314 556L1321 557ZM1342 546L1343 543L1339 541L1333 541L1327 542L1326 545L1330 547L1336 547ZM1357 537L1358 534L1355 532L1348 532L1343 533L1342 536L1345 538L1352 538ZM1379 536L1380 533L1376 531L1370 531L1364 532L1363 535L1367 537L1373 537ZM1372 528L1374 526L1370 524L1363 523L1358 525L1357 527L1361 529L1367 529ZM1394 527L1395 524L1391 522L1385 522L1379 523L1378 526L1382 528L1388 528ZM1387 519L1388 517L1385 515L1378 514L1373 516L1372 518L1376 520L1382 521ZM1408 518L1409 516L1406 514L1399 513L1394 515L1393 517L1397 519L1403 520Z"/>
<path fill="#f1eee4" fill-opacity="0.14" d="M302 679L305 676L303 673L296 673L289 675L285 678L287 680L294 681ZM327 688L330 684L328 682L321 681L314 683L310 686L312 689L319 689ZM352 696L356 693L353 690L346 690L339 692L335 695L337 698L344 698ZM377 705L381 702L379 699L372 699L364 700L360 704L363 706L370 707ZM403 714L407 711L405 708L397 707L390 709L386 713L389 715L396 716ZM430 723L433 719L431 717L423 716L416 718L412 721L415 724L422 725ZM456 732L460 729L457 726L450 725L442 727L439 730L441 733L448 734ZM483 741L486 738L484 735L477 734L469 736L465 740L468 742L475 743ZM510 750L514 747L511 744L504 743L496 745L492 749L495 752L502 752ZM538 760L541 756L538 753L531 753L523 755L520 758L522 761L530 762ZM565 769L569 766L566 763L559 762L551 764L547 768L550 771L558 771ZM594 779L597 775L594 772L587 772L579 774L575 777L578 780L586 781ZM622 789L625 785L622 782L615 781L607 784L604 787L607 790L614 791ZM651 799L654 795L651 792L644 791L636 793L633 797L636 800L643 801ZM680 809L684 805L680 802L673 801L665 803L662 807L665 810L673 811ZM710 819L713 815L710 812L702 811L695 813L691 817L695 820L702 821ZM740 829L743 825L740 822L732 821L724 824L721 827L725 831L732 831ZM770 839L774 836L770 832L762 832L755 834L752 838L755 841L763 842ZM278 661L282 658L279 655L273 655L265 657L261 660L263 662L270 663ZM302 669L306 666L304 664L297 663L289 665L286 668L288 671L295 671ZM327 678L331 675L329 672L322 671L314 673L310 676L313 679L319 679ZM352 686L356 683L354 680L347 680L339 682L335 685L338 688L345 688ZM378 695L381 692L379 689L372 688L364 690L361 693L363 696L370 697ZM403 704L407 700L404 698L397 697L390 699L386 702L389 705L396 705ZM429 712L433 709L430 706L423 706L416 708L412 711L414 714L422 714ZM456 721L459 718L457 715L449 715L442 717L438 720L441 723L448 723ZM482 730L486 727L483 724L476 724L468 726L465 729L467 732L475 732ZM509 739L513 736L510 733L503 733L495 735L492 738L494 741L501 741ZM536 749L540 745L537 742L530 742L522 744L519 747L521 750L529 751ZM564 758L567 755L565 752L557 751L550 753L546 757L549 760L556 760ZM592 768L595 764L592 761L585 761L577 763L574 766L577 769L584 770ZM620 777L624 774L621 771L613 770L606 772L602 776L605 779L613 779ZM649 787L652 783L649 780L642 780L634 782L631 786L634 789L641 789ZM678 797L681 793L678 790L671 790L663 792L660 795L663 798L670 799ZM707 807L711 803L707 800L700 799L692 802L689 805L692 808L700 809ZM737 817L740 813L737 810L729 810L722 812L719 815L722 819L730 819ZM767 827L770 823L767 820L759 820L752 822L749 826L752 829L760 829ZM254 643L258 640L256 638L250 637L242 639L238 642L240 644L247 645ZM279 651L282 648L280 646L273 645L266 647L262 650L264 653L271 653ZM795 825L798 822L794 819L787 818L779 820L776 824L779 827L787 828ZM232 626L236 623L234 621L227 620L220 622L216 625L218 627L224 628ZM255 634L259 631L257 629L250 628L243 630L239 633L241 635L248 636ZM233 617L237 614L235 612L228 611L221 613L217 616L219 618L225 619ZM819 812L822 808L818 805L810 804L803 807L800 810L803 813L811 814ZM234 608L238 605L236 603L229 602L222 604L218 607L220 609L227 610ZM235 599L239 596L237 594L230 594L223 595L219 598L221 600L228 601ZM842 798L845 795L841 792L834 791L826 793L824 797L827 800L835 801ZM865 785L868 782L864 779L857 778L850 780L847 784L850 787L858 787ZM888 772L890 769L887 766L879 765L872 767L870 771L873 774L881 774ZM968 723L970 721L968 720L964 720L961 721L960 722L961 724L965 724ZM983 727L984 726L983 724L979 724L976 725L974 727L976 728L980 728ZM981 722L982 720L980 719L977 719L973 720L972 721L974 723L978 723ZM996 727L997 725L995 724L992 723L988 724L987 726L989 727L992 728ZM994 721L995 720L993 718L989 718L986 719L985 721L987 722L990 722ZM991 716L993 715L991 713L987 713L984 714L983 715L984 717L988 717ZM1006 721L1007 719L1006 718L1002 717L999 718L997 720L999 721L1003 722ZM1004 715L1005 714L1003 712L1000 712L996 713L995 715L997 716L1001 716ZM1002 710L1003 709L1001 707L997 707L994 708L993 710L995 711L998 711ZM1016 715L1018 713L1016 712L1012 711L1009 712L1008 714L1009 715L1013 716ZM1014 710L1015 708L1014 707L1010 706L1007 707L1005 709L1007 710L1011 710ZM1012 704L1013 703L1011 701L1008 701L1004 702L1003 704L1005 705L1009 705ZM1027 709L1028 707L1026 706L1022 706L1019 707L1018 708L1020 709L1023 710ZM1024 704L1025 702L1024 701L1020 700L1017 701L1016 703L1017 704L1021 705ZM1022 699L1023 697L1021 696L1018 695L1014 696L1013 698L1015 699L1019 700ZM1037 703L1038 701L1036 700L1032 700L1029 701L1028 702L1030 704L1033 704ZM1034 698L1035 696L1034 695L1030 695L1027 696L1026 697L1027 699L1031 699ZM1032 693L1033 691L1031 690L1028 690L1025 691L1023 692L1025 693L1029 694ZM1047 697L1048 696L1046 694L1042 694L1039 695L1038 696L1040 698L1043 698ZM1044 692L1045 691L1044 689L1040 689L1037 690L1036 691L1037 693L1041 693ZM1042 687L1043 686L1041 684L1038 684L1034 685L1033 686L1035 688L1039 688ZM1057 691L1058 690L1056 689L1052 688L1049 689L1048 691L1050 692L1053 692ZM1054 686L1055 685L1054 684L1050 683L1047 684L1046 686L1047 687L1051 687ZM1052 681L1053 680L1051 679L1048 678L1044 679L1043 681L1045 682L1049 682ZM1066 686L1068 684L1066 683L1062 683L1059 684L1058 685L1060 686L1063 687ZM1064 681L1065 679L1063 678L1060 678L1056 679L1055 680L1057 681L1061 682ZM1062 676L1063 674L1061 673L1057 673L1054 674L1053 675L1055 676L1058 677ZM1076 680L1077 679L1075 677L1072 677L1069 678L1068 679L1069 681L1073 681ZM1074 675L1075 674L1073 672L1069 672L1066 673L1065 675L1067 676L1071 676ZM1071 670L1072 669L1071 667L1067 667L1064 668L1063 670L1065 671L1068 671ZM1086 674L1087 673L1085 672L1082 671L1078 672L1077 674L1079 675L1083 675ZM1083 670L1084 668L1083 667L1079 667L1076 667L1075 669L1077 670L1080 670ZM1081 665L1082 663L1080 662L1077 662L1073 663L1072 664L1074 665L1078 666ZM1095 669L1096 667L1095 666L1091 666L1088 667L1087 668L1089 670L1092 670ZM1093 664L1094 663L1092 661L1089 661L1085 662L1084 663L1086 665L1090 665ZM1091 659L1091 658L1090 657L1086 656L1083 657L1082 659L1084 660L1087 660ZM1105 663L1106 662L1104 661L1101 660L1097 661L1096 663L1098 664L1102 664ZM1102 659L1103 657L1102 656L1098 656L1095 656L1094 658L1096 659L1099 659ZM1100 654L1101 652L1099 651L1096 651L1093 652L1092 653L1093 654L1097 655ZM1114 658L1115 656L1114 655L1110 655L1107 656L1106 657L1108 659L1111 659ZM1112 653L1113 652L1111 650L1108 650L1104 651L1103 653L1105 654L1109 654ZM1109 648L1110 647L1109 646L1105 646L1102 646L1101 648L1103 649L1106 649ZM1124 653L1125 651L1123 650L1119 650L1116 650L1115 652L1117 653L1121 653ZM1121 648L1122 646L1120 645L1117 645L1114 646L1113 647L1115 648L1118 649ZM1136 652L1137 650L1135 649L1131 649L1128 650L1127 651L1129 652L1132 653ZM1119 643L1120 642L1118 640L1114 640L1111 641L1110 643L1112 644L1116 644ZM1133 647L1134 646L1132 644L1129 644L1126 645L1125 647L1126 648L1130 648ZM1130 642L1131 641L1130 640L1126 640L1123 640L1122 642L1124 643L1127 643ZM1145 646L1146 645L1144 644L1140 644L1137 644L1136 646L1138 647L1142 647ZM1128 638L1129 636L1127 635L1124 635L1120 636L1120 637L1121 638L1125 639ZM1142 642L1143 640L1141 639L1138 639L1135 640L1134 641L1136 642L1139 643ZM1140 637L1141 636L1139 635L1135 634L1132 635L1131 637L1133 638L1137 638ZM1154 641L1155 640L1153 638L1150 638L1147 639L1146 641L1147 642L1151 642ZM1211 587L1212 584L1209 582L1202 582L1196 583L1195 586L1198 588L1205 589ZM1233 586L1235 583L1231 581L1225 581L1219 582L1217 585L1221 587L1227 588ZM1250 576L1251 574L1248 571L1241 571L1235 573L1234 575L1238 577L1244 578ZM1266 567L1268 564L1264 562L1258 562L1252 563L1251 566L1254 568L1261 568ZM1283 557L1284 555L1280 553L1274 552L1268 554L1267 556L1270 558L1277 559ZM1304 556L1306 554L1302 552L1296 551L1290 553L1289 555L1292 557L1299 558ZM1299 548L1300 546L1296 544L1290 543L1284 545L1283 547L1286 549L1293 550ZM1320 547L1322 545L1318 542L1311 542L1306 543L1305 546L1308 548L1315 549ZM1314 539L1316 537L1312 535L1306 534L1300 536L1299 538L1302 540L1309 541ZM1336 538L1337 536L1333 533L1327 533L1322 534L1320 537L1324 539L1330 539ZM1330 530L1331 528L1327 526L1321 525L1316 527L1314 529L1318 531L1324 532ZM1351 529L1352 527L1349 525L1342 524L1337 526L1336 528L1339 530L1346 531ZM1345 521L1346 519L1343 517L1336 516L1331 518L1330 520L1333 522L1340 523ZM1366 520L1367 518L1364 516L1357 515L1352 517L1351 519L1354 521L1361 522ZM1360 513L1361 510L1358 508L1351 508L1346 509L1345 512L1348 514L1355 514ZM1381 512L1382 509L1379 507L1372 507L1367 508L1366 511L1369 513L1376 513Z"/>
<path fill="#f1eee4" fill-opacity="0.10" d="M303 660L307 657L304 654L298 654L290 655L286 658L289 661L295 661ZM327 668L331 665L329 662L322 662L315 664L311 667L313 669L320 670ZM352 676L356 673L354 671L347 670L339 672L336 675L338 678L345 678ZM378 685L381 682L379 679L372 678L364 680L361 683L363 686L370 687ZM403 693L407 690L404 688L397 687L390 689L386 692L389 695L396 695ZM429 702L432 699L430 696L423 696L415 698L412 701L414 703L421 704ZM455 711L459 708L456 705L449 704L441 706L438 710L440 712L447 713ZM481 720L485 716L482 714L475 713L468 715L464 718L467 721L474 722ZM508 729L512 725L509 723L502 722L494 724L491 727L493 730L501 731ZM535 738L539 735L536 732L529 731L521 733L518 737L520 739L528 740ZM563 747L566 744L563 741L556 740L548 742L545 746L548 749L555 749ZM590 757L594 753L591 750L584 750L576 752L573 755L575 758L583 759ZM619 766L622 763L619 760L611 759L604 761L601 765L604 768L611 768ZM647 776L650 772L647 769L640 769L632 771L629 774L632 777L639 778ZM676 785L679 782L676 779L668 778L661 780L658 784L661 787L668 787ZM705 795L708 792L705 789L697 788L690 790L687 794L690 797L697 797ZM735 805L738 801L734 798L727 798L719 800L716 804L719 807L727 807ZM764 815L768 811L764 808L756 808L749 810L746 814L749 817L757 817ZM279 642L283 639L281 637L274 636L267 638L263 641L265 643L272 644ZM303 650L307 647L305 645L298 644L291 646L287 649L289 651L296 652ZM328 658L332 655L329 653L323 652L315 654L311 657L314 659L320 660ZM353 666L356 663L354 661L347 660L340 662L336 665L338 668L345 668ZM378 675L381 672L379 669L372 669L365 670L361 674L363 676L370 677ZM403 683L407 680L404 678L397 677L390 679L386 682L389 685L395 685ZM429 692L432 689L430 686L423 686L415 687L412 691L414 693L421 694ZM455 701L458 697L456 695L448 694L441 696L437 699L440 702L447 702ZM481 709L484 706L482 703L475 703L467 705L464 708L466 711L473 711ZM507 718L511 715L508 712L501 712L493 714L490 717L493 720L500 720ZM534 727L538 724L535 721L528 721L520 723L517 726L519 729L527 729ZM561 736L565 733L562 730L555 730L547 732L544 735L547 738L554 738ZM589 746L592 742L589 739L582 739L575 741L571 744L574 747L581 748ZM617 755L620 751L617 749L610 748L602 750L599 754L602 756L609 757ZM645 764L648 761L645 758L638 757L630 759L627 763L630 766L638 766ZM674 774L677 770L674 768L666 767L659 769L656 773L659 775L666 776ZM703 784L706 780L703 777L695 777L687 779L684 782L687 785L695 786ZM732 794L735 790L732 787L724 786L717 788L714 792L717 795L724 796ZM762 803L765 800L761 797L754 796L746 798L743 802L746 805L754 806ZM792 814L795 810L791 807L783 806L776 808L773 812L776 815L784 816ZM256 625L260 622L258 619L251 619L244 621L240 623L242 626L249 626ZM280 633L284 630L282 627L275 627L268 628L264 631L266 634L273 634ZM789 802L791 798L788 795L780 794L773 797L770 800L773 803L781 804ZM257 616L261 613L259 610L252 610L245 612L241 614L243 617L250 617ZM815 800L818 796L815 793L807 793L800 795L797 799L800 802L808 802ZM258 607L262 604L260 602L253 601L246 603L242 605L244 608L251 608ZM812 788L815 785L812 782L804 781L797 783L794 787L797 790L805 791ZM839 787L841 783L838 780L830 780L823 782L820 785L824 788L831 789ZM835 775L838 772L835 769L827 768L820 770L817 774L820 777L828 778ZM862 774L864 770L861 767L853 767L846 769L843 772L847 775L854 776ZM858 763L861 759L857 756L850 756L843 758L840 761L843 764L851 765ZM954 718L955 717L953 715L950 715L946 716L945 718L947 719L950 719ZM952 713L953 712L951 710L948 710L944 711L943 713L945 714L948 714ZM966 718L968 716L966 715L962 714L959 715L958 717L959 718L963 719ZM964 712L965 711L964 710L960 709L957 710L956 712L957 713L961 713ZM979 717L980 715L978 714L975 714L971 715L970 716L972 718L976 718ZM962 707L963 706L962 704L958 704L955 705L953 707L955 708L959 708ZM977 712L978 710L976 709L973 708L969 709L968 711L970 712L973 713ZM975 707L976 705L974 704L970 703L967 704L966 706L968 707L971 708ZM989 711L990 709L989 708L985 708L982 709L981 710L982 712L986 712ZM973 702L974 700L972 699L968 698L965 699L964 701L966 702L969 702ZM987 706L988 704L986 703L983 703L980 704L978 705L980 707L984 707ZM985 701L986 699L984 698L981 698L977 699L976 700L978 701L982 702ZM1000 705L1001 704L999 702L995 702L992 703L991 704L993 706L996 706ZM983 696L984 694L982 693L979 693L975 693L974 695L976 696L979 697ZM997 700L998 698L997 697L993 697L990 698L989 699L990 701L994 701ZM995 695L996 693L995 692L991 692L988 693L986 694L988 696L992 696ZM1010 699L1011 698L1009 696L1005 696L1002 697L1001 699L1003 700L1006 700ZM993 690L994 688L992 687L989 687L985 688L984 689L986 691L990 691ZM1007 694L1009 693L1007 691L1003 691L1000 692L999 694L1001 695L1004 695ZM1005 689L1006 688L1005 686L1001 686L998 687L997 689L998 690L1002 690ZM1020 694L1021 692L1019 691L1016 690L1012 691L1011 693L1013 694L1016 694ZM1003 684L1004 683L1002 681L999 681L996 682L994 684L996 685L1000 685ZM1018 689L1019 687L1017 686L1013 685L1010 686L1009 688L1011 689L1014 689ZM1015 684L1016 682L1015 681L1011 680L1008 681L1007 683L1008 684L1012 685ZM1030 688L1031 686L1029 685L1026 685L1022 686L1021 687L1023 688L1026 689ZM1013 679L1014 677L1012 676L1009 676L1006 676L1004 678L1006 679L1010 680ZM1027 683L1029 681L1027 680L1023 680L1020 681L1019 682L1021 684L1024 684ZM1025 678L1026 676L1025 675L1021 675L1018 676L1017 677L1018 679L1022 679ZM1040 682L1041 681L1039 679L1035 679L1032 680L1031 682L1033 683L1036 683ZM1023 673L1024 672L1022 670L1019 670L1016 671L1014 672L1016 674L1020 674ZM1037 677L1038 676L1037 674L1033 674L1030 675L1029 677L1031 678L1034 678ZM1035 672L1036 671L1034 670L1031 669L1028 670L1027 672L1028 673L1032 673ZM1050 677L1051 675L1049 674L1045 673L1042 674L1041 676L1043 677L1046 677ZM1033 668L1034 666L1032 665L1029 664L1025 665L1024 667L1026 668L1030 668ZM1047 672L1048 670L1046 669L1043 669L1040 670L1039 671L1040 672L1044 673ZM1045 667L1046 665L1044 664L1041 664L1037 665L1036 666L1038 667L1042 668ZM1059 671L1060 669L1059 668L1055 668L1052 669L1051 670L1053 672L1056 672ZM1043 662L1044 660L1042 659L1038 659L1035 660L1034 661L1036 663L1039 663ZM1057 666L1058 665L1056 663L1053 663L1049 664L1048 666L1050 667L1054 667ZM1055 661L1056 660L1054 659L1050 658L1047 659L1046 661L1048 662L1051 662ZM1069 665L1070 664L1068 663L1065 662L1061 663L1060 665L1062 666L1066 666ZM1052 657L1053 655L1052 654L1048 654L1045 654L1044 656L1046 657L1049 657ZM1067 661L1068 659L1066 658L1062 658L1059 659L1058 660L1060 661L1063 662ZM1064 656L1065 654L1063 653L1060 653L1057 654L1056 655L1058 657L1061 657ZM1079 660L1080 658L1078 657L1074 657L1071 658L1070 659L1072 661L1075 661ZM1062 651L1063 650L1061 648L1058 648L1054 649L1053 651L1055 652L1059 652ZM1076 655L1077 654L1075 652L1072 652L1069 653L1068 655L1069 656L1073 656ZM1074 650L1075 649L1073 648L1070 648L1066 648L1065 650L1067 651L1071 651ZM1088 655L1089 653L1087 652L1084 652L1081 652L1080 654L1081 655L1085 655ZM1071 646L1072 644L1071 643L1067 643L1064 644L1063 645L1065 646L1068 647ZM1086 650L1087 648L1085 647L1081 647L1078 648L1077 649L1079 650L1082 651ZM1083 645L1084 644L1082 642L1079 642L1076 643L1075 645L1077 646L1080 646ZM1098 649L1098 648L1097 646L1093 646L1090 647L1089 649L1091 650L1094 650ZM1081 640L1082 639L1080 638L1077 638L1073 638L1072 640L1074 641L1078 641ZM1095 644L1096 643L1094 642L1091 642L1088 642L1087 644L1088 645L1092 645ZM1093 640L1094 638L1092 637L1088 637L1085 638L1084 639L1086 640L1089 641ZM1107 644L1108 642L1106 641L1103 641L1099 642L1098 643L1100 644L1104 645ZM1090 635L1091 634L1089 633L1086 632L1083 633L1082 635L1084 636L1087 636ZM1104 639L1105 638L1104 636L1100 636L1097 637L1096 639L1098 640L1101 640ZM1102 635L1103 633L1101 632L1098 632L1095 632L1094 634L1095 635L1099 635ZM1116 638L1117 637L1115 636L1112 636L1109 636L1108 638L1110 639L1113 639ZM1114 634L1115 632L1113 631L1109 631L1106 632L1105 633L1107 634L1111 635ZM1111 629L1112 628L1110 627L1107 626L1104 627L1103 629L1105 630L1108 630ZM1125 633L1126 632L1124 631L1121 630L1118 631L1117 633L1119 634L1122 634ZM1205 579L1207 576L1203 574L1197 573L1191 575L1189 578L1193 580L1200 580ZM1228 577L1229 575L1226 573L1219 572L1213 574L1212 576L1215 579L1222 579ZM1222 569L1224 567L1220 564L1214 564L1208 565L1206 568L1210 570L1216 571ZM1244 568L1246 565L1242 563L1236 563L1230 564L1228 567L1232 569L1239 569ZM1239 560L1240 557L1237 555L1230 555L1225 556L1223 559L1227 561L1233 561ZM1261 559L1262 556L1259 554L1252 553L1246 555L1245 557L1249 560L1255 560ZM1255 550L1257 548L1253 546L1247 545L1241 547L1239 549L1243 551L1249 552ZM1277 549L1278 547L1275 545L1268 544L1263 546L1261 548L1265 550L1271 551ZM1271 541L1273 539L1269 537L1263 536L1257 538L1256 540L1259 542L1266 543ZM1293 540L1294 538L1291 536L1284 535L1279 537L1277 539L1281 541L1287 542ZM1287 532L1288 530L1285 528L1278 527L1273 529L1272 531L1275 533L1282 534ZM1308 531L1310 529L1306 527L1300 526L1294 528L1293 530L1297 532L1303 533ZM1303 523L1304 521L1300 519L1294 519L1289 520L1287 522L1291 524L1297 525ZM1324 522L1325 520L1322 518L1315 518L1310 519L1309 521L1312 523L1318 524ZM1318 515L1319 512L1316 510L1309 510L1304 511L1303 514L1306 516L1313 516ZM1339 514L1340 511L1337 509L1330 509L1325 510L1324 513L1327 515L1334 515ZM1333 506L1334 504L1331 502L1325 501L1319 503L1318 505L1322 507L1328 508ZM1354 505L1355 503L1352 501L1345 500L1340 502L1339 504L1342 506L1349 506Z"/>
<path fill="#f1eee4" fill-opacity="0.05" d="M304 641L308 638L306 635L299 635L292 636L288 639L290 642L297 642ZM328 649L332 646L330 643L323 643L316 644L312 647L314 650L321 650ZM353 657L357 654L354 651L347 651L340 653L336 656L339 658L345 659ZM378 665L381 662L379 660L372 659L365 661L361 664L363 666L370 667ZM403 673L406 670L404 668L397 667L390 669L386 672L389 675L395 675ZM428 682L432 679L429 676L422 676L415 678L411 681L414 683L421 684ZM454 690L458 687L455 685L448 684L441 686L437 689L440 692L447 692ZM480 699L484 696L481 693L474 693L467 695L463 698L466 700L473 701ZM506 708L510 705L507 702L500 701L493 703L489 707L492 709L499 710ZM533 717L536 713L534 711L527 710L519 712L516 715L518 718L526 719ZM560 726L563 722L561 720L553 719L546 721L543 724L545 727L553 728ZM587 735L591 731L588 729L581 728L573 730L570 733L573 736L580 737ZM615 744L618 741L615 738L608 737L601 739L597 743L600 745L608 746ZM643 753L646 750L643 747L636 746L629 749L625 752L628 755L636 755ZM671 763L675 759L672 756L664 756L657 758L654 761L657 764L664 765ZM700 772L703 769L700 766L693 765L685 767L682 771L685 774L693 774ZM729 782L732 778L729 775L722 775L714 777L711 781L714 784L722 784ZM759 792L762 788L758 785L751 785L743 787L740 790L744 793L751 794ZM281 623L284 621L282 618L276 618L268 619L265 622L267 625L273 625ZM305 631L308 628L306 626L299 625L292 627L288 630L291 632L297 633ZM329 639L332 636L330 634L323 633L316 635L312 638L315 640L321 641ZM353 647L357 644L354 642L348 641L340 643L337 646L339 649L346 649ZM378 655L381 652L379 650L372 649L365 651L361 654L364 657L370 657ZM403 664L406 661L404 658L397 658L390 659L386 662L388 665L395 666ZM428 672L432 669L429 666L422 666L415 668L411 671L414 673L421 674ZM454 680L457 677L455 675L448 674L440 676L437 679L439 682L446 682ZM479 689L483 686L480 683L473 683L466 685L462 688L465 690L472 691ZM506 698L509 694L506 692L499 691L492 693L489 696L491 699L498 700ZM532 706L535 703L533 701L526 700L518 702L515 705L518 708L525 708ZM559 715L562 712L559 709L552 709L545 711L542 714L544 717L551 717ZM586 724L589 721L586 718L579 718L572 720L569 723L571 726L579 726ZM613 733L617 730L614 727L607 727L599 729L596 732L599 735L606 735ZM641 743L644 739L641 736L634 736L627 738L624 741L626 744L634 745ZM669 752L672 748L669 746L662 745L655 747L652 750L655 753L662 754ZM698 761L701 758L698 755L690 754L683 756L680 760L683 763L690 763ZM727 771L730 767L727 764L719 764L712 766L709 769L712 772L719 773ZM756 780L759 777L756 774L748 773L741 775L738 779L741 782L748 782ZM785 790L788 787L785 784L777 783L770 785L767 789L770 792L778 792ZM281 614L285 611L283 609L277 609L269 610L266 613L268 616L274 616ZM305 622L309 619L307 617L300 616L293 618L289 621L291 623L298 624ZM329 630L333 627L331 625L324 624L317 626L313 629L315 631L322 632ZM353 638L357 635L355 633L348 632L341 634L337 637L339 639L346 640ZM378 646L381 643L379 641L372 640L365 642L361 645L364 647L371 648ZM403 654L406 651L404 649L397 648L390 650L386 653L388 655L395 656ZM428 662L431 659L429 657L422 656L415 658L411 661L414 664L420 664ZM453 671L457 668L454 665L447 665L440 666L436 669L439 672L446 672ZM479 679L482 676L480 673L473 673L465 675L462 678L464 680L471 681ZM505 688L508 684L506 682L499 681L491 683L488 686L490 689L497 689ZM531 696L534 693L532 690L525 690L517 692L514 695L517 698L524 698ZM558 705L561 702L558 699L551 699L544 700L540 704L543 706L550 707ZM585 714L588 711L585 708L578 707L570 709L567 712L570 715L577 716ZM612 723L615 719L612 717L605 716L598 718L594 721L597 724L604 725ZM639 732L642 728L640 726L632 725L625 727L622 730L625 733L632 734ZM667 741L670 738L667 735L660 734L653 736L650 740L653 742L660 743ZM695 750L699 747L695 744L688 743L681 745L678 749L681 752L688 752ZM724 760L727 756L724 753L717 753L709 755L706 758L709 761L717 762ZM753 769L756 766L753 763L745 762L738 764L735 768L738 771L746 771ZM782 779L785 775L782 772L774 772L767 774L764 777L767 780L775 781ZM809 777L812 774L808 771L801 770L793 772L791 776L794 779L801 779ZM806 766L808 762L805 759L798 759L790 761L788 764L791 767L798 768ZM832 764L835 761L831 758L824 757L817 759L814 763L817 766L825 766ZM829 753L831 750L828 747L821 746L813 748L811 752L814 755L821 755ZM910 705L911 704L910 702L906 702L903 703L902 704L903 706L907 706ZM925 710L926 708L924 707L921 706L917 707L916 709L918 710L921 710ZM939 714L940 712L939 711L935 711L932 712L930 713L932 715L936 715ZM923 704L924 703L922 701L919 701L915 702L914 704L916 705L919 705ZM937 709L938 707L937 706L933 706L930 707L928 708L930 709L934 710ZM921 699L922 698L920 696L917 696L913 697L912 699L914 700L917 700ZM935 704L936 702L935 701L931 700L928 701L927 703L928 704L932 705ZM950 708L951 706L949 705L946 705L942 706L941 707L943 709L946 709ZM933 699L934 697L933 696L929 695L926 696L925 698L926 699L930 700ZM948 703L949 701L947 700L944 700L940 701L939 702L941 704L944 704ZM931 694L932 692L931 691L927 690L924 691L923 693L924 694L928 694ZM946 698L947 696L945 695L942 695L938 696L937 697L939 699L942 699ZM960 702L961 701L960 699L956 699L953 700L951 702L953 703L957 703ZM944 693L945 691L943 690L940 690L936 691L935 692L937 694L940 694ZM958 697L959 696L957 694L954 694L951 695L949 697L951 698L955 698ZM942 688L943 686L941 685L938 685L934 686L933 687L935 689L938 689ZM956 692L957 691L955 689L952 689L949 690L947 691L949 693L953 693ZM970 696L972 695L970 694L966 693L963 694L962 696L963 697L967 697ZM954 687L955 686L953 684L950 684L947 685L945 686L947 688L951 688ZM968 691L969 690L968 689L964 688L961 689L960 691L961 692L965 692ZM952 682L953 681L951 679L948 679L945 680L943 682L945 683L949 683ZM966 686L967 685L966 684L962 683L959 684L958 686L959 687L963 687ZM981 691L982 689L980 688L976 688L973 688L972 690L974 691L977 692ZM964 681L965 680L964 679L960 678L957 679L956 681L957 682L961 682ZM979 686L980 684L978 683L974 683L971 684L970 685L972 686L975 687ZM962 677L963 675L962 674L958 673L955 674L954 676L955 677L959 677ZM976 681L978 679L976 678L972 678L969 679L968 680L970 681L973 682ZM991 685L992 683L990 682L987 682L983 683L982 684L984 686L987 686ZM974 676L975 674L974 673L970 673L967 674L966 675L968 676L971 677ZM989 680L990 679L988 677L985 677L981 678L980 679L982 681L985 681ZM972 671L973 669L972 668L968 668L965 669L964 670L965 672L969 672ZM987 675L988 674L986 672L982 672L979 673L978 675L980 676L983 676ZM1001 679L1002 678L1000 677L997 676L993 677L992 679L994 680L998 680ZM984 670L986 669L984 667L980 667L977 668L976 670L978 671L981 671ZM999 674L1000 673L998 672L995 671L991 672L990 674L992 675L995 675ZM982 665L983 664L982 663L978 662L975 663L974 665L976 666L979 666ZM997 670L998 668L996 667L992 667L989 667L988 669L990 670L993 670ZM1011 674L1012 672L1010 671L1007 671L1003 672L1002 673L1004 674L1008 675ZM994 665L995 663L994 662L990 662L987 663L986 664L988 665L991 666ZM1009 669L1010 667L1008 666L1004 666L1001 667L1000 668L1002 670L1005 670ZM992 660L993 658L992 657L988 657L985 658L984 659L986 661L989 661ZM1006 664L1008 663L1006 661L1002 661L999 662L998 663L1000 665L1003 665ZM1021 668L1022 667L1020 665L1017 665L1013 666L1012 668L1014 669L1017 669ZM1004 659L1005 658L1004 657L1000 656L997 657L996 659L998 660L1001 660ZM1019 663L1020 662L1018 661L1014 660L1011 661L1010 663L1012 664L1015 664ZM1002 655L1003 653L1002 652L998 652L995 652L994 654L995 655L999 655ZM1016 659L1017 657L1016 656L1012 656L1009 656L1008 658L1010 659L1013 659ZM1031 663L1032 661L1030 660L1026 660L1023 661L1022 662L1024 663L1027 664ZM1014 654L1015 652L1013 651L1010 651L1007 652L1006 653L1007 654L1011 655ZM1028 658L1029 656L1028 655L1024 655L1021 656L1020 657L1022 659L1025 659ZM1012 649L1013 648L1011 646L1008 646L1005 647L1004 648L1005 650L1009 650ZM1026 653L1027 652L1025 650L1022 650L1019 651L1018 653L1019 654L1023 654ZM1040 657L1041 656L1040 654L1036 654L1033 655L1032 657L1034 658L1037 658ZM1024 648L1025 647L1023 646L1020 645L1017 646L1015 648L1017 649L1021 649ZM1038 652L1039 651L1037 650L1034 650L1031 650L1030 652L1031 653L1035 653ZM1022 644L1023 642L1021 641L1018 641L1014 642L1013 643L1015 644L1018 645ZM1036 648L1037 646L1035 645L1032 645L1028 646L1027 647L1029 648L1033 649ZM1050 652L1051 650L1049 649L1046 649L1043 650L1042 651L1043 652L1047 653ZM1034 643L1035 642L1033 640L1029 640L1026 641L1025 642L1027 644L1030 644ZM1048 647L1049 646L1047 644L1043 644L1040 645L1039 646L1041 648L1044 648ZM1031 638L1032 637L1031 636L1027 636L1024 636L1023 638L1025 639L1028 639ZM1045 642L1046 641L1045 640L1041 639L1038 640L1037 642L1039 643L1042 643ZM1060 646L1061 645L1059 644L1055 643L1052 644L1051 646L1053 647L1056 647ZM1043 638L1044 636L1042 635L1039 635L1036 636L1035 637L1036 638L1040 639ZM1057 642L1058 640L1056 639L1053 639L1050 640L1049 641L1051 642L1054 643ZM1041 633L1042 632L1040 631L1037 630L1034 631L1033 633L1034 634L1038 634ZM1055 637L1056 636L1054 634L1051 634L1048 635L1047 637L1048 638L1052 638ZM1069 641L1070 640L1068 638L1065 638L1062 639L1061 641L1062 642L1066 642ZM1053 633L1054 631L1052 630L1048 630L1045 630L1044 632L1046 633L1049 633ZM1067 636L1068 635L1066 634L1062 634L1059 634L1058 636L1060 637L1064 637ZM1050 628L1051 627L1050 625L1046 625L1043 626L1042 627L1044 629L1047 629ZM1064 632L1065 630L1064 629L1060 629L1057 630L1056 631L1058 632L1061 633ZM1078 636L1079 634L1078 633L1074 633L1071 634L1070 635L1072 636L1075 637ZM1062 627L1063 626L1061 625L1058 624L1055 625L1054 627L1055 628L1059 628ZM1076 631L1077 630L1075 629L1072 628L1069 629L1068 631L1070 632L1073 632ZM1060 623L1061 621L1059 620L1056 620L1053 621L1052 622L1053 623L1057 624ZM1074 627L1075 625L1073 624L1070 624L1066 625L1065 626L1067 627L1071 628ZM1088 631L1089 629L1087 628L1084 628L1080 629L1079 630L1081 631L1085 631ZM1071 622L1072 621L1071 620L1067 619L1064 620L1063 622L1065 623L1068 623ZM1085 626L1086 625L1085 623L1081 623L1078 624L1077 625L1079 627L1082 627ZM1099 630L1100 628L1099 627L1095 627L1092 628L1091 629L1093 631L1096 631ZM1069 618L1070 616L1068 615L1065 615L1062 616L1061 617L1063 618L1066 618ZM1083 621L1084 620L1082 619L1079 619L1076 619L1075 621L1077 622L1080 622ZM1097 625L1098 624L1096 623L1093 623L1090 623L1089 625L1091 626L1094 626ZM1156 573L1157 570L1154 568L1147 567L1141 569L1140 572L1143 574L1150 574ZM1183 580L1185 577L1181 575L1175 575L1169 576L1167 579L1171 581L1177 581ZM1178 571L1179 569L1176 567L1169 566L1164 568L1162 570L1165 573L1172 573ZM1173 563L1174 561L1171 558L1164 558L1159 559L1157 562L1160 564L1167 565ZM1200 570L1202 568L1198 565L1192 565L1186 567L1184 569L1188 571L1194 572ZM1195 562L1196 559L1193 557L1186 557L1181 558L1179 561L1182 563L1189 564ZM1190 554L1191 551L1188 549L1181 549L1176 550L1174 553L1177 555L1184 555ZM1217 561L1218 558L1215 556L1208 556L1203 557L1201 560L1205 562L1211 562ZM1211 553L1213 550L1210 548L1203 548L1197 549L1196 552L1199 554L1206 554ZM1206 545L1208 542L1204 540L1198 540L1192 541L1191 544L1194 546L1201 546ZM1233 552L1235 549L1231 547L1225 546L1219 548L1218 551L1221 553L1228 553ZM1228 544L1229 541L1226 539L1220 539L1214 540L1212 542L1216 545L1222 545ZM1223 536L1224 533L1221 531L1214 531L1209 532L1207 535L1211 537L1217 537ZM1250 542L1251 540L1248 538L1241 537L1236 539L1234 541L1238 543L1244 544ZM1244 535L1246 532L1242 530L1236 530L1230 531L1229 533L1232 536L1239 536ZM1239 527L1240 524L1237 522L1230 522L1225 523L1223 526L1227 528L1233 528ZM1266 533L1267 531L1264 529L1257 528L1252 530L1250 532L1254 534L1260 535ZM1260 526L1262 523L1258 521L1252 521L1246 522L1245 525L1248 527L1255 527ZM1255 518L1256 515L1253 514L1246 513L1241 514L1239 517L1243 519L1249 519ZM1281 525L1283 522L1279 520L1273 520L1267 521L1266 524L1270 526L1276 526ZM1276 517L1277 514L1274 512L1267 512L1262 513L1261 516L1264 518L1270 518ZM1270 509L1272 507L1268 505L1262 504L1257 506L1255 508L1259 510L1265 511ZM1297 516L1298 513L1295 511L1288 511L1283 512L1282 515L1285 517L1292 517ZM1291 508L1293 506L1289 504L1283 503L1278 505L1276 507L1280 509L1286 510ZM1286 501L1287 498L1284 496L1277 496L1272 497L1271 500L1274 502L1280 502ZM1312 507L1314 505L1310 503L1304 502L1298 504L1297 506L1301 508L1307 509ZM1307 500L1308 497L1304 495L1298 495L1293 496L1292 499L1295 501L1301 501ZM1301 492L1302 490L1299 488L1293 488L1287 489L1286 491L1289 493L1296 494ZM1327 499L1329 496L1325 494L1319 494L1314 495L1312 498L1316 500L1322 500Z"/>
<path fill="#6f6a60" fill-opacity="0.55" d="M269.6 576.3L1042.5 823.6L1047.0 820.8L274.6 574.3ZM279.6 572.3L1051.5 818.0L1056.0 815.2L284.6 570.3ZM289.6 568.3L1060.4 812.3L1064.8 809.5L294.6 566.3ZM299.6 564.3L1069.2 806.8L1073.6 804.0L304.5 562.4ZM309.4 560.4L1078.0 801.2L1082.4 798.5L314.3 558.5ZM319.2 556.5L1086.7 795.7L1091.0 793.0L324.1 554.6ZM329.0 552.7L1095.3 790.3L1099.6 787.5L333.8 550.7ZM338.6 548.8L1103.9 784.8L1108.2 782.1L343.5 546.9ZM348.3 545.0L1112.4 779.5L1116.7 776.8L353.0 543.1ZM357.8 541.2L1120.9 774.1L1125.1 771.5L362.6 539.3ZM542.0 468.0L1281.9 672.3L1285.5 670.0L546.2 466.3ZM550.4 464.7L1289.1 667.8L1292.7 665.5L554.6 463.0ZM558.8 461.3L1296.3 663.2L1299.9 660.9L562.9 459.7ZM567.1 458.1L1303.4 658.7L1307.0 656.4L571.2 456.4ZM575.3 454.8L1310.5 654.2L1314.1 652.0L579.4 453.2ZM583.5 451.5L1317.6 649.7L1321.1 647.5L587.6 449.9ZM591.6 448.3L1324.6 645.3L1328.1 643.1L595.7 446.7ZM599.7 445.1L1331.6 640.9L1335.0 638.7L603.8 443.5ZM607.8 441.9L1338.5 636.6L1341.9 634.4L611.8 440.3ZM615.8 438.7L1345.3 632.2L1348.7 630.1L619.8 437.1Z"/>
<path fill="#f4f1e7" fill-opacity="0.55" d="M265.3 577.9L1038.8 826.0L1041.5 824.3L268.4 576.7ZM275.4 573.9L1047.7 820.3L1050.4 818.6L278.4 572.7ZM285.4 570.0L1056.7 814.7L1059.3 813.0L288.4 568.8ZM295.4 566.0L1065.5 809.1L1068.2 807.4L298.4 564.8ZM305.3 562.1L1074.3 803.5L1077.0 801.9L308.2 560.9ZM315.1 558.2L1083.1 798.0L1085.7 796.4L318.0 557.0ZM324.9 554.3L1091.7 792.5L1094.3 790.9L327.8 553.1ZM334.6 550.4L1100.3 787.1L1102.9 785.5L337.5 549.3ZM344.2 546.6L1108.9 781.7L1111.4 780.1L347.1 545.5ZM353.8 542.8L1117.3 776.4L1119.9 774.8L356.7 541.7ZM538.5 469.4L1278.8 674.3L1281.0 672.9L541.0 468.4ZM546.9 466.1L1286.1 669.7L1288.2 668.3L549.4 465.1ZM555.3 462.7L1293.3 665.1L1295.4 663.8L557.8 461.7ZM563.6 459.4L1300.5 660.6L1302.6 659.2L566.1 458.5ZM571.8 456.2L1307.6 656.1L1309.7 654.7L574.3 455.2ZM580.0 452.9L1314.6 651.6L1316.8 650.3L582.5 451.9ZM588.2 449.6L1321.7 647.2L1323.8 645.8L590.7 448.7ZM596.3 446.4L1328.6 642.8L1330.7 641.4L598.8 445.5ZM604.4 443.2L1335.6 638.4L1337.6 637.1L606.8 442.3ZM612.4 440.0L1342.5 634.0L1344.5 632.7L614.8 439.1Z"/>
</g>
<g filter="url(#b1)" stroke="#77726a" stroke-width="2.0" stroke-linecap="round" fill="none">
<path stroke-opacity="0.79" d="M42.0 672.0Q48.3 674.8 44.5 677.7M65.4 680.4Q71.8 683.3 68.0 686.3M89.1 689.0Q95.5 691.9 91.8 694.9M113.0 697.7Q119.5 700.6 115.8 703.6M137.2 706.5Q143.8 709.4 140.2 712.5M161.7 715.3Q168.4 718.3 164.8 721.5M186.5 724.3Q193.3 727.4 189.7 730.5M211.6 733.4Q218.5 736.5 215.0 739.7M237.0 742.7Q244.0 745.8 240.5 749.0M262.8 752.0Q269.9 755.1 266.4 758.4M288.8 761.4Q296.0 764.6 292.6 767.9M315.2 771.0Q322.5 774.2 319.1 777.6M341.9 780.7Q349.3 784.0 345.9 787.4M369.0 790.5Q376.5 793.8 373.1 797.3M396.4 800.4Q404.0 803.8 400.7 807.3M424.1 810.5Q431.8 813.9 428.6 817.4M452.2 820.7Q460.0 824.1 456.9 827.7M480.7 831.0Q488.6 834.5 485.5 838.1M509.5 841.5Q517.6 845.0 514.5 848.7M538.8 852.1Q546.9 855.6 543.9 859.4M568.4 862.8Q576.7 866.4 573.7 870.2M598.4 873.7Q606.8 877.4 603.9 881.2M628.8 884.7Q637.4 888.5 634.5 892.4M659.7 895.9Q668.3 899.7 665.5 903.6M690.9 907.3Q699.7 911.1 697.0 915.1M722.6 918.7Q731.5 922.6 728.8 926.7M754.7 930.4Q763.8 934.3 761.2 938.4M787.3 942.2Q796.5 946.2 793.9 950.4M820.3 954.2Q829.7 958.2 827.2 962.5M67.7 670.6Q74.0 673.4 70.3 676.3M91.2 679.0Q97.6 681.9 93.9 684.8M114.9 687.6Q121.4 690.4 117.8 693.4M139.0 696.2Q145.6 699.1 142.0 702.2M163.3 705.0Q170.0 707.9 166.4 711.0M188.0 713.9Q194.7 716.8 191.2 719.9M212.9 722.8Q219.8 725.8 216.2 729.0M238.1 731.9Q245.1 735.0 241.6 738.2M263.7 741.1Q270.7 744.2 267.3 747.4M289.6 750.4Q296.7 753.5 293.3 756.8M315.7 759.8Q323.0 763.0 319.6 766.3M342.3 769.4Q349.6 772.6 346.3 775.9M369.1 779.0Q376.5 782.3 373.2 785.7M396.3 788.8Q403.8 792.1 400.6 795.6M423.8 798.7Q431.5 802.1 428.3 805.6M451.7 808.8Q459.5 812.2 456.3 815.7M480.0 818.9Q487.8 822.4 484.7 826.0M508.6 829.2Q516.6 832.7 513.5 836.3M537.6 839.7Q545.7 843.2 542.7 846.9M566.9 850.3Q575.2 853.8 572.2 857.5M596.7 861.0Q605.1 864.6 602.1 868.4M626.9 871.8Q635.3 875.5 632.5 879.3M657.4 882.8Q666.0 886.5 663.2 890.4M688.4 894.0Q697.1 897.7 694.4 901.7M719.8 905.3Q728.7 909.1 726.0 913.1M751.7 916.7Q760.7 920.6 758.0 924.7M783.9 928.4Q793.1 932.3 790.5 936.4M816.7 940.1Q825.9 944.1 823.4 948.3M849.9 952.1Q859.3 956.1 856.8 960.3M69.9 660.8Q76.2 663.6 72.5 666.5M93.3 669.2Q99.6 672.0 96.0 674.9M116.9 677.6Q123.3 680.4 119.7 683.4M140.8 686.1Q147.3 689.0 143.7 692.0M165.0 694.8Q171.6 697.7 168.0 700.7M189.4 703.5Q196.1 706.4 192.6 709.5M214.2 712.4Q221.0 715.3 217.5 718.4M239.2 721.3Q246.1 724.3 242.7 727.5M264.6 730.4Q271.6 733.4 268.2 736.6M290.3 739.5Q297.4 742.6 294.0 745.9M316.3 748.8Q323.5 752.0 320.1 755.2M342.6 758.2Q349.9 761.4 346.6 764.7M369.2 767.8Q376.6 771.0 373.3 774.3M396.2 777.4Q403.7 780.6 400.5 784.0M423.5 787.2Q431.1 790.4 427.9 793.9M451.2 797.0Q458.9 800.4 455.8 803.9M479.2 807.1Q487.0 810.4 484.0 814.0M507.6 817.2Q515.5 820.6 512.5 824.2M536.4 827.5Q544.4 830.9 541.4 834.6M565.5 837.9Q573.7 841.4 570.7 845.1M595.0 848.4Q603.3 852.0 600.4 855.7M624.9 859.1Q633.3 862.7 630.5 866.5M655.3 869.9Q663.8 873.6 661.0 877.4M686.0 880.9Q694.6 884.6 691.9 888.5M717.1 892.0Q725.9 895.8 723.2 899.7M748.7 903.3Q757.6 907.1 755.0 911.1M780.6 914.7Q789.7 918.6 787.1 922.6M813.1 926.3Q822.2 930.2 819.8 934.3M845.9 938.1Q855.3 942.0 852.9 946.2M95.3 659.5Q101.7 662.2 98.0 665.1M118.8 667.8Q125.2 670.6 121.6 673.5M142.5 676.2Q149.0 679.0 145.5 682.0M166.5 684.7Q173.1 687.6 169.6 690.6M190.8 693.3Q197.5 696.2 194.0 699.2M215.4 702.0Q222.2 705.0 218.7 708.0M240.3 710.9Q247.2 713.8 243.7 716.9M265.5 719.8Q272.4 722.8 269.0 725.9M291.0 728.8Q298.0 731.9 294.7 735.1M316.8 738.0Q323.9 741.1 320.6 744.3M342.9 747.3Q350.1 750.4 346.9 753.6M369.4 756.6Q376.7 759.8 373.4 763.1M396.1 766.1Q403.6 769.3 400.4 772.7M423.3 775.8Q430.8 779.0 427.6 782.4M450.7 785.5Q458.4 788.8 455.2 792.2M478.5 795.4Q486.3 798.7 483.2 802.1M506.7 805.3Q514.5 808.7 511.5 812.2M535.2 815.5Q543.2 818.9 540.2 822.4M564.1 825.7Q572.2 829.2 569.3 832.8M593.4 836.1Q601.6 839.6 598.7 843.3M623.0 846.6Q631.4 850.2 628.5 853.9M653.1 857.3Q661.5 860.9 658.8 864.6M683.5 868.1Q692.1 871.7 689.4 875.5M714.4 879.0Q723.1 882.7 720.5 886.6M745.7 890.1Q754.5 893.8 751.9 897.8M777.4 901.4Q786.3 905.1 783.8 909.1M809.5 912.8Q818.6 916.6 816.2 920.6M842.1 924.3Q851.3 928.2 848.9 932.3M875.1 936.0Q884.5 940.0 882.2 944.1M97.4 649.9Q103.7 652.6 100.1 655.4M120.7 658.1Q127.1 660.8 123.5 663.7M144.3 666.4Q150.7 669.2 147.2 672.1M168.1 674.8Q174.6 677.6 171.1 680.5M192.2 683.3Q198.9 686.1 195.4 689.1M216.7 691.9Q223.4 694.8 219.9 697.8M241.4 700.6Q248.2 703.5 244.8 706.6M477.8 783.8Q485.5 787.1 482.5 790.5M505.8 793.7Q513.6 797.0 510.6 800.4M534.1 803.6Q542.0 807.0 539.0 810.5M562.7 813.7Q570.7 817.1 567.8 820.7M591.8 824.0Q599.9 827.4 597.0 831.0M621.2 834.3Q629.4 837.8 626.6 841.4M651.0 844.8Q659.3 848.3 656.6 852.0M681.2 855.4Q689.7 859.0 687.0 862.8M711.8 866.2Q720.4 869.8 717.7 873.6M742.8 877.1Q751.5 880.8 748.9 884.7M774.2 888.2Q783.1 891.9 780.6 895.8M806.0 899.4Q815.1 903.2 812.6 907.1M838.3 910.8Q847.5 914.6 845.1 918.6M871.1 922.3Q880.3 926.2 878.0 930.3M122.6 648.5Q128.9 651.2 125.3 654.1M146.0 656.7Q152.4 659.5 148.9 662.3M169.7 665.0Q176.2 667.8 172.7 670.7M193.6 673.4Q200.2 676.2 196.8 679.1M771.1 875.2Q779.9 878.9 777.3 882.8M802.6 886.3Q811.6 890.0 809.1 893.9M834.6 897.5Q843.7 901.2 841.3 905.2M867.1 908.8Q876.3 912.6 873.9 916.6M899.9 920.3Q909.3 924.2 907.0 928.2M124.4 639.1Q130.7 641.8 127.2 644.6M147.7 647.2Q154.0 649.9 150.5 652.7M171.2 655.4Q177.6 658.1 174.2 661.0M799.3 873.3Q808.1 877.0 805.7 880.8M831.0 884.4Q839.9 888.1 837.6 892.0M863.1 895.5Q872.2 899.3 869.9 903.2M895.7 906.8Q904.9 910.6 902.7 914.6M149.3 637.8Q155.6 640.5 152.2 643.2M827.4 871.5Q836.3 875.1 833.9 878.9M859.2 882.4Q868.3 886.1 866.0 890.0M891.5 893.6Q900.7 897.3 898.4 901.3M924.2 904.9Q933.5 908.7 931.4 912.6M823.8 858.8Q832.7 862.4 830.3 866.1M855.4 869.6Q864.4 873.2 862.1 877.1M887.4 880.5Q896.5 884.2 894.3 888.1M919.8 891.6Q929.1 895.4 926.9 899.3M851.7 856.9Q860.5 860.5 858.2 864.3M883.4 867.7Q892.4 871.4 890.2 875.2M915.5 878.7Q924.6 882.3 922.5 886.2M948.1 889.7Q957.4 893.4 955.3 897.4M848.0 844.5Q856.7 848.0 854.5 851.7M879.4 855.1Q888.3 858.7 886.1 862.4M911.3 865.9Q920.3 869.5 918.2 873.3M943.5 876.8Q952.7 880.4 950.6 884.3M875.5 842.7Q884.3 846.2 882.1 849.9M907.1 853.3Q916.0 856.8 913.9 860.6M939.1 864.0Q948.2 867.6 946.1 871.4M971.5 874.9Q980.7 878.5 978.7 882.4M871.6 830.5Q880.4 833.9 878.2 837.6M902.9 840.9Q911.8 844.4 909.7 848.1M934.6 851.5Q943.7 855.0 941.6 858.7M966.8 862.2Q975.9 865.8 973.9 869.5M898.9 828.7Q907.7 832.2 905.6 835.8M930.3 839.1Q939.2 842.6 937.2 846.3M962.2 849.6Q971.2 853.2 969.2 856.9M994.4 860.3Q1003.6 863.9 1001.7 867.7M894.9 816.7Q903.6 820.1 901.5 823.7M926.0 827.0Q934.9 830.4 932.8 834.0M957.6 837.3Q966.6 840.8 964.6 844.5M989.6 847.8Q998.7 851.4 996.8 855.1M921.8 815.0Q930.6 818.4 928.6 821.9M953.1 825.2Q962.0 828.6 960.0 832.2M984.8 835.5Q993.9 839.0 991.9 842.7M1016.9 846.0Q1026.1 849.5 1024.2 853.2M917.7 803.2Q926.4 806.5 924.3 810.0M948.7 813.3Q957.5 816.6 955.6 820.2M980.1 823.4Q989.1 826.9 987.2 830.5M1012.0 833.8Q1021.0 837.2 1019.2 840.9M944.4 801.5Q953.1 804.8 951.1 808.3M975.5 811.5Q984.4 814.9 982.5 818.4M1007.1 821.7Q1016.1 825.1 1014.2 828.7M1039.0 832.0Q1048.2 835.4 1046.4 839.1M971.0 799.8Q979.8 803.1 977.9 806.6M1002.3 809.8Q1011.2 813.2 1009.3 816.7M1033.9 819.9Q1043.0 823.4 1041.2 826.9M1039.1 744.8Q1043.4 746.4 1042.6 748.0M1054.4 749.5Q1058.7 751.0 1057.9 752.6M1069.7 754.1Q1074.0 755.7 1073.2 757.3M1085.1 758.8Q1089.5 760.4 1088.7 762.0M1100.6 763.5Q1105.0 765.1 1104.2 766.8M1051.9 744.1Q1056.2 745.6 1055.4 747.2M1067.1 748.7Q1071.5 750.2 1070.6 751.8M1082.5 753.3Q1086.8 754.9 1086.0 756.5M1097.9 758.0Q1102.3 759.6 1101.5 761.2M1113.4 762.7Q1117.9 764.3 1117.1 766.0M1049.4 738.7Q1053.7 740.2 1052.9 741.8M1064.6 743.3Q1068.9 744.8 1068.1 746.4M1079.9 747.9Q1084.2 749.4 1083.4 751.1M1095.2 752.6Q1099.6 754.1 1098.8 755.7M1110.7 757.2Q1115.1 758.8 1114.3 760.4M1062.1 737.9Q1066.4 739.4 1065.6 741.0M1077.3 742.5Q1081.6 744.0 1080.8 745.6M1092.6 747.1Q1097.0 748.7 1096.2 750.3M1108.0 751.8Q1112.4 753.3 1111.6 754.9M1123.5 756.4Q1127.9 758.0 1127.2 759.6M1059.6 732.6Q1063.9 734.1 1063.1 735.7M1074.8 737.1Q1079.1 738.7 1078.3 740.3M1090.0 741.7Q1094.3 743.3 1093.6 744.9M1105.3 746.3Q1109.7 747.9 1108.9 749.5M1120.8 751.0Q1125.2 752.5 1124.4 754.2M1072.2 731.8Q1076.5 733.3 1075.7 734.9M1087.4 736.4Q1091.7 737.9 1090.9 739.5M1102.7 741.0Q1107.0 742.5 1106.2 744.1M1118.0 745.6Q1122.4 747.1 1121.7 748.7M1133.5 750.2Q1137.9 751.7 1137.2 753.4M1084.8 731.1Q1089.1 732.6 1088.3 734.2M1100.0 735.6Q1104.4 737.1 1103.6 738.7M1115.3 740.2Q1119.7 741.7 1118.9 743.3M1130.7 744.8Q1135.1 746.3 1134.4 747.9M1082.3 725.8Q1086.6 727.3 1085.8 728.9M1097.4 730.3Q1101.7 731.8 1101.0 733.4M1112.6 734.8Q1117.0 736.4 1116.2 738.0M1128.0 739.4Q1132.3 740.9 1131.6 742.5M1143.4 744.0Q1147.8 745.5 1147.1 747.1M1094.8 725.0Q1099.1 726.5 1098.3 728.1M1110.0 729.5Q1114.3 731.1 1113.5 732.6M1125.2 734.1Q1129.6 735.6 1128.8 737.2M1140.6 738.6Q1145.0 740.2 1144.2 741.8M1092.2 719.8Q1096.5 721.3 1095.7 722.9M1107.3 724.3Q1111.6 725.8 1110.9 727.3M1122.5 728.8Q1126.9 730.3 1126.1 731.9M1137.8 733.3Q1142.2 734.8 1141.4 736.4M1153.2 737.9Q1157.6 739.4 1156.9 741.0M1104.7 719.1Q1109.0 720.6 1108.2 722.1M1119.8 723.5Q1124.2 725.0 1123.4 726.6M1135.1 728.0Q1139.4 729.5 1138.7 731.1M1150.4 732.6Q1154.8 734.1 1154.0 735.6M1102.1 713.9Q1106.4 715.4 1105.6 716.9M1117.2 718.3Q1121.5 719.8 1120.7 721.4M1132.3 722.8Q1136.7 724.3 1135.9 725.8M1147.6 727.3Q1151.9 728.8 1151.2 730.3M1162.9 731.8Q1167.3 733.3 1166.6 734.9M1114.5 713.1Q1118.8 714.6 1118.0 716.2M1129.6 717.6Q1133.9 719.1 1133.2 720.6M1144.8 722.0Q1149.1 723.5 1148.4 725.1M1160.1 726.5Q1164.4 728.0 1163.7 729.6M1111.9 708.0Q1116.1 709.5 1115.4 711.0M1126.9 712.4Q1131.2 713.9 1130.5 715.4M1142.0 716.8Q1146.4 718.3 1145.6 719.9M1157.3 721.3Q1161.6 722.8 1160.9 724.3M1172.6 725.8Q1176.9 727.3 1176.3 728.8M1124.2 707.3Q1128.5 708.7 1127.8 710.3M1139.3 711.7Q1143.6 713.1 1142.9 714.7M1154.5 716.1Q1158.8 717.6 1158.1 719.1M1169.7 720.5Q1174.1 722.0 1173.4 723.6M1121.6 702.2Q1125.8 703.6 1125.1 705.1M1136.6 706.5Q1140.9 708.0 1140.2 709.5M1151.7 710.9Q1156.0 712.4 1155.3 713.9M1166.9 715.3Q1171.2 716.8 1170.5 718.4M1182.1 719.8Q1186.5 721.3 1185.8 722.8M1133.9 701.4Q1138.2 702.9 1137.4 704.4M1148.9 705.8Q1153.2 707.3 1152.5 708.8M1164.0 710.2Q1168.4 711.7 1167.7 713.2M1179.2 714.6Q1183.6 716.1 1182.9 717.6M1131.2 696.4Q1135.5 697.8 1134.7 699.3M1146.2 700.7Q1150.4 702.2 1149.7 703.7M1161.2 705.1Q1165.5 706.5 1164.8 708.0M1176.4 709.5Q1180.7 710.9 1180.0 712.4M1191.6 713.9Q1196.0 715.3 1195.3 716.9M1143.5 695.7Q1147.7 697.1 1147.0 698.6M1158.5 700.0Q1162.7 701.4 1162.0 702.9M1173.5 704.3Q1177.8 705.8 1177.2 707.3M1188.7 708.7Q1193.0 710.2 1192.4 711.7M1140.8 690.7Q1145.0 692.1 1144.3 693.6M1155.7 694.9Q1159.9 696.4 1159.3 697.9M1170.7 699.3Q1175.0 700.7 1174.3 702.2M1185.8 703.6Q1190.1 705.1 1189.5 706.6M1201.0 708.0Q1205.4 709.4 1204.7 711.0M1152.9 689.9Q1157.2 691.4 1156.5 692.9M1167.9 694.2Q1172.2 695.7 1171.5 697.2M1182.9 698.5Q1187.2 700.0 1186.6 701.5M1198.1 702.9Q1202.4 704.3 1201.8 705.8M1150.2 685.0Q1154.4 686.4 1153.7 687.9M1165.1 689.2Q1169.4 690.7 1168.7 692.1M1180.1 693.5Q1184.4 694.9 1183.7 696.4M1195.2 697.8Q1199.5 699.3 1198.8 700.8M1210.3 702.2Q1214.7 703.6 1214.0 705.1M1162.3 684.3Q1166.6 685.7 1165.9 687.2M1177.3 688.5Q1181.5 689.9 1180.9 691.4M1192.3 692.8Q1196.6 694.2 1195.9 695.7M1207.4 697.1Q1211.7 698.5 1211.1 700.0M1159.6 679.3Q1163.8 680.7 1163.1 682.2M1174.5 683.6Q1178.7 685.0 1178.0 686.4M1189.4 687.8Q1193.7 689.2 1193.0 690.7M1204.4 692.1Q1208.7 693.5 1208.1 695.0M1219.6 696.4Q1223.9 697.8 1223.3 699.3M1171.7 678.6Q1175.9 680.0 1175.2 681.5M1186.6 682.9Q1190.8 684.3 1190.2 685.7M1201.5 687.1Q1205.8 688.5 1205.2 690.0M1216.6 691.4Q1220.9 692.8 1220.3 694.3M1168.9 673.7Q1173.1 675.1 1172.4 676.6M1183.7 677.9Q1188.0 679.3 1187.3 680.8M1198.6 682.1Q1202.9 683.6 1202.3 685.0M1213.6 686.4Q1217.9 687.8 1217.3 689.3M1228.7 690.6Q1233.0 692.1 1232.4 693.6M1180.9 673.0Q1185.1 674.4 1184.5 675.9M1195.8 677.2Q1200.0 678.6 1199.4 680.1M1210.7 681.4Q1215.0 682.9 1214.4 684.3M1225.7 685.7Q1230.0 687.1 1229.4 688.6M1178.1 668.2Q1182.3 669.6 1181.7 671.0M1192.9 672.4Q1197.2 673.7 1196.5 675.2M1207.8 676.5Q1212.1 677.9 1211.4 679.4M1222.8 680.7Q1227.0 682.1 1226.4 683.6M1237.8 685.0Q1242.1 686.4 1241.5 687.9M1190.1 667.5Q1194.3 668.9 1193.7 670.3M1204.9 671.7Q1209.1 673.0 1208.5 674.5M1219.8 675.8Q1224.1 677.2 1223.5 678.7M1234.8 680.0Q1239.1 681.4 1238.5 682.9M1187.3 662.7Q1191.5 664.1 1190.8 665.5M1202.0 666.8Q1206.3 668.2 1205.6 669.6M1216.9 671.0Q1221.1 672.4 1220.5 673.8M1231.8 675.1Q1236.1 676.5 1235.5 678.0M1246.8 679.3Q1251.1 680.7 1250.5 682.2M1199.2 662.0Q1203.4 663.4 1202.8 664.8M1214.0 666.1Q1218.2 667.5 1217.6 668.9M1228.8 670.3Q1233.1 671.7 1232.5 673.1M1243.8 674.4Q1248.1 675.8 1247.5 677.3M1211.1 661.3Q1215.3 662.7 1214.7 664.1M1225.9 665.4Q1230.1 666.8 1229.5 668.3M1240.8 669.6Q1245.0 671.0 1244.5 672.4M1255.8 673.7Q1260.1 675.1 1259.5 676.6M1208.2 656.6Q1212.4 657.9 1211.8 659.3M1223.0 660.7Q1227.2 662.0 1226.6 663.4M1237.8 664.8Q1242.0 666.1 1241.5 667.6M1252.7 668.9Q1257.0 670.3 1256.4 671.7M1288.2 608.3Q1296.4 610.8 1295.4 613.5M1317.1 615.9Q1325.5 618.5 1324.5 621.1M1346.4 623.6Q1354.8 626.2 1353.9 628.9M1310.9 607.0Q1319.2 609.6 1318.2 612.2M1339.9 614.6Q1348.3 617.2 1347.4 619.9M1369.3 622.3Q1377.7 624.9 1376.9 627.6M1304.7 598.3Q1312.9 600.8 1312.0 603.4M1333.5 605.8Q1341.8 608.3 1340.9 610.9M1362.7 613.4Q1371.1 615.9 1370.2 618.6M1327.3 597.1Q1335.5 599.6 1334.5 602.1M1356.1 604.6Q1364.5 607.1 1363.6 609.7M1385.4 612.1Q1393.8 614.7 1393.0 617.3M1321.0 588.4Q1329.2 590.9 1328.3 593.5M1349.7 595.8Q1358.0 598.3 1357.1 600.9M1378.7 603.3Q1387.1 605.8 1386.2 608.5M1343.4 587.2Q1351.6 589.7 1350.7 592.2M1372.1 594.6Q1380.4 597.1 1379.6 599.7M1401.2 602.1Q1409.6 604.6 1408.8 607.2M1337.1 578.8Q1345.2 581.2 1344.3 583.7M1365.6 586.0Q1373.8 588.5 1373.0 591.0M1394.5 593.4Q1402.8 595.9 1402.0 598.5M1359.2 577.6Q1367.4 580.0 1366.5 582.5M1387.8 584.8Q1396.1 587.3 1395.3 589.8M1416.8 592.2Q1425.1 594.7 1424.4 597.2M1352.9 569.2Q1361.0 571.6 1360.1 574.1M1381.3 576.4Q1389.5 578.8 1388.7 581.3M1410.0 583.7Q1418.3 586.1 1417.5 588.6M1374.8 568.0Q1383.0 570.4 1382.1 572.9M1403.3 575.2Q1411.5 577.6 1410.8 580.1M1432.1 582.5Q1440.4 584.9 1439.7 587.4M1368.5 559.8Q1376.5 562.2 1375.7 564.6M1396.7 566.9Q1404.9 569.3 1404.1 571.7M1425.3 574.0Q1433.5 576.4 1432.8 578.9M1390.2 558.7Q1398.3 561.0 1397.5 563.5M1418.6 565.7Q1426.7 568.1 1426.0 570.6M1447.2 572.9Q1455.5 575.3 1454.8 577.8M1383.8 550.6Q1391.8 552.9 1391.0 555.3M1411.9 557.5Q1420.0 559.9 1419.3 562.3M1440.4 564.6Q1448.6 566.9 1447.9 569.4M1405.4 549.4Q1413.4 551.7 1412.7 554.1M1433.6 556.4Q1441.7 558.7 1441.0 561.2M1462.1 563.4Q1470.3 565.8 1469.7 568.2M1398.9 541.4Q1406.9 543.7 1406.1 546.1M1426.9 548.3Q1435.0 550.6 1434.3 553.0M1455.2 555.3Q1463.4 557.6 1462.7 560.0M1420.3 540.3Q1428.3 542.6 1427.6 545.0M1448.4 547.2Q1456.5 549.5 1455.8 551.9M1476.7 554.1Q1485.0 556.5 1484.3 558.9M1441.6 539.2Q1449.7 541.5 1449.0 543.9M1469.8 546.1Q1477.9 548.4 1477.3 550.8M1435.0 531.4Q1443.0 533.6 1442.3 535.9M1462.9 538.1Q1471.0 540.4 1470.4 542.8M1491.2 545.0Q1499.3 547.3 1498.8 549.6M1456.2 530.3Q1464.2 532.5 1463.5 534.9M1484.2 537.0Q1492.3 539.3 1491.7 541.7"/>
<path stroke-opacity="0.67" d="M266.4 709.4Q273.3 712.3 269.9 715.4M291.7 718.3Q298.7 721.3 295.3 724.4M317.3 727.3Q324.4 730.3 321.1 733.5M343.2 736.4Q350.4 739.5 347.2 742.7M369.5 745.7Q376.8 748.8 373.5 752.0M396.1 755.0Q403.4 758.2 400.3 761.5M423.0 764.5Q430.5 767.7 427.3 771.0M450.2 774.1Q457.8 777.3 454.7 780.7M217.9 681.9Q224.5 684.7 221.1 687.7M242.4 690.4Q249.2 693.3 245.8 696.3M267.3 699.1Q274.1 702.0 270.8 705.1M292.4 707.9Q299.3 710.9 296.0 713.9M317.8 716.8Q324.8 719.8 321.6 722.9M343.6 725.8Q350.7 728.8 347.5 732.0M369.6 734.9Q376.8 738.0 373.6 741.2M396.0 744.1Q403.3 747.2 400.2 750.5M422.7 753.5Q430.1 756.6 427.0 759.9M449.7 762.9Q457.3 766.1 454.2 769.4M477.1 772.5Q484.8 775.7 481.7 779.1M504.9 782.2Q512.6 785.4 509.6 788.8M532.9 792.0Q540.8 795.3 537.8 798.8M561.4 801.9Q569.3 805.3 566.4 808.8M590.2 812.0Q598.2 815.4 595.4 818.9M619.3 822.2Q627.5 825.6 624.7 829.2M648.9 832.5Q657.2 836.0 654.5 839.7M678.8 843.0Q687.2 846.5 684.6 850.2M709.2 853.6Q717.7 857.2 715.1 860.9M739.9 864.3Q748.6 868.0 746.0 871.8M195.0 663.6Q201.5 666.4 198.1 669.3M219.1 672.0Q225.7 674.8 222.3 677.7M243.5 680.4Q250.2 683.3 246.8 686.2M268.1 689.0Q274.9 691.9 271.6 694.9M706.6 841.2Q715.1 844.7 712.5 848.4M737.1 851.8Q745.7 855.3 743.1 859.1M768.0 862.5Q776.7 866.1 774.2 869.9M172.7 645.8Q179.1 648.5 175.7 651.4M196.3 654.0Q202.8 656.7 199.4 659.6M220.3 662.2Q226.8 665.0 223.5 667.9M795.9 860.6Q804.7 864.2 802.3 868.0M150.9 628.5Q157.2 631.2 153.8 633.9M174.2 636.5Q180.5 639.1 177.1 641.9M197.7 644.5Q204.1 647.2 200.8 650.0M175.6 627.2Q182.0 629.8 178.6 632.6M820.4 846.3Q829.1 849.8 826.8 853.6M177.1 618.1Q183.4 620.7 180.0 623.4M844.3 832.3Q853.0 835.7 850.8 839.4M867.8 818.5Q876.5 821.9 874.3 825.4M890.9 804.9Q899.6 808.3 897.5 811.8M913.6 791.6Q922.2 794.9 920.2 798.3M940.1 789.9Q948.8 793.2 946.8 796.7M1024.0 740.2Q1028.3 741.8 1027.4 743.4M1021.7 734.9Q1025.9 736.4 1025.1 738.0M1036.7 739.5Q1041.0 741.0 1040.2 742.6M1034.3 734.1Q1038.6 735.6 1037.7 737.2M1032.0 728.8Q1036.2 730.3 1035.4 731.9M1047.0 733.4Q1051.3 734.9 1050.4 736.5M1044.6 728.1Q1048.8 729.6 1048.0 731.1M1042.2 722.8Q1046.4 724.3 1045.6 725.9M1057.1 727.3Q1061.4 728.8 1060.6 730.4M1054.7 722.1Q1058.9 723.6 1058.1 725.1M1069.7 726.6Q1074.0 728.1 1073.2 729.6M1052.3 716.9Q1056.5 718.3 1055.7 719.9M1067.2 721.3Q1071.5 722.8 1070.7 724.4M1064.7 716.1Q1069.0 717.6 1068.2 719.1M1079.7 720.6Q1084.0 722.1 1083.2 723.6M1062.3 710.9Q1066.5 712.4 1065.7 714.0M1077.2 715.4Q1081.5 716.8 1080.7 718.4M1074.7 710.2Q1078.9 711.7 1078.2 713.2M1089.7 714.6Q1093.9 716.1 1093.1 717.6M1072.2 705.1Q1076.4 706.5 1075.7 708.1M1087.1 709.5Q1091.4 710.9 1090.6 712.5M1084.6 704.4Q1088.8 705.8 1088.0 707.3M1099.5 708.7Q1103.8 710.2 1103.0 711.7M1082.1 699.3Q1086.3 700.7 1085.5 702.2M1096.9 703.6Q1101.2 705.1 1100.4 706.6M1094.4 698.6Q1098.6 700.0 1097.8 701.5M1109.3 702.9Q1113.5 704.4 1112.8 705.9M1106.7 697.8Q1110.9 699.3 1110.2 700.8M1104.1 692.8Q1108.3 694.2 1107.6 695.7M1119.0 697.1Q1123.2 698.6 1122.5 700.1M1116.3 692.1Q1120.6 693.5 1119.8 695.0M1113.7 687.1Q1117.9 688.5 1117.2 690.0M1128.6 691.4Q1132.8 692.8 1132.1 694.3M1125.9 686.4Q1130.1 687.8 1129.4 689.3M1123.3 681.4Q1127.5 682.9 1126.8 684.3M1138.1 685.7Q1142.3 687.1 1141.6 688.6M1135.4 680.7Q1139.6 682.1 1138.9 683.6M1132.8 675.8Q1136.9 677.2 1136.2 678.7M1147.5 680.0Q1151.7 681.4 1151.0 682.9M1144.8 675.1Q1149.0 676.5 1148.3 678.0M1142.2 670.3Q1146.3 671.7 1145.6 673.1M1156.9 674.4Q1161.1 675.8 1160.4 677.3M1154.2 669.6Q1158.3 671.0 1157.7 672.4M1151.5 664.7Q1155.6 666.1 1155.0 667.6M1166.2 668.9Q1170.3 670.3 1169.7 671.7M1163.4 664.1Q1167.6 665.4 1166.9 666.9M1160.7 659.3Q1164.9 660.6 1164.2 662.1M1175.4 663.4Q1179.5 664.8 1178.9 666.2M1172.6 658.6Q1176.8 660.0 1176.1 661.4M1169.9 653.8Q1174.0 655.2 1173.4 656.6M1184.5 657.9Q1188.7 659.3 1188.0 660.7M1181.7 653.2Q1185.9 654.5 1185.2 655.9M1196.4 657.2Q1200.5 658.6 1199.9 660.0M1179.0 648.5Q1183.1 649.8 1182.5 651.2M1193.6 652.5Q1197.7 653.9 1197.1 655.3M1259.6 600.7Q1267.7 603.2 1266.6 605.8M1282.2 599.5Q1290.3 602.0 1289.3 604.6M1276.3 590.9Q1284.4 593.3 1283.3 595.9M1298.7 589.6Q1306.8 592.1 1305.8 594.7M1292.7 581.1Q1300.8 583.6 1299.8 586.1M1314.9 579.9Q1323.0 582.4 1322.1 584.9M1308.9 571.5Q1316.9 573.9 1315.9 576.4M1330.9 570.4Q1339.0 572.8 1338.1 575.2M1324.8 562.1Q1332.8 564.5 1331.9 566.9M1346.6 561.0Q1354.7 563.3 1353.8 565.8M1340.5 552.8Q1348.5 555.1 1347.6 557.6M1362.2 551.7Q1370.2 554.0 1369.3 556.4M1355.9 543.7Q1363.9 545.9 1363.0 548.3M1377.4 542.5Q1385.4 544.8 1384.6 547.2M1392.5 533.5Q1400.4 535.8 1399.7 538.1M1413.8 532.5Q1421.7 534.7 1421.0 537.0M1407.3 524.7Q1415.2 526.9 1414.5 529.2M1428.4 523.6Q1436.3 525.8 1435.7 528.1"/>
<path stroke-opacity="0.56" d="M293.1 697.7Q300.0 700.6 296.7 703.6M318.3 706.4Q325.3 709.4 322.1 712.4M343.9 715.3Q351.0 718.3 347.7 721.4M369.8 724.3Q376.9 727.3 373.7 730.4M395.9 733.4Q403.2 736.4 400.1 739.6M422.4 742.6Q429.8 745.7 426.7 748.9M449.3 751.9Q456.7 755.0 453.7 758.3M476.4 761.3Q484.0 764.5 481.0 767.8M504.0 770.9Q511.6 774.1 508.7 777.4M531.8 780.5Q539.6 783.8 536.7 787.2M560.0 790.3Q567.9 793.6 565.0 797.1M588.6 800.2Q596.6 803.6 593.8 807.1M617.5 810.3Q625.6 813.7 622.9 817.2M646.8 820.4Q655.1 823.9 652.3 827.5M676.5 830.8Q684.9 834.2 682.2 837.9M244.5 670.6Q251.1 673.4 247.8 676.3M269.0 679.0Q275.7 681.9 272.4 684.8M293.7 687.6Q300.6 690.4 297.3 693.4M318.8 696.2Q325.7 699.1 322.5 702.1M344.2 704.9Q351.2 707.9 348.0 711.0M369.9 713.8Q377.0 716.8 373.8 719.9M395.9 722.8Q403.1 725.8 400.0 728.9M422.2 731.8Q429.5 734.9 426.4 738.1M448.8 741.0Q456.2 744.1 453.2 747.3M475.8 750.3Q483.3 753.4 480.3 756.7M503.1 759.7Q510.7 762.9 507.7 766.2M530.7 769.2Q538.4 772.4 535.5 775.8M558.7 778.9Q566.5 782.1 563.7 785.5M587.0 788.6Q595.0 791.9 592.2 795.4M615.7 798.5Q623.8 801.9 621.0 805.3M644.8 808.6Q653.0 811.9 650.3 815.5M674.3 818.7Q682.5 822.1 679.9 825.7M704.1 829.0Q712.5 832.4 709.9 836.1M734.3 839.4Q742.8 842.9 740.3 846.6M764.9 849.9Q773.6 853.5 771.1 857.2M221.4 652.6Q228.0 655.4 224.6 658.2M245.5 660.9Q252.1 663.6 248.8 666.5M269.8 669.2Q276.5 672.0 273.2 674.9M792.7 848.1Q801.4 851.7 799.0 855.4M199.0 635.1Q205.4 637.8 202.0 640.6M222.6 643.2Q229.1 645.9 225.8 648.7M246.5 651.3Q253.0 654.0 249.8 656.9M789.5 835.8Q798.1 839.3 795.7 843.0M200.3 625.9Q206.6 628.5 203.3 631.3M223.7 633.8Q230.2 636.5 226.9 639.3M816.9 834.0Q825.6 837.5 823.3 841.2M201.5 616.8Q207.9 619.4 204.6 622.1M813.6 821.9Q822.1 825.4 819.8 829.0M202.8 607.8Q209.1 610.4 205.8 613.1M840.7 820.2Q849.4 823.6 847.1 827.2M837.2 808.3Q845.8 811.7 843.5 815.2M864.1 806.6Q872.7 810.0 870.5 813.5M860.4 795.0Q869.0 798.3 866.8 801.7M887.1 793.3Q895.6 796.6 893.5 800.0M883.2 781.8Q891.8 785.1 889.7 788.5M909.6 780.2Q918.2 783.4 916.1 786.8M994.0 731.1Q998.3 732.6 997.4 734.2M1009.0 735.7Q1013.2 737.2 1012.4 738.8M1006.7 730.3Q1010.9 731.9 1010.0 733.4M1004.4 725.1Q1008.6 726.6 1007.8 728.1M1019.3 729.6Q1023.6 731.1 1022.7 732.7M1017.0 724.3Q1021.2 725.8 1020.4 727.4M1014.7 719.1Q1018.9 720.6 1018.1 722.1M1029.6 723.6Q1033.8 725.1 1033.0 726.6M1027.3 718.3Q1031.5 719.8 1030.6 721.4M1024.9 713.2Q1029.1 714.6 1028.3 716.2M1039.8 717.6Q1044.0 719.1 1043.2 720.6M1037.4 712.4Q1041.6 713.9 1040.8 715.4M1035.0 707.3Q1039.2 708.8 1038.4 710.3M1049.9 711.7Q1054.1 713.2 1053.2 714.7M1047.5 706.6Q1051.6 708.0 1050.8 709.5M1045.1 701.5Q1049.2 702.9 1048.4 704.4M1059.9 705.8Q1064.1 707.3 1063.2 708.8M1057.4 700.7Q1061.6 702.2 1060.8 703.7M1055.0 695.7Q1059.2 697.1 1058.4 698.6M1069.8 700.0Q1074.0 701.5 1073.2 703.0M1067.3 695.0Q1071.5 696.4 1070.7 697.9M1064.9 689.9Q1069.0 691.4 1068.3 692.9M1079.6 694.2Q1083.8 695.7 1083.0 697.2M1077.1 689.2Q1081.3 690.7 1080.5 692.1M1091.9 693.5Q1096.1 695.0 1095.3 696.5M1074.7 684.3Q1078.8 685.7 1078.0 687.2M1089.3 688.5Q1093.5 689.9 1092.8 691.4M1086.8 683.6Q1091.0 685.0 1090.2 686.4M1101.5 687.8Q1105.7 689.2 1105.0 690.7M1084.4 678.6Q1088.5 680.0 1087.7 681.5M1099.0 682.9Q1103.2 684.3 1102.4 685.7M1096.5 677.9Q1100.6 679.3 1099.9 680.8M1111.2 682.1Q1115.3 683.6 1114.6 685.0M1094.0 673.0Q1098.1 674.4 1097.4 675.9M1108.6 677.2Q1112.8 678.6 1112.0 680.1M1106.1 672.3Q1110.2 673.7 1109.5 675.2M1120.7 676.5Q1124.9 677.9 1124.1 679.4M1103.5 667.5Q1107.7 668.9 1106.9 670.3M1118.1 671.7Q1122.3 673.0 1121.5 674.5M1115.5 666.8Q1119.7 668.2 1119.0 669.6M1130.1 671.0Q1134.3 672.3 1133.6 673.8M1113.0 662.0Q1117.1 663.4 1116.4 664.8M1127.5 666.1Q1131.7 667.5 1131.0 668.9M1124.9 661.3Q1129.1 662.7 1128.4 664.1M1139.5 665.4Q1143.7 666.8 1143.0 668.2M1122.4 656.5Q1126.5 657.9 1125.8 659.3M1136.9 660.6Q1141.0 662.0 1140.3 663.4M1134.3 655.9Q1138.4 657.2 1137.7 658.6M1148.8 660.0Q1153.0 661.3 1152.3 662.7M1146.2 655.2Q1150.3 656.6 1149.6 658.0M1143.5 650.5Q1147.6 651.8 1147.0 653.2M1158.0 654.5Q1162.2 655.9 1161.5 657.3M1155.4 649.8Q1159.5 651.1 1158.8 652.5M1152.7 645.1Q1156.8 646.4 1156.1 647.8M1167.2 649.1Q1171.3 650.5 1170.6 651.9M1164.5 644.4Q1168.6 645.8 1167.9 647.2M1231.3 593.3Q1239.3 595.8 1238.2 598.3M1253.8 592.1Q1261.8 594.5 1260.8 597.1M1248.1 583.5Q1256.1 585.9 1255.0 588.5M1270.4 582.3Q1278.4 584.7 1277.4 587.3M1264.6 573.9Q1272.6 576.3 1271.6 578.8M1286.8 572.7Q1294.8 575.1 1293.8 577.6M1280.9 564.4Q1288.9 566.8 1287.9 569.2M1302.9 563.3Q1310.9 565.6 1309.9 568.1M1318.8 553.9Q1326.7 556.3 1325.8 558.7M1334.4 544.8Q1342.3 547.1 1341.4 549.4M1349.8 535.7Q1357.7 538.0 1356.8 540.3M1371.2 534.6Q1379.1 536.9 1378.3 539.2M1365.0 526.8Q1372.8 529.1 1372.0 531.4M1386.2 525.8Q1394.0 528.0 1393.3 530.3M1379.9 518.1Q1387.8 520.3 1387.0 522.5M1401.0 517.0Q1408.8 519.2 1408.1 521.5"/>
<path stroke-opacity="0.44" d="M294.4 677.6Q301.2 680.4 298.0 683.4M319.3 686.1Q326.2 689.0 323.0 692.0M344.5 694.8Q351.5 697.6 348.3 700.7M370.0 703.5Q377.1 706.4 373.9 709.5M395.8 712.3Q403.0 715.3 399.9 718.4M421.9 721.2Q429.2 724.2 426.1 727.4M448.4 730.3Q455.7 733.3 452.7 736.5M475.1 739.4Q482.6 742.5 479.6 745.7M502.2 748.7Q509.8 751.8 506.8 755.1M529.6 758.1Q537.3 761.3 534.4 764.6M557.4 767.6Q565.2 770.8 562.3 774.1M585.5 777.2Q593.4 780.5 590.6 783.9M614.0 787.0Q622.0 790.3 619.2 793.7M642.8 796.8Q650.9 800.2 648.2 803.6M672.0 806.8Q680.2 810.2 677.6 813.7M701.6 817.0Q709.9 820.4 707.3 823.9M731.6 827.2Q740.0 830.7 737.5 834.3M761.9 837.6Q770.5 841.1 768.0 844.8M270.6 659.5Q277.3 662.2 274.0 665.1M295.1 667.8Q301.8 670.6 298.6 673.5M319.8 676.2Q326.6 679.0 323.4 682.0M344.8 684.7Q351.7 687.6 348.6 690.5M370.1 693.3Q377.1 696.2 374.0 699.2M395.7 702.0Q402.8 704.9 399.8 708.0M421.7 710.8Q428.9 713.8 425.8 716.9M447.9 719.7Q455.2 722.7 452.2 725.9M474.5 728.8Q481.9 731.8 478.9 735.0M501.3 737.9Q508.8 741.0 505.9 744.2M528.6 747.1Q536.2 750.3 533.3 753.5M556.1 756.5Q563.8 759.7 561.0 763.0M584.0 766.0Q591.8 769.2 589.0 772.5M612.3 775.6Q620.2 778.8 617.5 782.2M640.9 785.3Q648.9 788.6 646.2 792.0M669.8 795.2Q678.0 798.5 675.3 801.9M699.2 805.1Q707.4 808.5 704.8 812.0M728.9 815.2Q737.2 818.6 734.7 822.2M759.0 825.5Q767.5 828.9 765.0 832.5M247.4 641.8Q254.0 644.5 250.7 647.3M271.4 649.9Q278.0 652.7 274.8 655.5M786.3 823.7Q794.8 827.1 792.5 830.7M224.8 624.6Q231.2 627.2 228.0 630.0M248.4 632.5Q254.9 635.2 251.7 637.9M225.9 615.5Q232.3 618.1 229.1 620.8M810.2 810.0Q818.8 813.4 816.4 817.0M227.0 606.6Q233.3 609.1 230.1 611.8M228.1 597.7Q234.4 600.3 231.2 602.9M833.7 796.6Q842.2 800.0 840.0 803.4M856.8 783.5Q865.3 786.7 863.1 790.1M879.5 770.5Q887.9 773.7 885.8 777.1M964.4 722.1Q968.6 723.6 967.7 725.2M979.2 726.6Q983.4 728.1 982.5 729.7M977.0 721.3Q981.2 722.8 980.3 724.4M991.8 725.8Q996.0 727.3 995.1 728.9M989.6 720.6Q993.8 722.1 992.9 723.6M987.4 715.4Q991.6 716.9 990.7 718.4M1002.2 719.8Q1006.4 721.3 1005.5 722.9M999.9 714.7Q1004.1 716.1 1003.2 717.7M997.7 709.5Q1001.9 711.0 1001.0 712.5M1012.4 713.9Q1016.6 715.4 1015.8 716.9M1010.2 708.8Q1014.3 710.2 1013.5 711.8M1007.9 703.6Q1012.1 705.1 1011.2 706.6M1022.6 708.0Q1026.8 709.5 1025.9 711.0M1020.3 702.9Q1024.5 704.4 1023.6 705.9M1018.0 697.8Q1022.2 699.3 1021.3 700.8M1032.7 702.2Q1036.9 703.6 1036.0 705.2M1030.4 697.1Q1034.5 698.6 1033.7 700.1M1028.1 692.1Q1032.2 693.5 1031.4 695.0M1042.7 696.4Q1046.9 697.8 1046.1 699.3M1040.4 691.4Q1044.5 692.8 1043.7 694.3M1038.0 686.4Q1042.2 687.8 1041.3 689.3M1052.6 690.7Q1056.8 692.1 1056.0 693.6M1050.3 685.7Q1054.4 687.1 1053.6 688.6M1047.9 680.7Q1052.0 682.1 1051.2 683.6M1062.5 685.0Q1066.6 686.4 1065.8 687.9M1060.1 680.0Q1064.2 681.4 1063.4 682.9M1057.7 675.1Q1061.8 676.5 1061.0 678.0M1072.2 679.3Q1076.4 680.7 1075.6 682.2M1069.8 674.4Q1073.9 675.8 1073.2 677.3M1067.4 669.6Q1071.5 671.0 1070.7 672.4M1081.9 673.7Q1086.0 675.1 1085.3 676.6M1079.5 668.9Q1083.6 670.3 1082.8 671.7M1077.0 664.0Q1081.1 665.4 1080.4 666.9M1091.5 668.2Q1095.6 669.6 1094.9 671.0M1089.0 663.4Q1093.1 664.7 1092.4 666.2M1086.6 658.6Q1090.7 659.9 1089.9 661.4M1101.0 662.7Q1105.1 664.1 1104.4 665.5M1098.5 657.9Q1102.6 659.3 1101.9 660.7M1096.1 653.2Q1100.1 654.5 1099.4 655.9M1110.5 657.2Q1114.6 658.6 1113.8 660.0M1107.9 652.5Q1112.0 653.8 1111.3 655.2M1105.4 647.8Q1109.5 649.1 1108.8 650.5M1119.8 651.8Q1123.9 653.2 1123.2 654.6M1117.3 647.1Q1121.4 648.4 1120.6 649.8M1131.7 651.1Q1135.8 652.5 1135.1 653.9M1114.8 642.4Q1118.8 643.8 1118.1 645.1M1129.1 646.4Q1133.2 647.8 1132.5 649.2M1126.5 641.8Q1130.6 643.1 1129.9 644.5M1140.9 645.8Q1145.0 647.1 1144.3 648.5M1124.0 637.1Q1128.1 638.5 1127.4 639.8M1138.3 641.1Q1142.4 642.4 1141.7 643.8M1135.7 636.5Q1139.8 637.8 1139.1 639.2M1150.1 640.5Q1154.2 641.8 1153.5 643.2M1203.2 585.9Q1211.2 588.3 1210.0 590.9M1225.7 584.7Q1233.7 587.1 1232.5 589.7M1242.4 575.1Q1250.4 577.5 1249.3 580.0M1258.9 565.6Q1266.8 567.9 1265.8 570.4M1275.2 556.2Q1283.1 558.5 1282.0 561.0M1297.0 555.1Q1304.9 557.4 1303.9 559.8M1291.2 547.0Q1299.0 549.3 1298.1 551.7M1312.8 545.9Q1320.7 548.2 1319.8 550.6M1306.9 537.9Q1314.8 540.2 1313.8 542.6M1328.4 536.8Q1336.2 539.1 1335.4 541.4M1322.5 529.0Q1330.3 531.2 1329.4 533.5M1343.7 527.9Q1351.6 530.1 1350.7 532.5M1337.8 520.2Q1345.5 522.4 1344.7 524.7M1358.9 519.1Q1366.7 521.3 1365.8 523.6M1352.8 511.5Q1360.6 513.7 1359.7 515.9M1373.8 510.5Q1381.5 512.6 1380.8 514.9"/>
<path stroke-opacity="0.32" d="M295.7 658.1Q302.4 660.9 299.2 663.7M320.3 666.4Q327.0 669.2 323.9 672.1M345.1 674.8Q352.0 677.6 348.9 680.6M370.2 683.3Q377.2 686.1 374.1 689.1M395.7 691.9Q402.7 694.7 399.7 697.8M421.4 700.5Q428.6 703.5 425.6 706.5M447.5 709.3Q454.7 712.3 451.7 715.4M473.8 718.2Q481.2 721.2 478.2 724.4M500.5 727.2Q507.9 730.3 505.1 733.4M527.5 736.4Q535.0 739.4 532.2 742.6M554.8 745.6Q562.5 748.7 559.7 751.9M582.5 754.9Q590.3 758.1 587.5 761.4M610.5 764.4Q618.4 767.6 615.7 770.9M638.9 774.0Q646.9 777.2 644.2 780.5M667.7 783.7Q675.7 786.9 673.1 790.3M696.8 793.5Q704.9 796.8 702.4 800.2M726.2 803.4Q734.5 806.8 732.0 810.3M756.1 813.5Q764.5 816.9 762.0 820.4M272.2 640.5Q278.8 643.2 275.6 646.0M296.3 648.6Q303.0 651.3 299.8 654.1M320.7 656.8Q327.5 659.5 324.3 662.4M345.4 665.0Q352.2 667.8 349.1 670.7M370.4 673.4Q377.3 676.2 374.2 679.1M395.6 681.9Q402.6 684.7 399.6 687.7M421.2 690.4Q428.3 693.3 425.3 696.3M447.0 699.1Q454.2 702.0 451.3 705.0M473.2 707.9Q480.5 710.8 477.6 713.9M499.7 716.7Q507.0 719.7 504.2 722.8M526.5 725.7Q534.0 728.7 531.1 731.9M553.6 734.8Q561.2 737.9 558.4 741.1M581.1 744.0Q588.8 747.1 586.0 750.4M608.9 753.3Q616.7 756.5 614.0 759.8M637.0 762.8Q644.9 765.9 642.3 769.3M665.5 772.3Q673.5 775.5 670.9 778.9M694.4 782.0Q702.5 785.3 700.0 788.7M723.6 791.8Q731.8 795.1 729.4 798.5M753.2 801.7Q761.6 805.1 759.1 808.6M783.2 811.8Q791.7 815.1 789.3 818.7M249.4 623.3Q255.8 625.9 252.6 628.7M273.0 631.2Q279.5 633.9 276.4 636.6M780.1 800.0Q788.5 803.3 786.2 806.8M250.3 614.3Q256.7 616.8 253.5 619.5M807.0 798.3Q815.4 801.6 813.1 805.1M251.2 605.3Q257.6 607.9 254.4 610.5M803.8 786.8Q812.1 790.1 809.8 793.5M830.3 785.1Q838.7 788.4 836.5 791.8M827.0 773.8Q835.3 777.0 833.1 780.4M853.3 772.2Q861.6 775.4 859.5 778.7M849.7 761.0Q858.1 764.2 855.9 767.5M949.8 717.6Q953.9 719.1 953.0 720.7M947.7 712.5Q951.8 713.9 950.9 715.5M962.3 716.9Q966.5 718.4 965.6 719.9M960.2 711.7Q964.4 713.2 963.4 714.7M974.9 716.1Q979.0 717.6 978.1 719.2M958.2 706.6Q962.3 708.0 961.4 709.6M972.7 711.0Q976.9 712.4 976.0 714.0M970.6 705.8Q974.7 707.3 973.8 708.8M985.2 710.2Q989.4 711.7 988.5 713.2M968.5 700.7Q972.6 702.2 971.7 703.7M983.1 705.1Q987.2 706.6 986.3 708.1M980.9 700.0Q985.0 701.5 984.2 703.0M995.5 704.4Q999.6 705.8 998.8 707.4M978.8 695.0Q982.9 696.4 982.0 697.9M993.3 699.3Q997.4 700.7 996.6 702.3M991.1 694.2Q995.2 695.7 994.4 697.2M1005.7 698.6Q1009.8 700.0 1009.0 701.5M989.0 689.2Q993.1 690.7 992.2 692.2M1003.5 693.5Q1007.6 695.0 1006.7 696.5M1001.3 688.5Q1005.4 690.0 1004.5 691.4M1015.8 692.8Q1019.9 694.2 1019.1 695.7M999.1 683.6Q1003.2 685.0 1002.3 686.4M1013.5 687.8Q1017.6 689.2 1016.8 690.7M1011.3 682.9Q1015.4 684.3 1014.6 685.7M1025.8 687.1Q1029.9 688.5 1029.1 690.0M1009.1 677.9Q1013.2 679.3 1012.3 680.8M1023.5 682.1Q1027.6 683.6 1026.8 685.0M1021.3 677.2Q1025.4 678.6 1024.5 680.1M1035.7 681.4Q1039.8 682.9 1039.0 684.3M1019.0 672.3Q1023.1 673.7 1022.3 675.2M1033.4 676.5Q1037.5 677.9 1036.7 679.4M1031.2 671.6Q1035.2 673.0 1034.4 674.5M1045.6 675.8Q1049.7 677.2 1048.9 678.7M1028.9 666.8Q1032.9 668.2 1032.1 669.6M1043.3 670.9Q1047.3 672.3 1046.5 673.8M1040.9 666.1Q1045.0 667.5 1044.2 668.9M1055.3 670.3Q1059.4 671.6 1058.6 673.1M1038.7 661.3Q1042.7 662.7 1041.9 664.1M1053.0 665.4Q1057.1 666.8 1056.3 668.2M1050.7 660.6Q1054.7 662.0 1053.9 663.4M1065.0 664.7Q1069.1 666.1 1068.3 667.5M1048.3 655.8Q1052.4 657.2 1051.6 658.6M1062.6 659.9Q1066.7 661.3 1065.9 662.7M1060.3 655.2Q1064.3 656.5 1063.6 657.9M1074.6 659.3Q1078.7 660.6 1077.9 662.0M1058.0 650.4Q1062.0 651.8 1061.2 653.2M1072.2 654.5Q1076.3 655.9 1075.5 657.3M1069.9 649.8Q1073.9 651.1 1073.1 652.5M1084.1 653.8Q1088.2 655.2 1087.5 656.6M1067.5 645.1Q1071.5 646.4 1070.8 647.8M1081.7 649.1Q1085.8 650.4 1085.0 651.9M1079.3 644.4Q1083.4 645.8 1082.6 647.1M1093.6 648.4Q1097.7 649.8 1096.9 651.2M1076.9 639.8Q1081.0 641.1 1080.2 642.5M1091.2 643.8Q1095.2 645.1 1094.5 646.5M1088.7 639.1Q1092.8 640.4 1092.0 641.8M1103.0 643.1Q1107.0 644.4 1106.3 645.8M1086.3 634.5Q1090.3 635.8 1089.6 637.2M1100.5 638.4Q1104.5 639.8 1103.8 641.1M1098.1 633.8Q1102.1 635.1 1101.4 636.5M1112.3 637.8Q1116.3 639.1 1115.6 640.5M1109.8 633.2Q1113.8 634.5 1113.1 635.9M1107.3 628.6Q1111.3 629.9 1110.6 631.3M1121.5 632.5Q1125.5 633.8 1124.8 635.2M1197.9 577.4Q1205.8 579.8 1204.6 582.3M1220.2 576.2Q1228.1 578.6 1227.0 581.2M1214.8 567.9Q1222.6 570.3 1221.5 572.7M1236.9 566.7Q1244.8 569.1 1243.7 571.6M1231.4 558.5Q1239.2 560.8 1238.1 563.3M1253.3 557.3Q1261.2 559.7 1260.1 562.1M1247.8 549.2Q1255.5 551.6 1254.5 554.0M1269.5 548.1Q1277.3 550.4 1276.3 552.8M1263.9 540.1Q1271.6 542.4 1270.6 544.8M1285.4 539.0Q1293.2 541.3 1292.2 543.7M1279.8 531.2Q1287.5 533.4 1286.5 535.7M1301.1 530.1Q1308.9 532.3 1308.0 534.6M1295.4 522.3Q1303.1 524.5 1302.2 526.8M1316.6 521.2Q1324.3 523.5 1323.4 525.7M1310.8 513.6Q1318.5 515.8 1317.6 518.0M1331.9 512.5Q1339.6 514.7 1338.7 517.0M1326.0 505.0Q1333.7 507.2 1332.8 509.4M1346.9 504.0Q1354.6 506.1 1353.7 508.4"/>
<path stroke-opacity="0.21" d="M297.0 639.2Q303.6 641.9 300.4 644.6M321.2 647.2Q327.9 649.9 324.8 652.8M345.7 655.4Q352.5 658.1 349.4 661.0M370.5 663.6Q377.3 666.4 374.3 669.3M395.5 672.0Q402.5 674.8 399.5 677.7M420.9 680.4Q428.0 683.3 425.0 686.2M446.6 689.0Q453.7 691.9 450.8 694.9M472.6 697.6Q479.8 700.5 476.9 703.6M498.8 706.4Q506.2 709.3 503.3 712.4M525.4 715.2Q532.9 718.2 530.1 721.3M552.4 724.2Q559.9 727.2 557.1 730.4M579.6 733.3Q587.3 736.3 584.5 739.5M607.2 742.5Q614.9 745.5 612.3 748.8M635.1 751.8Q643.0 754.9 640.4 758.2M663.4 761.2Q671.4 764.3 668.8 767.6M692.1 770.7Q700.1 773.9 697.6 777.3M721.0 780.3Q729.2 783.6 726.7 787.0M750.4 790.1Q758.7 793.4 756.3 796.9M273.8 622.0Q280.3 624.6 277.1 627.4M297.6 629.9Q304.1 632.5 301.0 635.3M321.6 637.9Q328.3 640.5 325.2 643.3M346.0 645.9Q352.7 648.6 349.7 651.4M370.6 654.0Q377.4 656.8 374.4 659.6M395.5 662.3Q402.4 665.0 399.4 667.9M420.7 670.6Q427.7 673.4 424.7 676.3M446.2 679.0Q453.2 681.9 450.3 684.8M471.9 687.6Q479.1 690.4 476.3 693.4M498.0 696.2Q505.3 699.1 502.5 702.1M524.4 704.9Q531.8 707.8 529.0 710.9M551.2 713.7Q558.6 716.7 555.9 719.8M578.2 722.7Q585.8 725.7 583.1 728.8M605.6 731.7Q613.3 734.8 610.6 738.0M633.3 740.9Q641.1 744.0 638.5 747.2M661.4 750.2Q669.2 753.3 666.7 756.6M689.8 759.6Q697.7 762.7 695.2 766.0M718.5 769.1Q726.6 772.3 724.1 775.6M747.6 778.7Q755.8 781.9 753.4 785.3M777.1 788.5Q785.4 791.7 783.1 795.2M274.6 613.0Q281.0 615.6 277.9 618.3M298.2 620.8Q304.7 623.4 301.6 626.1M322.1 628.6Q328.7 631.2 325.6 634.0M346.3 636.5Q352.9 639.2 349.9 642.0M370.7 644.6Q377.5 647.3 374.5 650.1M395.4 652.7Q402.3 655.4 399.3 658.3M420.4 660.9Q427.4 663.7 424.5 666.5M445.7 669.2Q452.8 672.0 449.9 674.9M471.3 677.6Q478.5 680.4 475.6 683.4M497.2 686.1Q504.5 689.0 501.7 692.0M523.5 694.7Q530.8 697.6 528.0 700.6M550.0 703.4Q557.4 706.4 554.7 709.4M576.8 712.3Q584.3 715.2 581.6 718.3M604.0 721.2Q611.6 724.2 609.0 727.3M631.5 730.2Q639.2 733.2 636.6 736.4M659.3 739.4Q667.1 742.4 664.6 745.6M687.5 748.6Q695.4 751.7 692.9 755.0M716.0 758.0Q724.0 761.1 721.6 764.4M744.9 767.5Q753.0 770.6 750.6 774.0M774.1 777.1Q782.4 780.3 780.1 783.7M800.6 775.4Q808.9 778.7 806.6 782.0M797.5 764.2Q805.7 767.4 803.4 770.7M823.6 762.6Q831.9 765.8 829.7 769.1M820.4 751.6Q828.6 754.8 826.4 758.0M906.3 704.4Q910.3 705.9 909.4 707.4M920.7 708.8Q924.8 710.2 923.8 711.8M935.2 713.2Q939.3 714.7 938.3 716.2M918.8 703.7Q922.8 705.1 921.9 706.6M933.2 708.0Q937.3 709.5 936.3 711.0M916.8 698.6Q920.9 700.0 919.9 701.5M931.2 702.9Q935.3 704.4 934.4 705.9M945.7 707.3Q949.8 708.8 948.9 710.3M929.3 697.9Q933.3 699.3 932.4 700.8M943.7 702.2Q947.8 703.7 946.8 705.2M927.3 692.8Q931.4 694.3 930.4 695.8M941.7 697.1Q945.7 698.6 944.8 700.1M956.1 701.5Q960.2 702.9 959.3 704.4M939.7 692.1Q943.7 693.5 942.8 695.0M954.1 696.4Q958.1 697.9 957.2 699.4M937.7 687.1Q941.7 688.5 940.8 690.0M952.0 691.4Q956.1 692.8 955.2 694.3M966.4 695.7Q970.5 697.1 969.6 698.6M950.0 686.4Q954.1 687.8 953.1 689.3M964.4 690.7Q968.4 692.1 967.5 693.6M948.0 681.4Q952.0 682.9 951.1 684.3M962.3 685.7Q966.4 687.1 965.5 688.6M976.7 690.0Q980.8 691.4 979.9 692.9M960.3 680.7Q964.3 682.1 963.4 683.6M974.6 685.0Q978.6 686.4 977.8 687.9M958.2 675.8Q962.3 677.2 961.4 678.7M972.5 680.0Q976.5 681.4 975.7 682.9M986.8 684.3Q990.9 685.7 990.0 687.2M970.4 675.1Q974.5 676.5 973.6 678.0M984.7 679.3Q988.8 680.7 987.9 682.2M968.4 670.2Q972.4 671.6 971.5 673.1M982.6 674.4Q986.6 675.8 985.8 677.3M996.9 678.6Q1001.0 680.0 1000.1 681.5M980.5 669.6Q984.5 670.9 983.7 672.4M994.8 673.7Q998.8 675.1 997.9 676.6M978.4 664.7Q982.4 666.1 981.6 667.5M992.6 668.9Q996.6 670.2 995.8 671.7M1006.9 673.0Q1011.0 674.4 1010.1 675.9M990.5 664.0Q994.5 665.4 993.7 666.8M1004.7 668.2Q1008.8 669.6 1007.9 671.0M988.4 659.2Q992.4 660.6 991.5 662.0M1002.6 663.3Q1006.6 664.7 1005.7 666.2M1016.8 667.5Q1020.9 668.9 1020.0 670.3M1000.4 658.6Q1004.4 659.9 1003.6 661.3M1014.6 662.7Q1018.6 664.0 1017.8 665.5M998.3 653.8Q1002.3 655.2 1001.4 656.6M1012.4 657.9Q1016.4 659.2 1015.6 660.7M1026.6 662.0Q1030.7 663.4 1029.9 664.8M1010.2 653.1Q1014.2 654.5 1013.4 655.9M1024.4 657.2Q1028.4 658.6 1027.6 660.0M1008.1 648.4Q1012.1 649.8 1011.2 651.2M1022.2 652.5Q1026.2 653.8 1025.4 655.2M1036.4 656.5Q1040.4 657.9 1039.6 659.3M1020.0 647.7Q1024.0 649.1 1023.2 650.5M1034.1 651.8Q1038.1 653.1 1037.3 654.5M1017.8 643.1Q1021.8 644.4 1021.0 645.8M1031.9 647.1Q1035.9 648.4 1035.1 649.8M1046.0 651.1Q1050.1 652.5 1049.3 653.9M1029.7 642.4Q1033.6 643.7 1032.8 645.1M1043.8 646.4Q1047.8 647.7 1047.0 649.1M1027.4 637.8Q1031.4 639.1 1030.6 640.5M1041.5 641.7Q1045.5 643.1 1044.7 644.5M1055.6 645.7Q1059.7 647.1 1058.9 648.5M1039.3 637.1Q1043.2 638.4 1042.4 639.8M1053.3 641.1Q1057.3 642.4 1056.6 643.8M1037.0 632.5Q1041.0 633.8 1040.2 635.2M1051.0 636.4Q1055.0 637.8 1054.3 639.1M1065.1 640.4Q1069.2 641.7 1068.4 643.1M1048.8 631.8Q1052.7 633.2 1052.0 634.5M1062.8 635.8Q1066.8 637.1 1066.1 638.5M1046.5 627.3Q1050.5 628.6 1049.7 629.9M1060.5 631.2Q1064.5 632.5 1063.7 633.9M1074.6 635.1Q1078.6 636.5 1077.8 637.8M1058.2 626.6Q1062.2 627.9 1061.4 629.3M1072.2 630.5Q1076.2 631.9 1075.5 633.2M1055.9 622.1Q1059.9 623.4 1059.1 624.7M1069.9 626.0Q1073.9 627.3 1073.1 628.6M1083.9 629.9Q1087.9 631.2 1087.2 632.6M1067.6 621.5Q1071.5 622.7 1070.8 624.1M1081.6 625.3Q1085.5 626.6 1084.8 628.0M1095.6 629.2Q1099.6 630.6 1098.9 631.9M1065.3 617.0Q1069.2 618.2 1068.5 619.6M1079.2 620.8Q1083.2 622.1 1082.4 623.5M1093.2 624.7Q1097.2 626.0 1096.5 627.3M1148.2 571.4Q1155.9 573.8 1154.6 576.3M1175.6 578.6Q1183.4 581.0 1182.2 583.5M1170.4 570.2Q1178.2 572.6 1177.0 575.1M1165.3 561.9Q1173.1 564.3 1171.8 566.7M1192.6 569.0Q1200.4 571.4 1199.3 573.9M1187.4 560.8Q1195.2 563.1 1194.0 565.6M1182.3 552.6Q1190.0 554.9 1188.8 557.4M1209.4 559.6Q1217.2 562.0 1216.1 564.4M1204.1 551.5Q1211.9 553.8 1210.7 556.2M1198.9 543.5Q1206.6 545.7 1205.4 548.1M1226.0 550.4Q1233.7 552.7 1232.6 555.1M1220.6 542.3Q1228.3 544.6 1227.2 547.0M1215.3 534.4Q1223.0 536.7 1221.9 539.0M1242.3 541.2Q1250.0 543.5 1248.9 545.9M1236.9 533.3Q1244.5 535.6 1243.5 537.9M1231.5 525.5Q1239.1 527.8 1238.1 530.1M1258.3 532.2Q1266.0 534.5 1265.0 536.8M1252.9 524.5Q1260.5 526.7 1259.5 529.0M1247.5 516.8Q1255.0 519.0 1254.0 521.2M1274.2 523.4Q1281.8 525.6 1280.8 527.9M1268.6 515.7Q1276.2 517.9 1275.3 520.2M1263.2 508.1Q1270.7 510.3 1269.7 512.5M1289.7 514.6Q1297.4 516.8 1296.4 519.1M1284.2 507.1Q1291.7 509.2 1290.8 511.5M1278.6 499.6Q1286.2 501.7 1285.2 504.0M1305.1 506.0Q1312.7 508.2 1311.8 510.4M1299.5 498.6Q1307.0 500.7 1306.1 502.9M1293.9 491.2Q1301.4 493.3 1300.5 495.5M1320.3 497.6Q1327.8 499.7 1327.0 501.9"/>
</g>
</g>
<path d="M49.1 518.9 Q48.0 511.0 55.6 513.5 L741.0 738.5 Q779.0 751.0 814.1 731.9 L1453.6 384.4 Q1458.0 382.0 1457.7 387.0 L1456.2 412.0 Q1456.0 416.0 1452.5 417.9 L806.2 777.4 Q780.0 792.0 751.6 782.4 L67.2 550.8 Q53.0 546.0 50.9 531.2 Z" fill="#5b5b5d"/>
<path d="M49.1 518.9 Q48.0 511.0 55.6 513.5 L741.0 738.5 Q779.0 751.0 814.1 731.9 L1453.6 384.4 Q1458.0 382.0 1457.7 387.0 L1456.2 412.0 Q1456.0 416.0 1452.5 417.9 L806.2 777.4 Q780.0 792.0 751.6 782.4 L67.2 550.8 Q53.0 546.0 50.9 531.2 Z" fill="url(#bt)"/>
<path d="M55.6 513.5 Q48.0 511.0 55.5 508.2 L774.9 242.4 Q803.0 232.0 832.2 238.7 L1453.1 380.9 Q1458.0 382.0 1453.6 384.4 L814.1 731.9 Q779.0 751.0 741.0 738.5 Z" fill="url(#g1)"/>
<g clip-path="url(#c1)">
<rect x="0" y="200" width="1500" height="600" fill="url(#vs)"/>
<path d="M-1790 686L12116 -9262M-1668 653L13254 -10402M-1552 620L14747 -11898M-1440 589L16796 -13950M-1334 560L19777 -16937M-1231 531L24519 -21687M-1133 504L33232 -30416M-1038 478L54500 -51722M-947 452L185403 -182862M-860 428L-111467 114544M-776 404L-40017 42965M-694 382L-23275 26193M-616 360L-15804 18708M-540 339L-11572 14469M-467 319L-8849 11740M-397 299L-6949 9837M-329 280L-5548 8434M-263 262L-4473 7357M-199 244L-3621 6504M-137 227L-2930 5812M-77 210L-2358 5238M-19 194L-1877 4756M37 178L-1466 4345M92 163L-1112 3990M145 149L-803 3680M197 134L-531 3408M247 120L-290 3167M295 107L-75 2951M343 94L118 2758M389 81L292 2583M433 68L451 2425M477 56L595 2280M519 45L727 2148M561 33L848 2026M601 22L960 1914M640 11L1063 1811M679 0L1159 1714M716 -10L1249 1625M752 -20L1332 1542M788 -30L1410 1464M823 -40L1482 1391M857 -49L1551 1322M890 -58L1615 1258M922 -67L1676 1197M954 -76L1733 1140M985 -85L1787 1086M1015 -93L1838 1034M1044 -101L1887 986M1073 -109L1933 940M1102 -117L1977 896M1129 -125L2018 854M1156 -133L2058 814M1183 -140L2096 776M1209 -147L2132 740M1234 -154L2167 705M1259 -161L2200 672M1284 -168L2232 640M1308 -175L2262 610M1331 -181L2291 580M1354 -188L2320 552M1377 -194L2346 525M1399 -200L2372 499M1421 -206L2397 474M1442 -212L2422 450M1463 -218L2445 427" stroke="url(#gq)" stroke-width="2" fill="none" filter="url(#b1)"/>
<path d="M-4905 1552L1894 978M-4625 1475L1938 935M-4363 1402L1979 893M-4117 1333L2019 854M-3885 1269L2056 816M-3667 1208L2092 780M-3461 1151L2127 745M-3266 1097L2160 712M-3082 1046L2192 680M-2907 997L2222 650M-2741 951L2251 620M-2583 907L2279 592M-2432 865L2307 565M-2289 825L2333 539M-2152 787L2358 514M-2021 751L2382 490M-1896 716L2405 466M-1776 683L2428 444M-1661 651L2450 422M-1551 620L2471 401M-1445 591L2491 380M-1344 563L2511 361M-1246 535L2530 341M-1152 509L2548 323M-1062 484L2566 305M-975 460L2584 288M-891 437L2601 271M-810 414L2617 254M-732 392L2633 238M-656 371L2648 223M-583 351L2663 208M-513 331L2678 193M-444 312L2692 179M-378 294L2706 165M-314 276L2719 152M-252 259L2732 139M-192 242L2745 126M-133 226L2758 113M-77 210L2770 101M-21 195L2781 89M32 180L2793 78M84 166L2804 67M134 152L2815 56M184 138L2826 45M231 125L2836 35M278 112L2846 24M323 99L2856 14M367 87L2866 5M410 75L2876 -5M452 63L2885 -14M493 52L2894 -23M533 41L2903 -32M572 30L2912 -41M610 19L2920 -50M647 9L2928 -58M683 -1L2937 -66M718 -11L2945 -74M753 -20L2953 -82M786 -30L2960 -90M819 -39L2968 -97" stroke="url(#gr)" stroke-width="1.3" fill="none"/>
</g>
<rect x="1402" y="404.7" width="206" height="2.6" fill="#000"/>
<rect x="1402" y="556.7" width="206" height="2.6" fill="#000"/>
<rect x="1402" y="685.7" width="206" height="2.6" fill="#000"/>
<rect x="1402" y="831.7" width="206" height="2.6" fill="#000"/>
</svg>
<div class="lb" style="left:1630.5px;top:385.5px">Gewebe</div>
<div class="lb" style="left:1629.5px;top:537.6px">Schwamm</div>
<div class="lb" style="left:1629.5px;top:666.3px">Schwamm</div>
<div class="lb pk" style="left:1626.8px;top:812.1px">Punkt Kunststoff</div>
</body></html>
